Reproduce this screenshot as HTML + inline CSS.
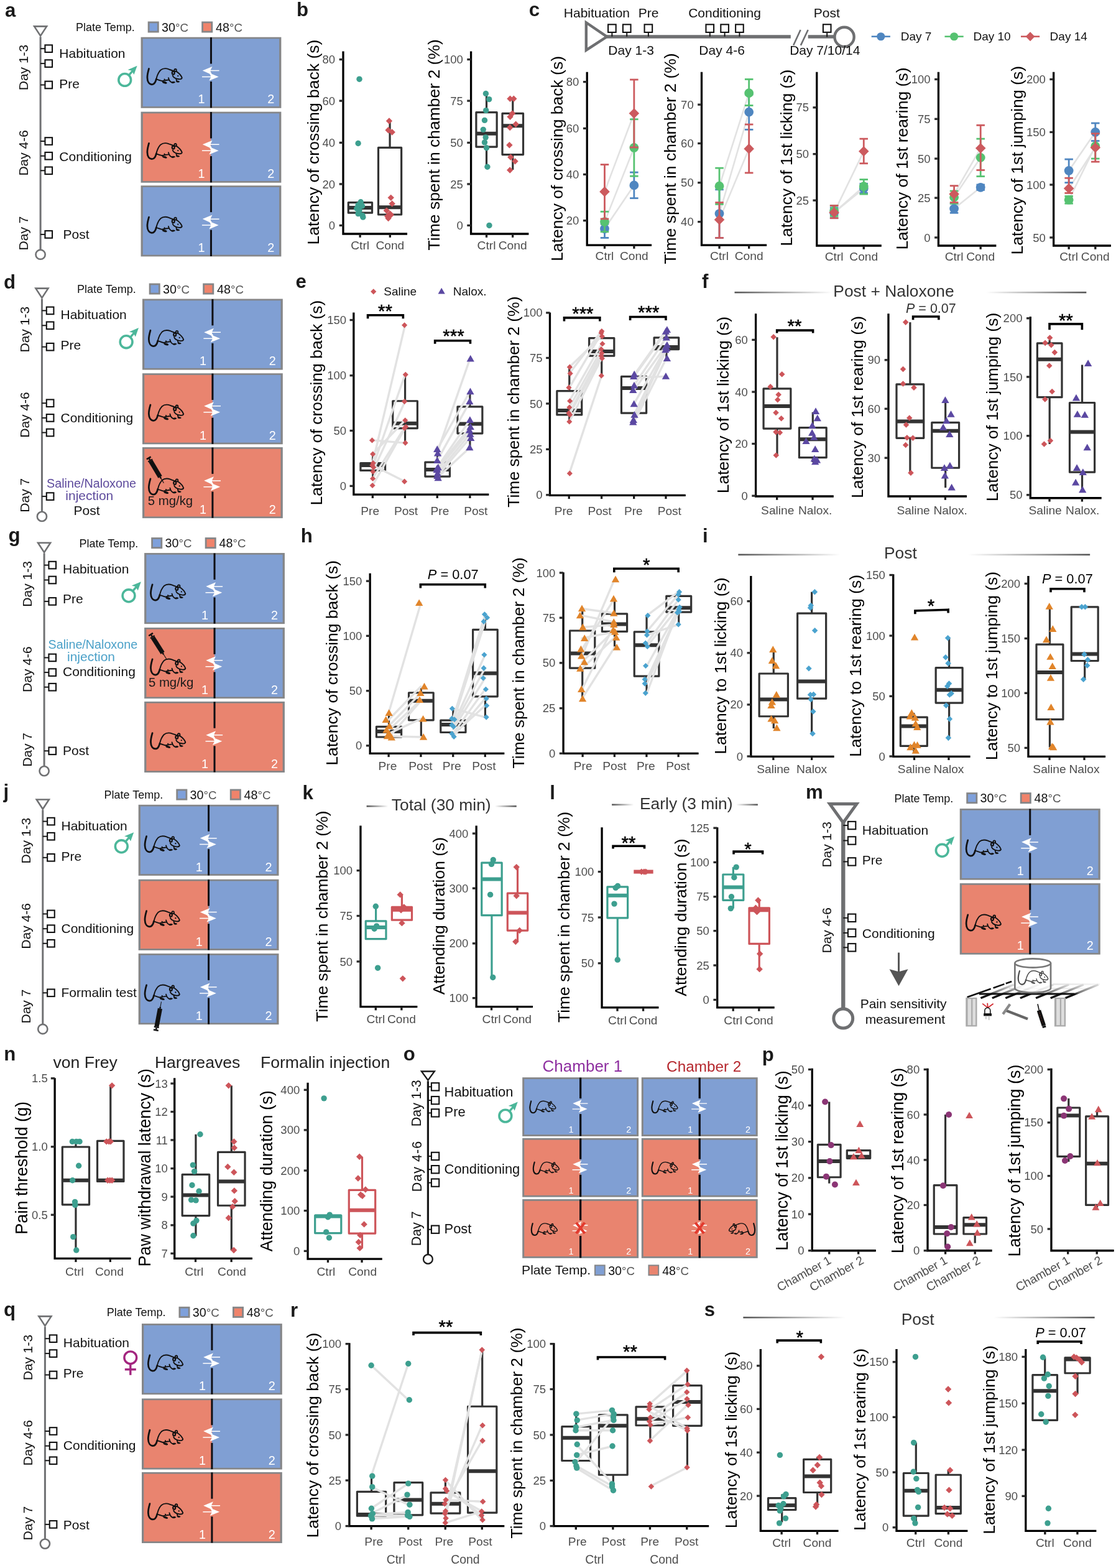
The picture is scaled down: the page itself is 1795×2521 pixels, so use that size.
<!DOCTYPE html>
<html lang="en"><head><meta charset="utf-8"><title>Figure</title>
<style>html,body{margin:0;padding:0;background:#fff}svg{display:block}text{font-family:"Liberation Sans",sans-serif;white-space:pre}</style></head>
<body>
<svg width="1795" height="2521" viewBox="0 0 1795 2521" role="img" aria-label="Figure">
<rect width="1795" height="2521" fill="#fff"/>
<text x="7.9" y="27.2" font-size="31.2" fill="#1a1a1a" font-weight="bold">a</text>
<line x1="65.1" y1="59.2" x2="65.1" y2="401.6" stroke="#707173" stroke-width="3"/>
<polygon points="55.1,42.4 75.1,42.4 65.1,57.7" fill="#fff" stroke="#707173" stroke-width="2.6"/>
<circle cx="65.1" cy="409.2" r="7.6" fill="#fff" stroke="#707173" stroke-width="2.6"/>
<line x1="65.1" y1="78.2" x2="72.45" y2="78.2" stroke="#111" stroke-width="1.9"/>
<rect x="72.45" y="72.4" width="11.6" height="11.6" fill="#fff" stroke="#111" stroke-width="2.1"/>
<line x1="65.1" y1="102.1" x2="72.45" y2="102.1" stroke="#111" stroke-width="1.9"/>
<rect x="72.45" y="96.3" width="11.6" height="11.6" fill="#fff" stroke="#111" stroke-width="2.1"/>
<line x1="65.1" y1="136.5" x2="72.45" y2="136.5" stroke="#111" stroke-width="1.9"/>
<rect x="72.45" y="130.7" width="11.6" height="11.6" fill="#fff" stroke="#111" stroke-width="2.1"/>
<line x1="65.1" y1="227" x2="72.45" y2="227" stroke="#111" stroke-width="1.9"/>
<rect x="72.45" y="221.2" width="11.6" height="11.6" fill="#fff" stroke="#111" stroke-width="2.1"/>
<line x1="65.1" y1="250.7" x2="72.45" y2="250.7" stroke="#111" stroke-width="1.9"/>
<rect x="72.45" y="244.9" width="11.6" height="11.6" fill="#fff" stroke="#111" stroke-width="2.1"/>
<line x1="65.1" y1="274.3" x2="72.45" y2="274.3" stroke="#111" stroke-width="1.9"/>
<rect x="72.45" y="268.5" width="11.6" height="11.6" fill="#fff" stroke="#111" stroke-width="2.1"/>
<line x1="65.1" y1="376.9" x2="72.45" y2="376.9" stroke="#111" stroke-width="1.9"/>
<rect x="72.45" y="371.1" width="11.6" height="11.6" fill="#fff" stroke="#111" stroke-width="2.1"/>
<text x="45" y="108.5" font-size="21" fill="#111" text-anchor="middle" transform="rotate(-90 45 108.5)">Day 1-3</text>
<text x="45" y="245.8" font-size="21" fill="#111" text-anchor="middle" transform="rotate(-90 45 245.8)">Day 4-6</text>
<text x="45" y="375" font-size="21" fill="#111" text-anchor="middle" transform="rotate(-90 45 375)">Day 7</text>
<text x="122" y="50" font-size="18" fill="#111">Plate Temp.</text>
<rect x="237.7" y="34.5" width="18" height="18" fill="#858688"/>
<rect x="240.5" y="37.3" width="12.4" height="12.4" fill="#7ea0db"/>
<text x="260" y="50.8" font-size="19.7" fill="#111">30<tspan fill="#555" font-size="18.71">°C</tspan></text>
<rect x="324.2" y="34.5" width="18" height="18" fill="#858688"/>
<rect x="327" y="37.3" width="12.4" height="12.4" fill="#f0836b"/>
<text x="347" y="50.8" font-size="19.7" fill="#111">48<tspan fill="#555" font-size="18.71">°C</tspan></text>
<rect x="226.55" y="59.7" width="225.8" height="114.1" fill="#858688"/>
<rect x="229.85" y="62.4" width="109.6" height="108.7" fill="#809fd3"/>
<rect x="339.45" y="62.4" width="109.6" height="108.7" fill="#809fd3"/>
<rect x="337.95" y="60.1" width="3" height="42.4" fill="#0f0f14"/>
<rect x="337.95" y="131.1" width="3" height="42.3" fill="#0f0f14"/>
<g transform="translate(339.45 118.4) scale(1.0000)" fill="#fff" stroke="none">
<path d="M-13.7 -4.9 L2 -11.4 L-0.8 -5.6 L13.1 -5.6 L13.1 -4.1 L-0.9 -4.1 L-1 0.9 Z"/>
<path d="M12.2 5.1 L-3.2 11.4 L-0.2 5.85 L-14.5 5.85 L-14.5 4.35 L-0.2 4.35 L-2.9 -1.2 Z"/>
<path d="M-1.6 -4 L-2.9 -1.2 L1.2 3 L0.6 -1 Z"/>
</g>
<g transform="translate(235.85 109.6) scale(0.04310) translate(-130 -225)" fill="none" stroke="#111" stroke-width="44.08" stroke-linecap="round" stroke-linejoin="round">
<path d="M215 245 C190 330 152 470 155 580 C158 720 220 825 320 832 C410 835 465 740 490 630" stroke-width="63.92"/>
<path d="M490 630 C515 520 560 390 650 298 C740 225 870 232 960 265 C1030 292 1090 322 1150 332"/>
<ellipse cx="1203" cy="305" rx="40" ry="46"/>
<ellipse cx="1125" cy="400" rx="46" ry="58" stroke-width="50.69"/>
<path d="M1242 348 C1320 400 1420 500 1450 585 C1440 638 1380 645 1300 630 C1220 615 1130 590 1102 500"/>
<circle cx="1300" cy="515" r="27" fill="#111" stroke="none"/>
<path d="M490 640 C560 655 640 685 700 705 M700 705 C780 680 860 668 945 662 M945 588 C950 620 960 650 985 690 C1010 725 1040 750 1075 760 M1232 622 C1236 660 1245 690 1262 712 M796 640 L800 672"/>
<g fill="#111" stroke-width="22.04">
<ellipse cx="800" cy="758" rx="82" ry="27" transform="rotate(17 800 758)"/>
<ellipse cx="1120" cy="755" rx="62" ry="24" transform="rotate(-6 1120 755)"/>
<ellipse cx="1292" cy="725" rx="58" ry="22" transform="rotate(6 1292 725)"/>
</g>
</g>
<text x="329.55" y="166.4" font-size="19.8" fill="#fff" text-anchor="end">1</text>
<text x="441.35" y="166.4" font-size="19.8" fill="#fff" text-anchor="end">2</text>
<rect x="226.55" y="179.66" width="225.8" height="114.1" fill="#858688"/>
<rect x="229.85" y="182.36" width="109.6" height="108.7" fill="#e9846f"/>
<rect x="339.45" y="182.36" width="109.6" height="108.7" fill="#809fd3"/>
<rect x="337.95" y="180.06" width="3" height="42.4" fill="#0f0f14"/>
<rect x="337.95" y="251.06" width="3" height="42.3" fill="#0f0f14"/>
<g transform="translate(339.45 237.16) scale(1.0000)" fill="#fff" stroke="none">
<path d="M-13.7 -4.9 L2 -11.4 L-0.8 -5.6 L13.1 -5.6 L13.1 -4.1 L-0.9 -4.1 L-1 0.9 Z"/>
<path d="M12.2 5.1 L-3.2 11.4 L-0.2 5.85 L-14.5 5.85 L-14.5 4.35 L-0.2 4.35 L-2.9 -1.2 Z"/>
<path d="M-1.6 -4 L-2.9 -1.2 L1.2 3 L0.6 -1 Z"/>
</g>
<g transform="translate(235.85 229.56) scale(0.04310) translate(-130 -225)" fill="none" stroke="#111" stroke-width="44.08" stroke-linecap="round" stroke-linejoin="round">
<path d="M215 245 C190 330 152 470 155 580 C158 720 220 825 320 832 C410 835 465 740 490 630" stroke-width="63.92"/>
<path d="M490 630 C515 520 560 390 650 298 C740 225 870 232 960 265 C1030 292 1090 322 1150 332"/>
<ellipse cx="1203" cy="305" rx="40" ry="46"/>
<ellipse cx="1125" cy="400" rx="46" ry="58" stroke-width="50.69"/>
<path d="M1242 348 C1320 400 1420 500 1450 585 C1440 638 1380 645 1300 630 C1220 615 1130 590 1102 500"/>
<circle cx="1300" cy="515" r="27" fill="#111" stroke="none"/>
<path d="M490 640 C560 655 640 685 700 705 M700 705 C780 680 860 668 945 662 M945 588 C950 620 960 650 985 690 C1010 725 1040 750 1075 760 M1232 622 C1236 660 1245 690 1262 712 M796 640 L800 672"/>
<g fill="#111" stroke-width="22.04">
<ellipse cx="800" cy="758" rx="82" ry="27" transform="rotate(17 800 758)"/>
<ellipse cx="1120" cy="755" rx="62" ry="24" transform="rotate(-6 1120 755)"/>
<ellipse cx="1292" cy="725" rx="58" ry="22" transform="rotate(6 1292 725)"/>
</g>
</g>
<text x="329.55" y="286.36" font-size="19.8" fill="#fff" text-anchor="end">1</text>
<text x="441.35" y="286.36" font-size="19.8" fill="#fff" text-anchor="end">2</text>
<rect x="226.55" y="298.3" width="225.8" height="114.1" fill="#858688"/>
<rect x="229.85" y="301" width="109.6" height="108.7" fill="#809fd3"/>
<rect x="339.45" y="301" width="109.6" height="108.7" fill="#809fd3"/>
<rect x="337.95" y="298.7" width="3" height="42.4" fill="#0f0f14"/>
<rect x="337.95" y="369.7" width="3" height="42.3" fill="#0f0f14"/>
<g transform="translate(339.45 357) scale(1.0000)" fill="#fff" stroke="none">
<path d="M-13.7 -4.9 L2 -11.4 L-0.8 -5.6 L13.1 -5.6 L13.1 -4.1 L-0.9 -4.1 L-1 0.9 Z"/>
<path d="M12.2 5.1 L-3.2 11.4 L-0.2 5.85 L-14.5 5.85 L-14.5 4.35 L-0.2 4.35 L-2.9 -1.2 Z"/>
<path d="M-1.6 -4 L-2.9 -1.2 L1.2 3 L0.6 -1 Z"/>
</g>
<g transform="translate(235.85 348.2) scale(0.04310) translate(-130 -225)" fill="none" stroke="#111" stroke-width="44.08" stroke-linecap="round" stroke-linejoin="round">
<path d="M215 245 C190 330 152 470 155 580 C158 720 220 825 320 832 C410 835 465 740 490 630" stroke-width="63.92"/>
<path d="M490 630 C515 520 560 390 650 298 C740 225 870 232 960 265 C1030 292 1090 322 1150 332"/>
<ellipse cx="1203" cy="305" rx="40" ry="46"/>
<ellipse cx="1125" cy="400" rx="46" ry="58" stroke-width="50.69"/>
<path d="M1242 348 C1320 400 1420 500 1450 585 C1440 638 1380 645 1300 630 C1220 615 1130 590 1102 500"/>
<circle cx="1300" cy="515" r="27" fill="#111" stroke="none"/>
<path d="M490 640 C560 655 640 685 700 705 M700 705 C780 680 860 668 945 662 M945 588 C950 620 960 650 985 690 C1010 725 1040 750 1075 760 M1232 622 C1236 660 1245 690 1262 712 M796 640 L800 672"/>
<g fill="#111" stroke-width="22.04">
<ellipse cx="800" cy="758" rx="82" ry="27" transform="rotate(17 800 758)"/>
<ellipse cx="1120" cy="755" rx="62" ry="24" transform="rotate(-6 1120 755)"/>
<ellipse cx="1292" cy="725" rx="58" ry="22" transform="rotate(6 1292 725)"/>
</g>
</g>
<text x="329.55" y="405" font-size="19.8" fill="#fff" text-anchor="end">1</text>
<text x="441.35" y="405" font-size="19.8" fill="#fff" text-anchor="end">2</text>
<circle cx="200.7" cy="128.4" r="9.9" fill="none" stroke="#4cb79a" stroke-width="3.6"/>
<line x1="207.3" y1="120.8" x2="215.2" y2="111.8" stroke="#4cb79a" stroke-width="3.4"/>
<polygon points="220.6,105.8 205.5,112.2 211.9,113.8 215.5,120.1" fill="#4cb79a"/>
<text x="95.3" y="92.8" font-size="21" fill="#111">Habituation</text>
<text x="95.3" y="142" font-size="21" fill="#111">Pre</text>
<text x="95.3" y="258.6" font-size="21" fill="#111">Conditioning</text>
<text x="101.6" y="384" font-size="21" fill="#111">Post</text>
<text x="5.9" y="463.9" font-size="31.2" fill="#1a1a1a" font-weight="bold">d</text>
<line x1="67.45" y1="480.4" x2="67.45" y2="822.8" stroke="#707173" stroke-width="3"/>
<polygon points="57.45,463.6 77.45,463.6 67.45,478.9" fill="#fff" stroke="#707173" stroke-width="2.6"/>
<circle cx="67.45" cy="830.4" r="7.6" fill="#fff" stroke="#707173" stroke-width="2.6"/>
<line x1="67.45" y1="499.4" x2="74.8" y2="499.4" stroke="#111" stroke-width="1.9"/>
<rect x="74.8" y="493.6" width="11.6" height="11.6" fill="#fff" stroke="#111" stroke-width="2.1"/>
<line x1="67.45" y1="523.3" x2="74.8" y2="523.3" stroke="#111" stroke-width="1.9"/>
<rect x="74.8" y="517.5" width="11.6" height="11.6" fill="#fff" stroke="#111" stroke-width="2.1"/>
<line x1="67.45" y1="557.7" x2="74.8" y2="557.7" stroke="#111" stroke-width="1.9"/>
<rect x="74.8" y="551.9" width="11.6" height="11.6" fill="#fff" stroke="#111" stroke-width="2.1"/>
<line x1="67.45" y1="648.2" x2="74.8" y2="648.2" stroke="#111" stroke-width="1.9"/>
<rect x="74.8" y="642.4" width="11.6" height="11.6" fill="#fff" stroke="#111" stroke-width="2.1"/>
<line x1="67.45" y1="671.9" x2="74.8" y2="671.9" stroke="#111" stroke-width="1.9"/>
<rect x="74.8" y="666.1" width="11.6" height="11.6" fill="#fff" stroke="#111" stroke-width="2.1"/>
<line x1="67.45" y1="695.5" x2="74.8" y2="695.5" stroke="#111" stroke-width="1.9"/>
<rect x="74.8" y="689.7" width="11.6" height="11.6" fill="#fff" stroke="#111" stroke-width="2.1"/>
<line x1="67.45" y1="798.1" x2="74.8" y2="798.1" stroke="#111" stroke-width="1.9"/>
<rect x="74.8" y="792.3" width="11.6" height="11.6" fill="#fff" stroke="#111" stroke-width="2.1"/>
<text x="47.35" y="529.7" font-size="21" fill="#111" text-anchor="middle" transform="rotate(-90 47.35 529.7)">Day 1-3</text>
<text x="47.35" y="667" font-size="21" fill="#111" text-anchor="middle" transform="rotate(-90 47.35 667)">Day 4-6</text>
<text x="47.35" y="796.2" font-size="21" fill="#111" text-anchor="middle" transform="rotate(-90 47.35 796.2)">Day 7</text>
<text x="124" y="471" font-size="18" fill="#111">Plate Temp.</text>
<rect x="239.7" y="455.5" width="18" height="18" fill="#858688"/>
<rect x="242.5" y="458.3" width="12.4" height="12.4" fill="#7ea0db"/>
<text x="262" y="471.8" font-size="19.7" fill="#111">30<tspan fill="#555" font-size="18.71">°C</tspan></text>
<rect x="326.2" y="455.5" width="18" height="18" fill="#858688"/>
<rect x="329" y="458.3" width="12.4" height="12.4" fill="#f0836b"/>
<text x="349" y="471.8" font-size="19.7" fill="#111">48<tspan fill="#555" font-size="18.71">°C</tspan></text>
<rect x="229" y="480.5" width="225.8" height="114.1" fill="#858688"/>
<rect x="232.3" y="483.2" width="109.6" height="108.7" fill="#809fd3"/>
<rect x="341.9" y="483.2" width="109.6" height="108.7" fill="#809fd3"/>
<rect x="340.4" y="480.9" width="3" height="42.4" fill="#0f0f14"/>
<rect x="340.4" y="551.9" width="3" height="42.3" fill="#0f0f14"/>
<g transform="translate(341.9 539.2) scale(1.0000)" fill="#fff" stroke="none">
<path d="M-13.7 -4.9 L2 -11.4 L-0.8 -5.6 L13.1 -5.6 L13.1 -4.1 L-0.9 -4.1 L-1 0.9 Z"/>
<path d="M12.2 5.1 L-3.2 11.4 L-0.2 5.85 L-14.5 5.85 L-14.5 4.35 L-0.2 4.35 L-2.9 -1.2 Z"/>
<path d="M-1.6 -4 L-2.9 -1.2 L1.2 3 L0.6 -1 Z"/>
</g>
<g transform="translate(238.3 530.4) scale(0.04310) translate(-130 -225)" fill="none" stroke="#111" stroke-width="44.08" stroke-linecap="round" stroke-linejoin="round">
<path d="M215 245 C190 330 152 470 155 580 C158 720 220 825 320 832 C410 835 465 740 490 630" stroke-width="63.92"/>
<path d="M490 630 C515 520 560 390 650 298 C740 225 870 232 960 265 C1030 292 1090 322 1150 332"/>
<ellipse cx="1203" cy="305" rx="40" ry="46"/>
<ellipse cx="1125" cy="400" rx="46" ry="58" stroke-width="50.69"/>
<path d="M1242 348 C1320 400 1420 500 1450 585 C1440 638 1380 645 1300 630 C1220 615 1130 590 1102 500"/>
<circle cx="1300" cy="515" r="27" fill="#111" stroke="none"/>
<path d="M490 640 C560 655 640 685 700 705 M700 705 C780 680 860 668 945 662 M945 588 C950 620 960 650 985 690 C1010 725 1040 750 1075 760 M1232 622 C1236 660 1245 690 1262 712 M796 640 L800 672"/>
<g fill="#111" stroke-width="22.04">
<ellipse cx="800" cy="758" rx="82" ry="27" transform="rotate(17 800 758)"/>
<ellipse cx="1120" cy="755" rx="62" ry="24" transform="rotate(-6 1120 755)"/>
<ellipse cx="1292" cy="725" rx="58" ry="22" transform="rotate(6 1292 725)"/>
</g>
</g>
<text x="332" y="587.2" font-size="19.8" fill="#fff" text-anchor="end">1</text>
<text x="443.8" y="587.2" font-size="19.8" fill="#fff" text-anchor="end">2</text>
<rect x="229" y="600.2" width="225.8" height="114.1" fill="#858688"/>
<rect x="232.3" y="602.9" width="109.6" height="108.7" fill="#e9846f"/>
<rect x="341.9" y="602.9" width="109.6" height="108.7" fill="#809fd3"/>
<rect x="340.4" y="600.6" width="3" height="42.4" fill="#0f0f14"/>
<rect x="340.4" y="671.6" width="3" height="42.3" fill="#0f0f14"/>
<g transform="translate(341.9 657.7) scale(1.0000)" fill="#fff" stroke="none">
<path d="M-13.7 -4.9 L2 -11.4 L-0.8 -5.6 L13.1 -5.6 L13.1 -4.1 L-0.9 -4.1 L-1 0.9 Z"/>
<path d="M12.2 5.1 L-3.2 11.4 L-0.2 5.85 L-14.5 5.85 L-14.5 4.35 L-0.2 4.35 L-2.9 -1.2 Z"/>
<path d="M-1.6 -4 L-2.9 -1.2 L1.2 3 L0.6 -1 Z"/>
</g>
<g transform="translate(238.3 650.1) scale(0.04310) translate(-130 -225)" fill="none" stroke="#111" stroke-width="44.08" stroke-linecap="round" stroke-linejoin="round">
<path d="M215 245 C190 330 152 470 155 580 C158 720 220 825 320 832 C410 835 465 740 490 630" stroke-width="63.92"/>
<path d="M490 630 C515 520 560 390 650 298 C740 225 870 232 960 265 C1030 292 1090 322 1150 332"/>
<ellipse cx="1203" cy="305" rx="40" ry="46"/>
<ellipse cx="1125" cy="400" rx="46" ry="58" stroke-width="50.69"/>
<path d="M1242 348 C1320 400 1420 500 1450 585 C1440 638 1380 645 1300 630 C1220 615 1130 590 1102 500"/>
<circle cx="1300" cy="515" r="27" fill="#111" stroke="none"/>
<path d="M490 640 C560 655 640 685 700 705 M700 705 C780 680 860 668 945 662 M945 588 C950 620 960 650 985 690 C1010 725 1040 750 1075 760 M1232 622 C1236 660 1245 690 1262 712 M796 640 L800 672"/>
<g fill="#111" stroke-width="22.04">
<ellipse cx="800" cy="758" rx="82" ry="27" transform="rotate(17 800 758)"/>
<ellipse cx="1120" cy="755" rx="62" ry="24" transform="rotate(-6 1120 755)"/>
<ellipse cx="1292" cy="725" rx="58" ry="22" transform="rotate(6 1292 725)"/>
</g>
</g>
<text x="332" y="706.9" font-size="19.8" fill="#fff" text-anchor="end">1</text>
<text x="443.8" y="706.9" font-size="19.8" fill="#fff" text-anchor="end">2</text>
<rect x="229" y="719.05" width="225.8" height="114.1" fill="#858688"/>
<rect x="232.3" y="721.75" width="109.6" height="108.7" fill="#e9846f"/>
<rect x="341.9" y="721.75" width="109.6" height="108.7" fill="#e9846f"/>
<rect x="340.4" y="719.45" width="3" height="42.4" fill="#0f0f14"/>
<rect x="340.4" y="790.45" width="3" height="42.3" fill="#0f0f14"/>
<g transform="translate(341.9 777.75) scale(1.0000)" fill="#fff" stroke="none">
<path d="M-13.7 -4.9 L2 -11.4 L-0.8 -5.6 L13.1 -5.6 L13.1 -4.1 L-0.9 -4.1 L-1 0.9 Z"/>
<path d="M12.2 5.1 L-3.2 11.4 L-0.2 5.85 L-14.5 5.85 L-14.5 4.35 L-0.2 4.35 L-2.9 -1.2 Z"/>
<path d="M-1.6 -4 L-2.9 -1.2 L1.2 3 L0.6 -1 Z"/>
</g>
<g transform="translate(238.3 768.95) scale(0.04310) translate(-130 -225)" fill="none" stroke="#111" stroke-width="44.08" stroke-linecap="round" stroke-linejoin="round">
<path d="M215 245 C190 330 152 470 155 580 C158 720 220 825 320 832 C410 835 465 740 490 630" stroke-width="63.92"/>
<path d="M490 630 C515 520 560 390 650 298 C740 225 870 232 960 265 C1030 292 1090 322 1150 332"/>
<ellipse cx="1203" cy="305" rx="40" ry="46"/>
<ellipse cx="1125" cy="400" rx="46" ry="58" stroke-width="50.69"/>
<path d="M1242 348 C1320 400 1420 500 1450 585 C1440 638 1380 645 1300 630 C1220 615 1130 590 1102 500"/>
<circle cx="1300" cy="515" r="27" fill="#111" stroke="none"/>
<path d="M490 640 C560 655 640 685 700 705 M700 705 C780 680 860 668 945 662 M945 588 C950 620 960 650 985 690 C1010 725 1040 750 1075 760 M1232 622 C1236 660 1245 690 1262 712 M796 640 L800 672"/>
<g fill="#111" stroke-width="22.04">
<ellipse cx="800" cy="758" rx="82" ry="27" transform="rotate(17 800 758)"/>
<ellipse cx="1120" cy="755" rx="62" ry="24" transform="rotate(-6 1120 755)"/>
<ellipse cx="1292" cy="725" rx="58" ry="22" transform="rotate(6 1292 725)"/>
</g>
</g>
<text x="332" y="825.75" font-size="19.8" fill="#fff" text-anchor="end">1</text>
<text x="443.8" y="825.75" font-size="19.8" fill="#fff" text-anchor="end">2</text>
<g transform="translate(238.6 735.2) rotate(59.08)">
<rect x="0" y="-3.96" width="2.6" height="7.92" fill="#111"/>
<rect x="2.6" y="-1.3" width="2.6" height="2.6" fill="#111"/>
<rect x="5" y="-4.03" width="2" height="8.06" fill="#111"/>
<rect x="7" y="-3.6" width="29.92" height="7.2" fill="#111"/>
<rect x="36.92" y="-1.3" width="2.5" height="2.6" fill="#111"/>
<line x1="36.92" y1="0" x2="48.26" y2="0" stroke="#111" stroke-width="1.1"/>
</g>
<text x="237.7" y="812.4" font-size="19.5" fill="#1a1a1a" textLength="72.5" lengthAdjust="spacingAndGlyphs">5 mg/kg</text>
<circle cx="203.1" cy="549.7" r="9.9" fill="none" stroke="#4cb79a" stroke-width="3.6"/>
<line x1="209.7" y1="542.1" x2="217.6" y2="533.1" stroke="#4cb79a" stroke-width="3.4"/>
<polygon points="223,527.1 207.9,533.5 214.3,535.1 217.9,541.4" fill="#4cb79a"/>
<text x="97.5" y="513.1" font-size="21" fill="#111">Habituation</text>
<text x="97.5" y="561.6" font-size="21" fill="#111">Pre</text>
<text x="97.5" y="678.5" font-size="21" fill="#111">Conditioning</text>
<text x="75" y="784.3" font-size="20" fill="#5d4a9c" textLength="144" lengthAdjust="spacingAndGlyphs">Saline/Naloxone</text>
<text x="105.3" y="803.7" font-size="20" fill="#5d4a9c" textLength="77" lengthAdjust="spacingAndGlyphs">injection</text>
<text x="118.6" y="827.6" font-size="21" fill="#111">Post</text>
<text x="13.4" y="871.2" font-size="31.2" fill="#1a1a1a" font-weight="bold">g</text>
<line x1="71.1" y1="889.6" x2="71.1" y2="1232" stroke="#707173" stroke-width="3"/>
<polygon points="61.1,872.8 81.1,872.8 71.1,888.1" fill="#fff" stroke="#707173" stroke-width="2.6"/>
<circle cx="71.1" cy="1239.6" r="7.6" fill="#fff" stroke="#707173" stroke-width="2.6"/>
<line x1="71.1" y1="908.6" x2="78.45" y2="908.6" stroke="#111" stroke-width="1.9"/>
<rect x="78.45" y="902.8" width="11.6" height="11.6" fill="#fff" stroke="#111" stroke-width="2.1"/>
<line x1="71.1" y1="932.5" x2="78.45" y2="932.5" stroke="#111" stroke-width="1.9"/>
<rect x="78.45" y="926.7" width="11.6" height="11.6" fill="#fff" stroke="#111" stroke-width="2.1"/>
<line x1="71.1" y1="966.9" x2="78.45" y2="966.9" stroke="#111" stroke-width="1.9"/>
<rect x="78.45" y="961.1" width="11.6" height="11.6" fill="#fff" stroke="#111" stroke-width="2.1"/>
<line x1="71.1" y1="1057.4" x2="78.45" y2="1057.4" stroke="#111" stroke-width="1.9"/>
<rect x="78.45" y="1051.6" width="11.6" height="11.6" fill="#fff" stroke="#111" stroke-width="2.1"/>
<line x1="71.1" y1="1081.1" x2="78.45" y2="1081.1" stroke="#111" stroke-width="1.9"/>
<rect x="78.45" y="1075.3" width="11.6" height="11.6" fill="#fff" stroke="#111" stroke-width="2.1"/>
<line x1="71.1" y1="1104.7" x2="78.45" y2="1104.7" stroke="#111" stroke-width="1.9"/>
<rect x="78.45" y="1098.9" width="11.6" height="11.6" fill="#fff" stroke="#111" stroke-width="2.1"/>
<line x1="71.1" y1="1207.3" x2="78.45" y2="1207.3" stroke="#111" stroke-width="1.9"/>
<rect x="78.45" y="1201.5" width="11.6" height="11.6" fill="#fff" stroke="#111" stroke-width="2.1"/>
<text x="51" y="938.9" font-size="21" fill="#111" text-anchor="middle" transform="rotate(-90 51 938.9)">Day 1-3</text>
<text x="51" y="1076.2" font-size="21" fill="#111" text-anchor="middle" transform="rotate(-90 51 1076.2)">Day 4-6</text>
<text x="51" y="1205.4" font-size="21" fill="#111" text-anchor="middle" transform="rotate(-90 51 1205.4)">Day 7</text>
<text x="127.5" y="879.6" font-size="18" fill="#111">Plate Temp.</text>
<rect x="243.2" y="864.1" width="18" height="18" fill="#858688"/>
<rect x="246" y="866.9" width="12.4" height="12.4" fill="#7ea0db"/>
<text x="265.5" y="880.4" font-size="19.7" fill="#111">30<tspan fill="#555" font-size="18.71">°C</tspan></text>
<rect x="329.7" y="864.1" width="18" height="18" fill="#858688"/>
<rect x="332.5" y="866.9" width="12.4" height="12.4" fill="#f0836b"/>
<text x="352.5" y="880.4" font-size="19.7" fill="#111">48<tspan fill="#555" font-size="18.71">°C</tspan></text>
<rect x="232.12" y="889.05" width="225.8" height="114.1" fill="#858688"/>
<rect x="235.42" y="891.75" width="109.6" height="108.7" fill="#809fd3"/>
<rect x="345.02" y="891.75" width="109.6" height="108.7" fill="#809fd3"/>
<rect x="343.52" y="889.45" width="3" height="42.4" fill="#0f0f14"/>
<rect x="343.52" y="960.45" width="3" height="42.3" fill="#0f0f14"/>
<g transform="translate(345.02 947.75) scale(1.0000)" fill="#fff" stroke="none">
<path d="M-13.7 -4.9 L2 -11.4 L-0.8 -5.6 L13.1 -5.6 L13.1 -4.1 L-0.9 -4.1 L-1 0.9 Z"/>
<path d="M12.2 5.1 L-3.2 11.4 L-0.2 5.85 L-14.5 5.85 L-14.5 4.35 L-0.2 4.35 L-2.9 -1.2 Z"/>
<path d="M-1.6 -4 L-2.9 -1.2 L1.2 3 L0.6 -1 Z"/>
</g>
<g transform="translate(241.42 938.95) scale(0.04310) translate(-130 -225)" fill="none" stroke="#111" stroke-width="44.08" stroke-linecap="round" stroke-linejoin="round">
<path d="M215 245 C190 330 152 470 155 580 C158 720 220 825 320 832 C410 835 465 740 490 630" stroke-width="63.92"/>
<path d="M490 630 C515 520 560 390 650 298 C740 225 870 232 960 265 C1030 292 1090 322 1150 332"/>
<ellipse cx="1203" cy="305" rx="40" ry="46"/>
<ellipse cx="1125" cy="400" rx="46" ry="58" stroke-width="50.69"/>
<path d="M1242 348 C1320 400 1420 500 1450 585 C1440 638 1380 645 1300 630 C1220 615 1130 590 1102 500"/>
<circle cx="1300" cy="515" r="27" fill="#111" stroke="none"/>
<path d="M490 640 C560 655 640 685 700 705 M700 705 C780 680 860 668 945 662 M945 588 C950 620 960 650 985 690 C1010 725 1040 750 1075 760 M1232 622 C1236 660 1245 690 1262 712 M796 640 L800 672"/>
<g fill="#111" stroke-width="22.04">
<ellipse cx="800" cy="758" rx="82" ry="27" transform="rotate(17 800 758)"/>
<ellipse cx="1120" cy="755" rx="62" ry="24" transform="rotate(-6 1120 755)"/>
<ellipse cx="1292" cy="725" rx="58" ry="22" transform="rotate(6 1292 725)"/>
</g>
</g>
<text x="335.12" y="995.75" font-size="19.8" fill="#fff" text-anchor="end">1</text>
<text x="446.92" y="995.75" font-size="19.8" fill="#fff" text-anchor="end">2</text>
<rect x="232.12" y="1009.05" width="225.8" height="114.1" fill="#858688"/>
<rect x="235.42" y="1011.75" width="109.6" height="108.7" fill="#e9846f"/>
<rect x="345.02" y="1011.75" width="109.6" height="108.7" fill="#809fd3"/>
<rect x="343.52" y="1009.45" width="3" height="42.4" fill="#0f0f14"/>
<rect x="343.52" y="1080.45" width="3" height="42.3" fill="#0f0f14"/>
<g transform="translate(345.02 1066.55) scale(1.0000)" fill="#fff" stroke="none">
<path d="M-13.7 -4.9 L2 -11.4 L-0.8 -5.6 L13.1 -5.6 L13.1 -4.1 L-0.9 -4.1 L-1 0.9 Z"/>
<path d="M12.2 5.1 L-3.2 11.4 L-0.2 5.85 L-14.5 5.85 L-14.5 4.35 L-0.2 4.35 L-2.9 -1.2 Z"/>
<path d="M-1.6 -4 L-2.9 -1.2 L1.2 3 L0.6 -1 Z"/>
</g>
<g transform="translate(241.42 1058.95) scale(0.04310) translate(-130 -225)" fill="none" stroke="#111" stroke-width="44.08" stroke-linecap="round" stroke-linejoin="round">
<path d="M215 245 C190 330 152 470 155 580 C158 720 220 825 320 832 C410 835 465 740 490 630" stroke-width="63.92"/>
<path d="M490 630 C515 520 560 390 650 298 C740 225 870 232 960 265 C1030 292 1090 322 1150 332"/>
<ellipse cx="1203" cy="305" rx="40" ry="46"/>
<ellipse cx="1125" cy="400" rx="46" ry="58" stroke-width="50.69"/>
<path d="M1242 348 C1320 400 1420 500 1450 585 C1440 638 1380 645 1300 630 C1220 615 1130 590 1102 500"/>
<circle cx="1300" cy="515" r="27" fill="#111" stroke="none"/>
<path d="M490 640 C560 655 640 685 700 705 M700 705 C780 680 860 668 945 662 M945 588 C950 620 960 650 985 690 C1010 725 1040 750 1075 760 M1232 622 C1236 660 1245 690 1262 712 M796 640 L800 672"/>
<g fill="#111" stroke-width="22.04">
<ellipse cx="800" cy="758" rx="82" ry="27" transform="rotate(17 800 758)"/>
<ellipse cx="1120" cy="755" rx="62" ry="24" transform="rotate(-6 1120 755)"/>
<ellipse cx="1292" cy="725" rx="58" ry="22" transform="rotate(6 1292 725)"/>
</g>
</g>
<text x="335.12" y="1115.75" font-size="19.8" fill="#fff" text-anchor="end">1</text>
<text x="446.92" y="1115.75" font-size="19.8" fill="#fff" text-anchor="end">2</text>
<g transform="translate(241.9 1019) rotate(57.41)">
<rect x="0" y="-3.96" width="2.6" height="7.92" fill="#111"/>
<rect x="2.6" y="-1.3" width="2.6" height="2.6" fill="#111"/>
<rect x="5" y="-4.03" width="2" height="8.06" fill="#111"/>
<rect x="7" y="-3.6" width="29.58" height="7.2" fill="#111"/>
<rect x="36.58" y="-1.3" width="2.5" height="2.6" fill="#111"/>
<line x1="36.58" y1="0" x2="47.71" y2="0" stroke="#111" stroke-width="1.1"/>
</g>
<text x="238.9" y="1104.1" font-size="19.5" fill="#1a1a1a" textLength="72.5" lengthAdjust="spacingAndGlyphs">5 mg/kg</text>
<rect x="232.12" y="1127.93" width="225.8" height="114.1" fill="#858688"/>
<rect x="235.42" y="1130.63" width="109.6" height="108.7" fill="#e9846f"/>
<rect x="345.02" y="1130.63" width="109.6" height="108.7" fill="#e9846f"/>
<rect x="343.52" y="1128.33" width="3" height="42.4" fill="#0f0f14"/>
<rect x="343.52" y="1199.33" width="3" height="42.3" fill="#0f0f14"/>
<g transform="translate(345.02 1186.63) scale(1.0000)" fill="#fff" stroke="none">
<path d="M-13.7 -4.9 L2 -11.4 L-0.8 -5.6 L13.1 -5.6 L13.1 -4.1 L-0.9 -4.1 L-1 0.9 Z"/>
<path d="M12.2 5.1 L-3.2 11.4 L-0.2 5.85 L-14.5 5.85 L-14.5 4.35 L-0.2 4.35 L-2.9 -1.2 Z"/>
<path d="M-1.6 -4 L-2.9 -1.2 L1.2 3 L0.6 -1 Z"/>
</g>
<g transform="translate(241.42 1177.83) scale(0.04310) translate(-130 -225)" fill="none" stroke="#111" stroke-width="44.08" stroke-linecap="round" stroke-linejoin="round">
<path d="M215 245 C190 330 152 470 155 580 C158 720 220 825 320 832 C410 835 465 740 490 630" stroke-width="63.92"/>
<path d="M490 630 C515 520 560 390 650 298 C740 225 870 232 960 265 C1030 292 1090 322 1150 332"/>
<ellipse cx="1203" cy="305" rx="40" ry="46"/>
<ellipse cx="1125" cy="400" rx="46" ry="58" stroke-width="50.69"/>
<path d="M1242 348 C1320 400 1420 500 1450 585 C1440 638 1380 645 1300 630 C1220 615 1130 590 1102 500"/>
<circle cx="1300" cy="515" r="27" fill="#111" stroke="none"/>
<path d="M490 640 C560 655 640 685 700 705 M700 705 C780 680 860 668 945 662 M945 588 C950 620 960 650 985 690 C1010 725 1040 750 1075 760 M1232 622 C1236 660 1245 690 1262 712 M796 640 L800 672"/>
<g fill="#111" stroke-width="22.04">
<ellipse cx="800" cy="758" rx="82" ry="27" transform="rotate(17 800 758)"/>
<ellipse cx="1120" cy="755" rx="62" ry="24" transform="rotate(-6 1120 755)"/>
<ellipse cx="1292" cy="725" rx="58" ry="22" transform="rotate(6 1292 725)"/>
</g>
</g>
<text x="335.12" y="1234.63" font-size="19.8" fill="#fff" text-anchor="end">1</text>
<text x="446.92" y="1234.63" font-size="19.8" fill="#fff" text-anchor="end">2</text>
<circle cx="207" cy="957.8" r="9.9" fill="none" stroke="#4cb79a" stroke-width="3.6"/>
<line x1="213.6" y1="950.2" x2="221.5" y2="941.2" stroke="#4cb79a" stroke-width="3.4"/>
<polygon points="226.9,935.2 211.8,941.6 218.2,943.2 221.8,949.5" fill="#4cb79a"/>
<text x="101.1" y="922.3" font-size="21" fill="#111">Habituation</text>
<text x="101.1" y="970.2" font-size="21" fill="#111">Pre</text>
<text x="77.6" y="1043.2" font-size="20" fill="#4aa0c8" textLength="143.5" lengthAdjust="spacingAndGlyphs">Saline/Naloxone</text>
<text x="108" y="1063.1" font-size="20" fill="#4aa0c8" textLength="77" lengthAdjust="spacingAndGlyphs">injection</text>
<text x="101.1" y="1086.6" font-size="21" fill="#111">Conditioning</text>
<text x="101.1" y="1214.1" font-size="21" fill="#111">Post</text>
<text x="5.4" y="1283.4" font-size="31.2" fill="#1a1a1a" font-weight="bold">j</text>
<line x1="68.8" y1="1302.3" x2="68.8" y2="1646.9" stroke="#707173" stroke-width="3"/>
<polygon points="58.8,1285.5 78.8,1285.5 68.8,1300.8" fill="#fff" stroke="#707173" stroke-width="2.6"/>
<circle cx="68.8" cy="1654.5" r="7.6" fill="#fff" stroke="#707173" stroke-width="2.6"/>
<line x1="68.8" y1="1320.6" x2="76.15" y2="1320.6" stroke="#111" stroke-width="1.9"/>
<rect x="76.15" y="1314.8" width="11.6" height="11.6" fill="#fff" stroke="#111" stroke-width="2.1"/>
<line x1="68.8" y1="1344.7" x2="76.15" y2="1344.7" stroke="#111" stroke-width="1.9"/>
<rect x="76.15" y="1338.9" width="11.6" height="11.6" fill="#fff" stroke="#111" stroke-width="2.1"/>
<line x1="68.8" y1="1378.8" x2="76.15" y2="1378.8" stroke="#111" stroke-width="1.9"/>
<rect x="76.15" y="1373" width="11.6" height="11.6" fill="#fff" stroke="#111" stroke-width="2.1"/>
<line x1="68.8" y1="1469.4" x2="76.15" y2="1469.4" stroke="#111" stroke-width="1.9"/>
<rect x="76.15" y="1463.6" width="11.6" height="11.6" fill="#fff" stroke="#111" stroke-width="2.1"/>
<line x1="68.8" y1="1493.2" x2="76.15" y2="1493.2" stroke="#111" stroke-width="1.9"/>
<rect x="76.15" y="1487.4" width="11.6" height="11.6" fill="#fff" stroke="#111" stroke-width="2.1"/>
<line x1="68.8" y1="1516.8" x2="76.15" y2="1516.8" stroke="#111" stroke-width="1.9"/>
<rect x="76.15" y="1511" width="11.6" height="11.6" fill="#fff" stroke="#111" stroke-width="2.1"/>
<line x1="68.8" y1="1596.3" x2="76.15" y2="1596.3" stroke="#111" stroke-width="1.9"/>
<rect x="76.15" y="1590.5" width="11.6" height="11.6" fill="#fff" stroke="#111" stroke-width="2.1"/>
<text x="48.7" y="1351.6" font-size="21" fill="#111" text-anchor="middle" transform="rotate(-90 48.7 1351.6)">Day 1-3</text>
<text x="48.7" y="1488.9" font-size="21" fill="#111" text-anchor="middle" transform="rotate(-90 48.7 1488.9)">Day 4-6</text>
<text x="48.7" y="1618.1" font-size="21" fill="#111" text-anchor="middle" transform="rotate(-90 48.7 1618.1)">Day 7</text>
<text x="167.6" y="1284.1" font-size="18" fill="#111">Plate Temp.</text>
<rect x="283.3" y="1268.6" width="18" height="18" fill="#858688"/>
<rect x="286.1" y="1271.4" width="12.4" height="12.4" fill="#7ea0db"/>
<text x="305.6" y="1284.9" font-size="19.7" fill="#111">30<tspan fill="#555" font-size="18.71">°C</tspan></text>
<rect x="369.8" y="1268.6" width="18" height="18" fill="#858688"/>
<rect x="372.6" y="1271.4" width="12.4" height="12.4" fill="#f0836b"/>
<text x="392.6" y="1284.9" font-size="19.7" fill="#111">48<tspan fill="#555" font-size="18.71">°C</tspan></text>
<rect x="222.67" y="1293.8" width="225.8" height="114.1" fill="#858688"/>
<rect x="225.97" y="1296.5" width="109.6" height="108.7" fill="#809fd3"/>
<rect x="335.57" y="1296.5" width="109.6" height="108.7" fill="#809fd3"/>
<rect x="334.07" y="1294.2" width="3" height="42.4" fill="#0f0f14"/>
<rect x="334.07" y="1365.2" width="3" height="42.3" fill="#0f0f14"/>
<g transform="translate(335.57 1352.5) scale(1.0000)" fill="#fff" stroke="none">
<path d="M-13.7 -4.9 L2 -11.4 L-0.8 -5.6 L13.1 -5.6 L13.1 -4.1 L-0.9 -4.1 L-1 0.9 Z"/>
<path d="M12.2 5.1 L-3.2 11.4 L-0.2 5.85 L-14.5 5.85 L-14.5 4.35 L-0.2 4.35 L-2.9 -1.2 Z"/>
<path d="M-1.6 -4 L-2.9 -1.2 L1.2 3 L0.6 -1 Z"/>
</g>
<g transform="translate(231.97 1343.7) scale(0.04310) translate(-130 -225)" fill="none" stroke="#111" stroke-width="44.08" stroke-linecap="round" stroke-linejoin="round">
<path d="M215 245 C190 330 152 470 155 580 C158 720 220 825 320 832 C410 835 465 740 490 630" stroke-width="63.92"/>
<path d="M490 630 C515 520 560 390 650 298 C740 225 870 232 960 265 C1030 292 1090 322 1150 332"/>
<ellipse cx="1203" cy="305" rx="40" ry="46"/>
<ellipse cx="1125" cy="400" rx="46" ry="58" stroke-width="50.69"/>
<path d="M1242 348 C1320 400 1420 500 1450 585 C1440 638 1380 645 1300 630 C1220 615 1130 590 1102 500"/>
<circle cx="1300" cy="515" r="27" fill="#111" stroke="none"/>
<path d="M490 640 C560 655 640 685 700 705 M700 705 C780 680 860 668 945 662 M945 588 C950 620 960 650 985 690 C1010 725 1040 750 1075 760 M1232 622 C1236 660 1245 690 1262 712 M796 640 L800 672"/>
<g fill="#111" stroke-width="22.04">
<ellipse cx="800" cy="758" rx="82" ry="27" transform="rotate(17 800 758)"/>
<ellipse cx="1120" cy="755" rx="62" ry="24" transform="rotate(-6 1120 755)"/>
<ellipse cx="1292" cy="725" rx="58" ry="22" transform="rotate(6 1292 725)"/>
</g>
</g>
<text x="325.67" y="1400.5" font-size="19.8" fill="#fff" text-anchor="end">1</text>
<text x="437.47" y="1400.5" font-size="19.8" fill="#fff" text-anchor="end">2</text>
<rect x="222.67" y="1413.8" width="225.8" height="114.1" fill="#858688"/>
<rect x="225.97" y="1416.5" width="109.6" height="108.7" fill="#e9846f"/>
<rect x="335.57" y="1416.5" width="109.6" height="108.7" fill="#809fd3"/>
<rect x="334.07" y="1414.2" width="3" height="42.4" fill="#0f0f14"/>
<rect x="334.07" y="1485.2" width="3" height="42.3" fill="#0f0f14"/>
<g transform="translate(335.57 1471.3) scale(1.0000)" fill="#fff" stroke="none">
<path d="M-13.7 -4.9 L2 -11.4 L-0.8 -5.6 L13.1 -5.6 L13.1 -4.1 L-0.9 -4.1 L-1 0.9 Z"/>
<path d="M12.2 5.1 L-3.2 11.4 L-0.2 5.85 L-14.5 5.85 L-14.5 4.35 L-0.2 4.35 L-2.9 -1.2 Z"/>
<path d="M-1.6 -4 L-2.9 -1.2 L1.2 3 L0.6 -1 Z"/>
</g>
<g transform="translate(231.97 1463.7) scale(0.04310) translate(-130 -225)" fill="none" stroke="#111" stroke-width="44.08" stroke-linecap="round" stroke-linejoin="round">
<path d="M215 245 C190 330 152 470 155 580 C158 720 220 825 320 832 C410 835 465 740 490 630" stroke-width="63.92"/>
<path d="M490 630 C515 520 560 390 650 298 C740 225 870 232 960 265 C1030 292 1090 322 1150 332"/>
<ellipse cx="1203" cy="305" rx="40" ry="46"/>
<ellipse cx="1125" cy="400" rx="46" ry="58" stroke-width="50.69"/>
<path d="M1242 348 C1320 400 1420 500 1450 585 C1440 638 1380 645 1300 630 C1220 615 1130 590 1102 500"/>
<circle cx="1300" cy="515" r="27" fill="#111" stroke="none"/>
<path d="M490 640 C560 655 640 685 700 705 M700 705 C780 680 860 668 945 662 M945 588 C950 620 960 650 985 690 C1010 725 1040 750 1075 760 M1232 622 C1236 660 1245 690 1262 712 M796 640 L800 672"/>
<g fill="#111" stroke-width="22.04">
<ellipse cx="800" cy="758" rx="82" ry="27" transform="rotate(17 800 758)"/>
<ellipse cx="1120" cy="755" rx="62" ry="24" transform="rotate(-6 1120 755)"/>
<ellipse cx="1292" cy="725" rx="58" ry="22" transform="rotate(6 1292 725)"/>
</g>
</g>
<text x="325.67" y="1520.5" font-size="19.8" fill="#fff" text-anchor="end">1</text>
<text x="437.47" y="1520.5" font-size="19.8" fill="#fff" text-anchor="end">2</text>
<rect x="222.67" y="1533.1" width="225.8" height="114.1" fill="#858688"/>
<rect x="225.97" y="1535.8" width="109.6" height="108.7" fill="#809fd3"/>
<rect x="335.57" y="1535.8" width="109.6" height="108.7" fill="#809fd3"/>
<rect x="334.07" y="1533.5" width="3" height="42.4" fill="#0f0f14"/>
<rect x="334.07" y="1604.5" width="3" height="42.3" fill="#0f0f14"/>
<g transform="translate(335.57 1591.8) scale(1.0000)" fill="#fff" stroke="none">
<path d="M-13.7 -4.9 L2 -11.4 L-0.8 -5.6 L13.1 -5.6 L13.1 -4.1 L-0.9 -4.1 L-1 0.9 Z"/>
<path d="M12.2 5.1 L-3.2 11.4 L-0.2 5.85 L-14.5 5.85 L-14.5 4.35 L-0.2 4.35 L-2.9 -1.2 Z"/>
<path d="M-1.6 -4 L-2.9 -1.2 L1.2 3 L0.6 -1 Z"/>
</g>
<g transform="translate(231.97 1583) scale(0.04310) translate(-130 -225)" fill="none" stroke="#111" stroke-width="44.08" stroke-linecap="round" stroke-linejoin="round">
<path d="M215 245 C190 330 152 470 155 580 C158 720 220 825 320 832 C410 835 465 740 490 630" stroke-width="63.92"/>
<path d="M490 630 C515 520 560 390 650 298 C740 225 870 232 960 265 C1030 292 1090 322 1150 332"/>
<ellipse cx="1203" cy="305" rx="40" ry="46"/>
<ellipse cx="1125" cy="400" rx="46" ry="58" stroke-width="50.69"/>
<path d="M1242 348 C1320 400 1420 500 1450 585 C1440 638 1380 645 1300 630 C1220 615 1130 590 1102 500"/>
<circle cx="1300" cy="515" r="27" fill="#111" stroke="none"/>
<path d="M490 640 C560 655 640 685 700 705 M700 705 C780 680 860 668 945 662 M945 588 C950 620 960 650 985 690 C1010 725 1040 750 1075 760 M1232 622 C1236 660 1245 690 1262 712 M796 640 L800 672"/>
<g fill="#111" stroke-width="22.04">
<ellipse cx="800" cy="758" rx="82" ry="27" transform="rotate(17 800 758)"/>
<ellipse cx="1120" cy="755" rx="62" ry="24" transform="rotate(-6 1120 755)"/>
<ellipse cx="1292" cy="725" rx="58" ry="22" transform="rotate(6 1292 725)"/>
</g>
</g>
<text x="325.67" y="1639.8" font-size="19.8" fill="#fff" text-anchor="end">1</text>
<text x="437.47" y="1639.8" font-size="19.8" fill="#fff" text-anchor="end">2</text>
<g transform="translate(250.6 1657.5) rotate(-79.28)">
<rect x="0" y="-3.96" width="2.6" height="7.92" fill="#111"/>
<rect x="2.6" y="-1.3" width="2.6" height="2.6" fill="#111"/>
<rect x="5" y="-4.03" width="2" height="8.06" fill="#111"/>
<rect x="7" y="-3.6" width="29.66" height="7.2" fill="#111"/>
<rect x="36.66" y="-1.3" width="2.5" height="2.6" fill="#111"/>
<line x1="36.66" y1="0" x2="47.84" y2="0" stroke="#111" stroke-width="1.1"/>
</g>
<circle cx="195.3" cy="1360.8" r="9.9" fill="none" stroke="#4cb79a" stroke-width="3.6"/>
<line x1="201.9" y1="1353.2" x2="209.8" y2="1344.2" stroke="#4cb79a" stroke-width="3.4"/>
<polygon points="215.2,1338.2 200.1,1344.6 206.5,1346.2 210.1,1352.5" fill="#4cb79a"/>
<text x="98.5" y="1335.1" font-size="21" fill="#111">Habituation</text>
<text x="98.5" y="1383.6" font-size="21" fill="#111">Pre</text>
<text x="98.5" y="1500.2" font-size="21" fill="#111">Conditioning</text>
<text x="98.5" y="1603.3" font-size="21" fill="#111">Formalin test</text>
<text x="5.9" y="2116.2" font-size="31.2" fill="#1a1a1a" font-weight="bold">q</text>
<line x1="72.4" y1="2133.2" x2="72.4" y2="2474.5" stroke="#707173" stroke-width="3"/>
<polygon points="62.4,2116.4 82.4,2116.4 72.4,2131.7" fill="#fff" stroke="#707173" stroke-width="2.6"/>
<circle cx="72.4" cy="2482.1" r="7.6" fill="#fff" stroke="#707173" stroke-width="2.6"/>
<line x1="72.4" y1="2152.2" x2="79.75" y2="2152.2" stroke="#111" stroke-width="1.9"/>
<rect x="79.75" y="2146.4" width="11.6" height="11.6" fill="#fff" stroke="#111" stroke-width="2.1"/>
<line x1="72.4" y1="2176.1" x2="79.75" y2="2176.1" stroke="#111" stroke-width="1.9"/>
<rect x="79.75" y="2170.3" width="11.6" height="11.6" fill="#fff" stroke="#111" stroke-width="2.1"/>
<line x1="72.4" y1="2210.5" x2="79.75" y2="2210.5" stroke="#111" stroke-width="1.9"/>
<rect x="79.75" y="2204.7" width="11.6" height="11.6" fill="#fff" stroke="#111" stroke-width="2.1"/>
<line x1="72.4" y1="2301" x2="79.75" y2="2301" stroke="#111" stroke-width="1.9"/>
<rect x="79.75" y="2295.2" width="11.6" height="11.6" fill="#fff" stroke="#111" stroke-width="2.1"/>
<line x1="72.4" y1="2324.7" x2="79.75" y2="2324.7" stroke="#111" stroke-width="1.9"/>
<rect x="79.75" y="2318.9" width="11.6" height="11.6" fill="#fff" stroke="#111" stroke-width="2.1"/>
<line x1="72.4" y1="2348.3" x2="79.75" y2="2348.3" stroke="#111" stroke-width="1.9"/>
<rect x="79.75" y="2342.5" width="11.6" height="11.6" fill="#fff" stroke="#111" stroke-width="2.1"/>
<line x1="72.4" y1="2450.9" x2="79.75" y2="2450.9" stroke="#111" stroke-width="1.9"/>
<rect x="79.75" y="2445.1" width="11.6" height="11.6" fill="#fff" stroke="#111" stroke-width="2.1"/>
<text x="52.3" y="2182.5" font-size="21" fill="#111" text-anchor="middle" transform="rotate(-90 52.3 2182.5)">Day 1-3</text>
<text x="52.3" y="2319.8" font-size="21" fill="#111" text-anchor="middle" transform="rotate(-90 52.3 2319.8)">Day 4-6</text>
<text x="52.3" y="2449" font-size="21" fill="#111" text-anchor="middle" transform="rotate(-90 52.3 2449)">Day 7</text>
<text x="171.8" y="2116.3" font-size="18" fill="#111">Plate Temp.</text>
<rect x="287.5" y="2100.8" width="18" height="18" fill="#858688"/>
<rect x="290.3" y="2103.6" width="12.4" height="12.4" fill="#7ea0db"/>
<text x="309.8" y="2117.1" font-size="19.7" fill="#111">30<tspan fill="#555" font-size="18.71">°C</tspan></text>
<rect x="374" y="2100.8" width="18" height="18" fill="#858688"/>
<rect x="376.8" y="2103.6" width="12.4" height="12.4" fill="#f0836b"/>
<text x="396.8" y="2117.1" font-size="19.7" fill="#111">48<tspan fill="#555" font-size="18.71">°C</tspan></text>
<rect x="228" y="2128.1" width="225.8" height="114.1" fill="#858688"/>
<rect x="231.3" y="2130.8" width="109.6" height="108.7" fill="#809fd3"/>
<rect x="340.9" y="2130.8" width="109.6" height="108.7" fill="#809fd3"/>
<rect x="339.4" y="2128.5" width="3" height="42.4" fill="#0f0f14"/>
<rect x="339.4" y="2199.5" width="3" height="42.3" fill="#0f0f14"/>
<g transform="translate(340.9 2186.8) scale(1.0000)" fill="#fff" stroke="none">
<path d="M-13.7 -4.9 L2 -11.4 L-0.8 -5.6 L13.1 -5.6 L13.1 -4.1 L-0.9 -4.1 L-1 0.9 Z"/>
<path d="M12.2 5.1 L-3.2 11.4 L-0.2 5.85 L-14.5 5.85 L-14.5 4.35 L-0.2 4.35 L-2.9 -1.2 Z"/>
<path d="M-1.6 -4 L-2.9 -1.2 L1.2 3 L0.6 -1 Z"/>
</g>
<g transform="translate(237.3 2178) scale(0.04310) translate(-130 -225)" fill="none" stroke="#111" stroke-width="44.08" stroke-linecap="round" stroke-linejoin="round">
<path d="M215 245 C190 330 152 470 155 580 C158 720 220 825 320 832 C410 835 465 740 490 630" stroke-width="63.92"/>
<path d="M490 630 C515 520 560 390 650 298 C740 225 870 232 960 265 C1030 292 1090 322 1150 332"/>
<ellipse cx="1203" cy="305" rx="40" ry="46"/>
<ellipse cx="1125" cy="400" rx="46" ry="58" stroke-width="50.69"/>
<path d="M1242 348 C1320 400 1420 500 1450 585 C1440 638 1380 645 1300 630 C1220 615 1130 590 1102 500"/>
<circle cx="1300" cy="515" r="27" fill="#111" stroke="none"/>
<path d="M490 640 C560 655 640 685 700 705 M700 705 C780 680 860 668 945 662 M945 588 C950 620 960 650 985 690 C1010 725 1040 750 1075 760 M1232 622 C1236 660 1245 690 1262 712 M796 640 L800 672"/>
<g fill="#111" stroke-width="22.04">
<ellipse cx="800" cy="758" rx="82" ry="27" transform="rotate(17 800 758)"/>
<ellipse cx="1120" cy="755" rx="62" ry="24" transform="rotate(-6 1120 755)"/>
<ellipse cx="1292" cy="725" rx="58" ry="22" transform="rotate(6 1292 725)"/>
</g>
</g>
<text x="331" y="2234.8" font-size="19.8" fill="#fff" text-anchor="end">1</text>
<text x="442.8" y="2234.8" font-size="19.8" fill="#fff" text-anchor="end">2</text>
<rect x="228" y="2248.5" width="225.8" height="114.1" fill="#858688"/>
<rect x="231.3" y="2251.2" width="109.6" height="108.7" fill="#e9846f"/>
<rect x="340.9" y="2251.2" width="109.6" height="108.7" fill="#809fd3"/>
<rect x="339.4" y="2248.9" width="3" height="42.4" fill="#0f0f14"/>
<rect x="339.4" y="2319.9" width="3" height="42.3" fill="#0f0f14"/>
<g transform="translate(340.9 2306) scale(1.0000)" fill="#fff" stroke="none">
<path d="M-13.7 -4.9 L2 -11.4 L-0.8 -5.6 L13.1 -5.6 L13.1 -4.1 L-0.9 -4.1 L-1 0.9 Z"/>
<path d="M12.2 5.1 L-3.2 11.4 L-0.2 5.85 L-14.5 5.85 L-14.5 4.35 L-0.2 4.35 L-2.9 -1.2 Z"/>
<path d="M-1.6 -4 L-2.9 -1.2 L1.2 3 L0.6 -1 Z"/>
</g>
<g transform="translate(237.3 2298.4) scale(0.04310) translate(-130 -225)" fill="none" stroke="#111" stroke-width="44.08" stroke-linecap="round" stroke-linejoin="round">
<path d="M215 245 C190 330 152 470 155 580 C158 720 220 825 320 832 C410 835 465 740 490 630" stroke-width="63.92"/>
<path d="M490 630 C515 520 560 390 650 298 C740 225 870 232 960 265 C1030 292 1090 322 1150 332"/>
<ellipse cx="1203" cy="305" rx="40" ry="46"/>
<ellipse cx="1125" cy="400" rx="46" ry="58" stroke-width="50.69"/>
<path d="M1242 348 C1320 400 1420 500 1450 585 C1440 638 1380 645 1300 630 C1220 615 1130 590 1102 500"/>
<circle cx="1300" cy="515" r="27" fill="#111" stroke="none"/>
<path d="M490 640 C560 655 640 685 700 705 M700 705 C780 680 860 668 945 662 M945 588 C950 620 960 650 985 690 C1010 725 1040 750 1075 760 M1232 622 C1236 660 1245 690 1262 712 M796 640 L800 672"/>
<g fill="#111" stroke-width="22.04">
<ellipse cx="800" cy="758" rx="82" ry="27" transform="rotate(17 800 758)"/>
<ellipse cx="1120" cy="755" rx="62" ry="24" transform="rotate(-6 1120 755)"/>
<ellipse cx="1292" cy="725" rx="58" ry="22" transform="rotate(6 1292 725)"/>
</g>
</g>
<text x="331" y="2355.2" font-size="19.8" fill="#fff" text-anchor="end">1</text>
<text x="442.8" y="2355.2" font-size="19.8" fill="#fff" text-anchor="end">2</text>
<rect x="228" y="2366.9" width="225.8" height="114.1" fill="#858688"/>
<rect x="231.3" y="2369.6" width="109.6" height="108.7" fill="#e9846f"/>
<rect x="340.9" y="2369.6" width="109.6" height="108.7" fill="#e9846f"/>
<rect x="339.4" y="2367.3" width="3" height="42.4" fill="#0f0f14"/>
<rect x="339.4" y="2438.3" width="3" height="42.3" fill="#0f0f14"/>
<g transform="translate(340.9 2425.6) scale(1.0000)" fill="#fff" stroke="none">
<path d="M-13.7 -4.9 L2 -11.4 L-0.8 -5.6 L13.1 -5.6 L13.1 -4.1 L-0.9 -4.1 L-1 0.9 Z"/>
<path d="M12.2 5.1 L-3.2 11.4 L-0.2 5.85 L-14.5 5.85 L-14.5 4.35 L-0.2 4.35 L-2.9 -1.2 Z"/>
<path d="M-1.6 -4 L-2.9 -1.2 L1.2 3 L0.6 -1 Z"/>
</g>
<g transform="translate(237.3 2416.8) scale(0.04310) translate(-130 -225)" fill="none" stroke="#111" stroke-width="44.08" stroke-linecap="round" stroke-linejoin="round">
<path d="M215 245 C190 330 152 470 155 580 C158 720 220 825 320 832 C410 835 465 740 490 630" stroke-width="63.92"/>
<path d="M490 630 C515 520 560 390 650 298 C740 225 870 232 960 265 C1030 292 1090 322 1150 332"/>
<ellipse cx="1203" cy="305" rx="40" ry="46"/>
<ellipse cx="1125" cy="400" rx="46" ry="58" stroke-width="50.69"/>
<path d="M1242 348 C1320 400 1420 500 1450 585 C1440 638 1380 645 1300 630 C1220 615 1130 590 1102 500"/>
<circle cx="1300" cy="515" r="27" fill="#111" stroke="none"/>
<path d="M490 640 C560 655 640 685 700 705 M700 705 C780 680 860 668 945 662 M945 588 C950 620 960 650 985 690 C1010 725 1040 750 1075 760 M1232 622 C1236 660 1245 690 1262 712 M796 640 L800 672"/>
<g fill="#111" stroke-width="22.04">
<ellipse cx="800" cy="758" rx="82" ry="27" transform="rotate(17 800 758)"/>
<ellipse cx="1120" cy="755" rx="62" ry="24" transform="rotate(-6 1120 755)"/>
<ellipse cx="1292" cy="725" rx="58" ry="22" transform="rotate(6 1292 725)"/>
</g>
</g>
<text x="331" y="2473.6" font-size="19.8" fill="#fff" text-anchor="end">1</text>
<text x="442.8" y="2473.6" font-size="19.8" fill="#fff" text-anchor="end">2</text>
<circle cx="209.8" cy="2182.8" r="9.9" fill="none" stroke="#a3257f" stroke-width="3.4"/>
<line x1="209.8" y1="2192.7" x2="209.8" y2="2210.8" stroke="#a3257f" stroke-width="3.4"/>
<line x1="200.8" y1="2201.8" x2="218.8" y2="2201.8" stroke="#a3257f" stroke-width="3.4"/>
<text x="101.8" y="2165.6" font-size="21" fill="#111">Habituation</text>
<text x="101.8" y="2214.7" font-size="21" fill="#111">Pre</text>
<text x="101.8" y="2331.1" font-size="21" fill="#111">Conditioning</text>
<text x="101.8" y="2459.1" font-size="21" fill="#111">Post</text>
<text x="1295.89" y="1284" font-size="31.2" fill="#1a1a1a" font-weight="bold">m</text>
<line x1="1356.26" y1="1318.18" x2="1356.26" y2="1621.66" stroke="#6e6f71" stroke-width="6.4"/>
<polygon points="1334.66,1292.6 1377.86,1292.6 1356.26,1322.6" fill="#fff" stroke="#6e6f71" stroke-width="5"/>
<circle cx="1356.26" cy="1637.52" r="15.4" fill="#fff" stroke="#6e6f71" stroke-width="5"/>
<line x1="1356.26" y1="1327.06" x2="1363.4" y2="1327.06" stroke="#111" stroke-width="1.9"/>
<rect x="1363.9" y="1320.86" width="12.4" height="12.4" fill="#fff" stroke="#111" stroke-width="2.1"/>
<line x1="1356.26" y1="1351.48" x2="1363.4" y2="1351.48" stroke="#111" stroke-width="1.9"/>
<rect x="1363.9" y="1345.28" width="12.4" height="12.4" fill="#fff" stroke="#111" stroke-width="2.1"/>
<line x1="1356.26" y1="1385.41" x2="1363.4" y2="1385.41" stroke="#111" stroke-width="1.9"/>
<rect x="1363.9" y="1379.21" width="12.4" height="12.4" fill="#fff" stroke="#111" stroke-width="2.1"/>
<line x1="1356.26" y1="1475.79" x2="1363.4" y2="1475.79" stroke="#111" stroke-width="1.9"/>
<rect x="1363.9" y="1469.59" width="12.4" height="12.4" fill="#fff" stroke="#111" stroke-width="2.1"/>
<line x1="1356.26" y1="1499.89" x2="1363.4" y2="1499.89" stroke="#111" stroke-width="1.9"/>
<rect x="1363.9" y="1493.69" width="12.4" height="12.4" fill="#fff" stroke="#111" stroke-width="2.1"/>
<line x1="1356.26" y1="1523.36" x2="1363.4" y2="1523.36" stroke="#111" stroke-width="1.9"/>
<rect x="1363.9" y="1517.16" width="12.4" height="12.4" fill="#fff" stroke="#111" stroke-width="2.1"/>
<text x="1386.87" y="1341.96" font-size="21" fill="#111">Habituation</text>
<text x="1386.87" y="1390.48" font-size="21" fill="#111">Pre</text>
<text x="1386.87" y="1507.5" font-size="21" fill="#111">Conditioning</text>
<text x="1336.7" y="1357.82" font-size="21" fill="#111" text-anchor="middle" transform="rotate(-90 1336.7 1357.82)">Day 1-3</text>
<text x="1336.7" y="1495.77" font-size="21" fill="#111" text-anchor="middle" transform="rotate(-90 1336.7 1495.77)">Day 4-6</text>
<line x1="1445.54" y1="1531.6" x2="1445.54" y2="1563.95" stroke="#555" stroke-width="3"/>
<polygon points="1430.54,1558.24 1445.54,1562.36 1460.54,1558.24 1445.54,1585.19" fill="#555"/>
<text x="1383.7" y="1621.03" font-size="21" fill="#111">Pain sensitivity</text>
<text x="1391.63" y="1646.4" font-size="21" fill="#111">measurement</text>
<text x="1438.56" y="1289.64" font-size="18" fill="#111">Plate Temp.</text>
<rect x="1554.26" y="1274.14" width="18" height="18" fill="#858688"/>
<rect x="1557.06" y="1276.94" width="12.4" height="12.4" fill="#7ea0db"/>
<text x="1576.56" y="1290.44" font-size="19.7" fill="#111">30<tspan fill="#555" font-size="18.71">°C</tspan></text>
<rect x="1640.76" y="1274.14" width="18" height="18" fill="#858688"/>
<rect x="1643.56" y="1276.94" width="12.4" height="12.4" fill="#f0836b"/>
<text x="1663.56" y="1290.44" font-size="19.7" fill="#111">48<tspan fill="#555" font-size="18.71">°C</tspan></text>
<rect x="1543.75" y="1300.05" width="226" height="114.6" fill="#858688"/>
<rect x="1547.05" y="1302.75" width="109.7" height="109.2" fill="#809fd3"/>
<rect x="1656.75" y="1302.75" width="109.7" height="109.2" fill="#809fd3"/>
<rect x="1655.25" y="1300.45" width="3" height="42.4" fill="#0f0f14"/>
<rect x="1655.25" y="1371.45" width="3" height="42.8" fill="#0f0f14"/>
<g transform="translate(1656.75 1358.75) scale(1.0000)" fill="#fff" stroke="none">
<path d="M-13.7 -4.9 L2 -11.4 L-0.8 -5.6 L13.1 -5.6 L13.1 -4.1 L-0.9 -4.1 L-1 0.9 Z"/>
<path d="M12.2 5.1 L-3.2 11.4 L-0.2 5.85 L-14.5 5.85 L-14.5 4.35 L-0.2 4.35 L-2.9 -1.2 Z"/>
<path d="M-1.6 -4 L-2.9 -1.2 L1.2 3 L0.6 -1 Z"/>
</g>
<g transform="translate(1553.05 1349.95) scale(0.04310) translate(-130 -225)" fill="none" stroke="#111" stroke-width="44.08" stroke-linecap="round" stroke-linejoin="round">
<path d="M215 245 C190 330 152 470 155 580 C158 720 220 825 320 832 C410 835 465 740 490 630" stroke-width="63.92"/>
<path d="M490 630 C515 520 560 390 650 298 C740 225 870 232 960 265 C1030 292 1090 322 1150 332"/>
<ellipse cx="1203" cy="305" rx="40" ry="46"/>
<ellipse cx="1125" cy="400" rx="46" ry="58" stroke-width="50.69"/>
<path d="M1242 348 C1320 400 1420 500 1450 585 C1440 638 1380 645 1300 630 C1220 615 1130 590 1102 500"/>
<circle cx="1300" cy="515" r="27" fill="#111" stroke="none"/>
<path d="M490 640 C560 655 640 685 700 705 M700 705 C780 680 860 668 945 662 M945 588 C950 620 960 650 985 690 C1010 725 1040 750 1075 760 M1232 622 C1236 660 1245 690 1262 712 M796 640 L800 672"/>
<g fill="#111" stroke-width="22.04">
<ellipse cx="800" cy="758" rx="82" ry="27" transform="rotate(17 800 758)"/>
<ellipse cx="1120" cy="755" rx="62" ry="24" transform="rotate(-6 1120 755)"/>
<ellipse cx="1292" cy="725" rx="58" ry="22" transform="rotate(6 1292 725)"/>
</g>
</g>
<text x="1646.75" y="1407.25" font-size="19.8" fill="#fff" text-anchor="end">1</text>
<text x="1758.75" y="1407.25" font-size="19.8" fill="#fff" text-anchor="end">2</text>
<rect x="1543.75" y="1420.1" width="226" height="114.6" fill="#858688"/>
<rect x="1547.05" y="1422.8" width="109.7" height="109.2" fill="#e9846f"/>
<rect x="1656.75" y="1422.8" width="109.7" height="109.2" fill="#809fd3"/>
<rect x="1655.25" y="1420.5" width="3" height="42.4" fill="#0f0f14"/>
<rect x="1655.25" y="1491.5" width="3" height="42.8" fill="#0f0f14"/>
<g transform="translate(1656.75 1478.8) scale(1.0000)" fill="#fff" stroke="none">
<path d="M-13.7 -4.9 L2 -11.4 L-0.8 -5.6 L13.1 -5.6 L13.1 -4.1 L-0.9 -4.1 L-1 0.9 Z"/>
<path d="M12.2 5.1 L-3.2 11.4 L-0.2 5.85 L-14.5 5.85 L-14.5 4.35 L-0.2 4.35 L-2.9 -1.2 Z"/>
<path d="M-1.6 -4 L-2.9 -1.2 L1.2 3 L0.6 -1 Z"/>
</g>
<g transform="translate(1553.05 1470) scale(0.04310) translate(-130 -225)" fill="none" stroke="#111" stroke-width="44.08" stroke-linecap="round" stroke-linejoin="round">
<path d="M215 245 C190 330 152 470 155 580 C158 720 220 825 320 832 C410 835 465 740 490 630" stroke-width="63.92"/>
<path d="M490 630 C515 520 560 390 650 298 C740 225 870 232 960 265 C1030 292 1090 322 1150 332"/>
<ellipse cx="1203" cy="305" rx="40" ry="46"/>
<ellipse cx="1125" cy="400" rx="46" ry="58" stroke-width="50.69"/>
<path d="M1242 348 C1320 400 1420 500 1450 585 C1440 638 1380 645 1300 630 C1220 615 1130 590 1102 500"/>
<circle cx="1300" cy="515" r="27" fill="#111" stroke="none"/>
<path d="M490 640 C560 655 640 685 700 705 M700 705 C780 680 860 668 945 662 M945 588 C950 620 960 650 985 690 C1010 725 1040 750 1075 760 M1232 622 C1236 660 1245 690 1262 712 M796 640 L800 672"/>
<g fill="#111" stroke-width="22.04">
<ellipse cx="800" cy="758" rx="82" ry="27" transform="rotate(17 800 758)"/>
<ellipse cx="1120" cy="755" rx="62" ry="24" transform="rotate(-6 1120 755)"/>
<ellipse cx="1292" cy="725" rx="58" ry="22" transform="rotate(6 1292 725)"/>
</g>
</g>
<text x="1646.75" y="1527.3" font-size="19.8" fill="#fff" text-anchor="end">1</text>
<text x="1758.75" y="1527.3" font-size="19.8" fill="#fff" text-anchor="end">2</text>
<circle cx="1515.3" cy="1367.3" r="9.9" fill="none" stroke="#4cb79a" stroke-width="3.6"/>
<line x1="1521.9" y1="1359.7" x2="1529.8" y2="1350.7" stroke="#4cb79a" stroke-width="3.4"/>
<polygon points="1535.2,1344.7 1520.1,1351.1 1526.5,1352.7 1530.1,1359" fill="#4cb79a"/>
<linearGradient id="mg682" gradientUnits="userSpaceOnUse" x1="1628.67" y1="0" x2="1769.06" y2="0"><stop offset="0" stop-color="#d0d0d0"/><stop offset="1" stop-color="#f4f4f4"/></linearGradient>
<rect x="1693.69" y="1581.28" width="75.37" height="2.36" fill="url(#mg682)"/>
<rect x="1622.76" y="1588.37" width="133" height="1.77" fill="url(#mg682)" opacity="0.8"/>
<linearGradient id="ms685" gradientUnits="objectBoundingBox" x1="0" y1="1" x2="1" y2="0"><stop offset="0" stop-color="#111"/><stop offset="0.3" stop-color="#111"/><stop offset="0.42" stop-color="#777"/><stop offset="1" stop-color="#e4e4e4"/></linearGradient>
<polygon points="1576.65,1603.3 1578.13,1606.26 1631.33,1584.38 1629.85,1581.43" fill="url(#ms685)"/>
<polygon points="1595.12,1603.3 1596.6,1606.26 1649.8,1584.38 1648.33,1581.43" fill="url(#ms685)"/>
<polygon points="1616.55,1603.3 1618.03,1606.26 1671.23,1584.38 1669.75,1581.43" fill="url(#ms685)"/>
<polygon points="1640.2,1603.3 1641.67,1606.26 1694.88,1584.38 1693.4,1581.43" fill="url(#ms685)"/>
<polygon points="1665.32,1603.3 1666.8,1606.26 1720,1584.38 1718.52,1581.43" fill="url(#ms685)"/>
<polygon points="1688.97,1603.3 1690.44,1606.26 1743.65,1584.38 1742.17,1581.43" fill="url(#ms685)"/>
<polygon points="1712.61,1603.3 1714.09,1606.26 1767.29,1584.38 1765.81,1581.43" fill="url(#ms685)"/>
<line x1="1555.52" y1="1603.15" x2="1627.19" y2="1578.03" stroke="#111" stroke-width="2.6" stroke-dasharray="40.5 4 19 2.5 12 200"/>
<line x1="1574.73" y1="1597.98" x2="1728.42" y2="1597.98" stroke="#111" stroke-width="2.8"/>
<rect x="1553.3" y="1603.89" width="18.18" height="46.55" fill="#aaa"/>
<rect x="1556.55" y="1606.11" width="5.62" height="42.12" fill="#ddd"/>
<rect x="1564.38" y="1606.11" width="4.73" height="42.12" fill="#ddd"/>
<rect x="1695.91" y="1603.89" width="18.18" height="46.55" fill="#aaa"/>
<rect x="1699.16" y="1606.11" width="5.62" height="42.12" fill="#ddd"/>
<rect x="1707" y="1606.11" width="4.73" height="42.12" fill="#ddd"/>
<path d="M1632.36 1548.47 L1632.36 1588.82 A28.82 7.09 0 0 0 1690 1588.82 L1690 1548.47" fill="#fff" stroke="#777" stroke-width="2.7" fill-opacity="0.75"/>
<ellipse cx="1661.18" cy="1548.47" rx="28.82" ry="7.09" fill="#fff" stroke="#777" stroke-width="2.7"/>
<g transform="translate(1636.8 1560.3) scale(0.03707) translate(-130 -225)" fill="none" stroke="#4a4a4a" stroke-width="40.47" stroke-linecap="round" stroke-linejoin="round">
<path d="M215 245 C190 330 152 470 155 580 C158 720 220 825 320 832 C410 835 465 740 490 630" stroke-width="58.67"/>
<path d="M490 630 C515 520 560 390 650 298 C740 225 870 232 960 265 C1030 292 1090 322 1150 332"/>
<ellipse cx="1203" cy="305" rx="40" ry="46"/>
<ellipse cx="1125" cy="400" rx="46" ry="58" stroke-width="46.53"/>
<path d="M1242 348 C1320 400 1420 500 1450 585 C1440 638 1380 645 1300 630 C1220 615 1130 590 1102 500"/>
<circle cx="1300" cy="515" r="27" fill="#4a4a4a" stroke="none"/>
<path d="M490 640 C560 655 640 685 700 705 M700 705 C780 680 860 668 945 662 M945 588 C950 620 960 650 985 690 C1010 725 1040 750 1075 760 M1232 622 C1236 660 1245 690 1262 712 M796 640 L800 672"/>
<g fill="#4a4a4a" stroke-width="20.23">
<ellipse cx="800" cy="758" rx="82" ry="27" transform="rotate(17 800 758)"/>
<ellipse cx="1120" cy="755" rx="62" ry="24" transform="rotate(-6 1120 755)"/>
<ellipse cx="1292" cy="725" rx="58" ry="22" transform="rotate(6 1292 725)"/>
</g>
</g>
<line x1="1588.77" y1="1620.15" x2="1580.2" y2="1613.65" stroke="#d22a30" stroke-width="1.8"/>
<line x1="1588.77" y1="1620.15" x2="1588.18" y2="1612.76" stroke="#d22a30" stroke-width="1.8"/>
<line x1="1588.77" y1="1620.15" x2="1597.64" y2="1613.65" stroke="#d22a30" stroke-width="1.8"/>
<path d="M1583.89 1630.49 L1583.89 1624.58 A4.43 4.43 0 0 1 1592.76 1624.58 L1592.76 1630.49 Z" fill="#fff" stroke="#111" stroke-width="1.5"/>
<rect x="1582.12" y="1629.31" width="12.86" height="4.14" fill="#111"/>
<rect x="1585.07" y="1633.45" width="1.48" height="5.17" fill="#bbb"/>
<rect x="1589.95" y="1633.45" width="1.48" height="6.65" fill="#bbb"/>
<line x1="1617.59" y1="1624.58" x2="1653.05" y2="1638.33" stroke="#666" stroke-width="4.2"/>
<line x1="1613.15" y1="1630.49" x2="1624.53" y2="1614.53" stroke="#8a8a8a" stroke-width="4.2"/>
<line x1="1669.01" y1="1614.24" x2="1671.53" y2="1625.32" stroke="#111" stroke-width="1.6"/>
<line x1="1670.94" y1="1624.58" x2="1678.92" y2="1648.97" stroke="#111" stroke-width="6.6"/>
<line x1="1676.7" y1="1651.48" x2="1682.17" y2="1650" stroke="#111" stroke-width="3"/>
<line x1="1671.53" y1="1628.28" x2="1676.7" y2="1644.53" stroke="#7a2a20" stroke-width="0.8" stroke-dasharray="2 2"/>
<text x="648.78" y="1705.34" font-size="31.2" fill="#1a1a1a" font-weight="bold">o</text>
<line x1="688.4" y1="1738.3" x2="688.4" y2="2017" stroke="#1a1a1a" stroke-width="3.2"/>
<polygon points="677.9,1722.5 698.9,1722.5 688.4,1736.8" fill="#fff" stroke="#1a1a1a" stroke-width="2.3"/>
<circle cx="688.4" cy="2024.4" r="7.4" fill="#fff" stroke="#1a1a1a" stroke-width="2.3"/>
<line x1="688.4" y1="1747.3" x2="693.9" y2="1747.3" stroke="#111" stroke-width="1.9"/>
<rect x="693.9" y="1741.15" width="12.3" height="12.3" fill="#fff" stroke="#111" stroke-width="2.1"/>
<line x1="688.4" y1="1769.1" x2="693.9" y2="1769.1" stroke="#111" stroke-width="1.9"/>
<rect x="693.9" y="1762.95" width="12.3" height="12.3" fill="#fff" stroke="#111" stroke-width="2.1"/>
<line x1="688.4" y1="1789.4" x2="693.9" y2="1789.4" stroke="#111" stroke-width="1.9"/>
<rect x="693.9" y="1783.25" width="12.3" height="12.3" fill="#fff" stroke="#111" stroke-width="2.1"/>
<line x1="688.4" y1="1858.9" x2="693.9" y2="1858.9" stroke="#111" stroke-width="1.9"/>
<rect x="693.9" y="1852.75" width="12.3" height="12.3" fill="#fff" stroke="#111" stroke-width="2.1"/>
<line x1="688.4" y1="1880.2" x2="693.9" y2="1880.2" stroke="#111" stroke-width="1.9"/>
<rect x="693.9" y="1874.05" width="12.3" height="12.3" fill="#fff" stroke="#111" stroke-width="2.1"/>
<line x1="688.4" y1="1901.6" x2="693.9" y2="1901.6" stroke="#111" stroke-width="1.9"/>
<rect x="693.9" y="1895.45" width="12.3" height="12.3" fill="#fff" stroke="#111" stroke-width="2.1"/>
<line x1="688.4" y1="1976.7" x2="693.9" y2="1976.7" stroke="#111" stroke-width="1.9"/>
<rect x="693.9" y="1970.55" width="12.3" height="12.3" fill="#fff" stroke="#111" stroke-width="2.1"/>
<text x="714.6" y="1763" font-size="21.9" fill="#111">Habituation</text>
<text x="714.6" y="1795" font-size="21.9" fill="#111">Pre</text>
<text x="714.6" y="1887.16" font-size="21.9" fill="#111">Conditioning</text>
<text x="714.6" y="1982.76" font-size="21.9" fill="#111">Post</text>
<text x="677.3" y="1773.7" font-size="21.4" fill="#111" text-anchor="middle" transform="rotate(-90 677.3 1773.7)">Day 1-3</text>
<text x="678" y="1875.6" font-size="21.4" fill="#111" text-anchor="middle" transform="rotate(-90 678 1875.6)" textLength="81.5" lengthAdjust="spacing">Day 4-6</text>
<text x="677.3" y="1975.36" font-size="21.4" fill="#111" text-anchor="middle" transform="rotate(-90 677.3 1975.36)">Day 7</text>
<circle cx="812.87" cy="1794.14" r="9.9" fill="none" stroke="#4cb79a" stroke-width="3.6"/>
<line x1="819.47" y1="1786.54" x2="827.37" y2="1777.54" stroke="#4cb79a" stroke-width="3.4"/>
<polygon points="832.77,1771.54 817.67,1777.94 824.07,1779.54 827.67,1785.84" fill="#4cb79a"/>
<text x="872.6" y="1723.2" font-size="26" fill="#8e2fa0">Chamber 1</text>
<text x="1072.11" y="1723.2" font-size="24.3" fill="#b5272d">Chamber 2</text>
<rect x="840.2" y="1732.2" width="186.9" height="94.75" fill="#858688"/>
<rect x="843.2" y="1735" width="90.45" height="89.15" fill="#809fd3"/>
<rect x="933.65" y="1735" width="90.45" height="89.15" fill="#809fd3"/>
<rect x="932" y="1732.6" width="3.3" height="33.5" fill="#0f0f14"/>
<rect x="932" y="1791.1" width="3.3" height="35.45" fill="#0f0f14"/>
<g transform="translate(933.65 1778.5) scale(0.9000)" fill="#fff" stroke="none">
<path d="M-13.7 -4.9 L2 -11.4 L-0.8 -5.6 L13.1 -5.6 L13.1 -4.1 L-0.9 -4.1 L-1 0.9 Z"/>
<path d="M12.2 5.1 L-3.2 11.4 L-0.2 5.85 L-14.5 5.85 L-14.5 4.35 L-0.2 4.35 L-2.9 -1.2 Z"/>
<path d="M-1.6 -4 L-2.9 -1.2 L1.2 3 L0.6 -1 Z"/>
</g>
<g transform="translate(851.5 1769.8) scale(0.03211) translate(-130 -225)" fill="none" stroke="#111" stroke-width="45.15" stroke-linecap="round" stroke-linejoin="round">
<path d="M215 245 C190 330 152 470 155 580 C158 720 220 825 320 832 C410 835 465 740 490 630" stroke-width="65.47"/>
<path d="M490 630 C515 520 560 390 650 298 C740 225 870 232 960 265 C1030 292 1090 322 1150 332"/>
<ellipse cx="1203" cy="305" rx="40" ry="46"/>
<ellipse cx="1125" cy="400" rx="46" ry="58" stroke-width="51.93"/>
<path d="M1242 348 C1320 400 1420 500 1450 585 C1440 638 1380 645 1300 630 C1220 615 1130 590 1102 500"/>
<circle cx="1300" cy="515" r="27" fill="#111" stroke="none"/>
<path d="M490 640 C560 655 640 685 700 705 M700 705 C780 680 860 668 945 662 M945 588 C950 620 960 650 985 690 C1010 725 1040 750 1075 760 M1232 622 C1236 660 1245 690 1262 712 M796 640 L800 672"/>
<g fill="#111" stroke-width="22.58">
<ellipse cx="800" cy="758" rx="82" ry="27" transform="rotate(17 800 758)"/>
<ellipse cx="1120" cy="755" rx="62" ry="24" transform="rotate(-6 1120 755)"/>
<ellipse cx="1292" cy="725" rx="58" ry="22" transform="rotate(6 1292 725)"/>
</g>
</g>
<text x="922.6" y="1821.25" font-size="14.4" fill="#fff" text-anchor="end">1</text>
<text x="1015.3" y="1821.25" font-size="14.4" fill="#fff" text-anchor="end">2</text>
<rect x="840.2" y="1829.85" width="186.9" height="94.75" fill="#858688"/>
<rect x="843.2" y="1832.65" width="90.45" height="89.15" fill="#e9846f"/>
<rect x="933.65" y="1832.65" width="90.45" height="89.15" fill="#809fd3"/>
<rect x="932" y="1830.25" width="3.3" height="33.5" fill="#0f0f14"/>
<rect x="932" y="1888.75" width="3.3" height="35.45" fill="#0f0f14"/>
<g transform="translate(933.65 1876.15) scale(0.9000)" fill="#fff" stroke="none">
<path d="M-13.7 -4.9 L2 -11.4 L-0.8 -5.6 L13.1 -5.6 L13.1 -4.1 L-0.9 -4.1 L-1 0.9 Z"/>
<path d="M12.2 5.1 L-3.2 11.4 L-0.2 5.85 L-14.5 5.85 L-14.5 4.35 L-0.2 4.35 L-2.9 -1.2 Z"/>
<path d="M-1.6 -4 L-2.9 -1.2 L1.2 3 L0.6 -1 Z"/>
</g>
<g transform="translate(857 1867.95) scale(0.03211) translate(-130 -225)" fill="none" stroke="#111" stroke-width="45.15" stroke-linecap="round" stroke-linejoin="round">
<path d="M215 245 C190 330 152 470 155 580 C158 720 220 825 320 832 C410 835 465 740 490 630" stroke-width="65.47"/>
<path d="M490 630 C515 520 560 390 650 298 C740 225 870 232 960 265 C1030 292 1090 322 1150 332"/>
<ellipse cx="1203" cy="305" rx="40" ry="46"/>
<ellipse cx="1125" cy="400" rx="46" ry="58" stroke-width="51.93"/>
<path d="M1242 348 C1320 400 1420 500 1450 585 C1440 638 1380 645 1300 630 C1220 615 1130 590 1102 500"/>
<circle cx="1300" cy="515" r="27" fill="#111" stroke="none"/>
<path d="M490 640 C560 655 640 685 700 705 M700 705 C780 680 860 668 945 662 M945 588 C950 620 960 650 985 690 C1010 725 1040 750 1075 760 M1232 622 C1236 660 1245 690 1262 712 M796 640 L800 672"/>
<g fill="#111" stroke-width="22.58">
<ellipse cx="800" cy="758" rx="82" ry="27" transform="rotate(17 800 758)"/>
<ellipse cx="1120" cy="755" rx="62" ry="24" transform="rotate(-6 1120 755)"/>
<ellipse cx="1292" cy="725" rx="58" ry="22" transform="rotate(6 1292 725)"/>
</g>
</g>
<text x="922.6" y="1918.9" font-size="14.4" fill="#fff" text-anchor="end">1</text>
<text x="1015.3" y="1918.9" font-size="14.4" fill="#fff" text-anchor="end">2</text>
<rect x="840.2" y="1928.05" width="186.9" height="94.75" fill="#858688"/>
<rect x="843.2" y="1930.85" width="90.45" height="89.15" fill="#e9846f"/>
<rect x="933.65" y="1930.85" width="90.45" height="89.15" fill="#e9846f"/>
<rect x="932" y="1928.45" width="3.3" height="33.5" fill="#0f0f14"/>
<rect x="932" y="1986.95" width="3.3" height="35.45" fill="#0f0f14"/>
<g transform="translate(933.65 1974.35) scale(0.9000)" fill="#fff" stroke="none">
<path d="M-13.7 -4.9 L2 -11.4 L-0.8 -5.6 L13.1 -5.6 L13.1 -4.1 L-0.9 -4.1 L-1 0.9 Z"/>
<path d="M12.2 5.1 L-3.2 11.4 L-0.2 5.85 L-14.5 5.85 L-14.5 4.35 L-0.2 4.35 L-2.9 -1.2 Z"/>
<path d="M-1.6 -4 L-2.9 -1.2 L1.2 3 L0.6 -1 Z"/>
</g>
<g stroke="#e23a2e" stroke-width="2.6" stroke-linecap="butt">
<line x1="926.77" y1="1965.75" x2="940.53" y2="1982.95" stroke="#e23a2e" stroke-width="4.2"/>
<line x1="940.53" y1="1965.75" x2="926.77" y2="1982.95" stroke="#e23a2e" stroke-width="4.2"/>
</g>
<g transform="translate(854 1966.45) scale(0.03211) translate(-130 -225)" fill="none" stroke="#111" stroke-width="45.15" stroke-linecap="round" stroke-linejoin="round">
<path d="M215 245 C190 330 152 470 155 580 C158 720 220 825 320 832 C410 835 465 740 490 630" stroke-width="65.47"/>
<path d="M490 630 C515 520 560 390 650 298 C740 225 870 232 960 265 C1030 292 1090 322 1150 332"/>
<ellipse cx="1203" cy="305" rx="40" ry="46"/>
<ellipse cx="1125" cy="400" rx="46" ry="58" stroke-width="51.93"/>
<path d="M1242 348 C1320 400 1420 500 1450 585 C1440 638 1380 645 1300 630 C1220 615 1130 590 1102 500"/>
<circle cx="1300" cy="515" r="27" fill="#111" stroke="none"/>
<path d="M490 640 C560 655 640 685 700 705 M700 705 C780 680 860 668 945 662 M945 588 C950 620 960 650 985 690 C1010 725 1040 750 1075 760 M1232 622 C1236 660 1245 690 1262 712 M796 640 L800 672"/>
<g fill="#111" stroke-width="22.58">
<ellipse cx="800" cy="758" rx="82" ry="27" transform="rotate(17 800 758)"/>
<ellipse cx="1120" cy="755" rx="62" ry="24" transform="rotate(-6 1120 755)"/>
<ellipse cx="1292" cy="725" rx="58" ry="22" transform="rotate(6 1292 725)"/>
</g>
</g>
<text x="922.6" y="2017.1" font-size="14.4" fill="#fff" text-anchor="end">1</text>
<text x="1015.3" y="2017.1" font-size="14.4" fill="#fff" text-anchor="end">2</text>
<rect x="1031.8" y="1732.2" width="186.9" height="94.75" fill="#858688"/>
<rect x="1034.8" y="1735" width="90.45" height="89.15" fill="#809fd3"/>
<rect x="1125.25" y="1735" width="90.45" height="89.15" fill="#809fd3"/>
<rect x="1123.6" y="1732.6" width="3.3" height="33.5" fill="#0f0f14"/>
<rect x="1123.6" y="1791.1" width="3.3" height="35.45" fill="#0f0f14"/>
<g transform="translate(1125.25 1778.5) scale(0.9000)" fill="#fff" stroke="none">
<path d="M-13.7 -4.9 L2 -11.4 L-0.8 -5.6 L13.1 -5.6 L13.1 -4.1 L-0.9 -4.1 L-1 0.9 Z"/>
<path d="M12.2 5.1 L-3.2 11.4 L-0.2 5.85 L-14.5 5.85 L-14.5 4.35 L-0.2 4.35 L-2.9 -1.2 Z"/>
<path d="M-1.6 -4 L-2.9 -1.2 L1.2 3 L0.6 -1 Z"/>
</g>
<g transform="translate(1047.6 1769.8) scale(0.03211) translate(-130 -225)" fill="none" stroke="#111" stroke-width="45.15" stroke-linecap="round" stroke-linejoin="round">
<path d="M215 245 C190 330 152 470 155 580 C158 720 220 825 320 832 C410 835 465 740 490 630" stroke-width="65.47"/>
<path d="M490 630 C515 520 560 390 650 298 C740 225 870 232 960 265 C1030 292 1090 322 1150 332"/>
<ellipse cx="1203" cy="305" rx="40" ry="46"/>
<ellipse cx="1125" cy="400" rx="46" ry="58" stroke-width="51.93"/>
<path d="M1242 348 C1320 400 1420 500 1450 585 C1440 638 1380 645 1300 630 C1220 615 1130 590 1102 500"/>
<circle cx="1300" cy="515" r="27" fill="#111" stroke="none"/>
<path d="M490 640 C560 655 640 685 700 705 M700 705 C780 680 860 668 945 662 M945 588 C950 620 960 650 985 690 C1010 725 1040 750 1075 760 M1232 622 C1236 660 1245 690 1262 712 M796 640 L800 672"/>
<g fill="#111" stroke-width="22.58">
<ellipse cx="800" cy="758" rx="82" ry="27" transform="rotate(17 800 758)"/>
<ellipse cx="1120" cy="755" rx="62" ry="24" transform="rotate(-6 1120 755)"/>
<ellipse cx="1292" cy="725" rx="58" ry="22" transform="rotate(6 1292 725)"/>
</g>
</g>
<text x="1114.2" y="1821.25" font-size="14.4" fill="#fff" text-anchor="end">1</text>
<text x="1206.9" y="1821.25" font-size="14.4" fill="#fff" text-anchor="end">2</text>
<rect x="1031.8" y="1829.85" width="186.9" height="94.75" fill="#858688"/>
<rect x="1034.8" y="1832.65" width="90.45" height="89.15" fill="#e9846f"/>
<rect x="1125.25" y="1832.65" width="90.45" height="89.15" fill="#809fd3"/>
<rect x="1123.6" y="1830.25" width="3.3" height="33.5" fill="#0f0f14"/>
<rect x="1123.6" y="1888.75" width="3.3" height="35.45" fill="#0f0f14"/>
<g transform="translate(1125.25 1876.15) scale(0.9000)" fill="#fff" stroke="none">
<path d="M-13.7 -4.9 L2 -11.4 L-0.8 -5.6 L13.1 -5.6 L13.1 -4.1 L-0.9 -4.1 L-1 0.9 Z"/>
<path d="M12.2 5.1 L-3.2 11.4 L-0.2 5.85 L-14.5 5.85 L-14.5 4.35 L-0.2 4.35 L-2.9 -1.2 Z"/>
<path d="M-1.6 -4 L-2.9 -1.2 L1.2 3 L0.6 -1 Z"/>
</g>
<g transform="translate(1047.6 1867.95) scale(0.03211) translate(-130 -225)" fill="none" stroke="#111" stroke-width="45.15" stroke-linecap="round" stroke-linejoin="round">
<path d="M215 245 C190 330 152 470 155 580 C158 720 220 825 320 832 C410 835 465 740 490 630" stroke-width="65.47"/>
<path d="M490 630 C515 520 560 390 650 298 C740 225 870 232 960 265 C1030 292 1090 322 1150 332"/>
<ellipse cx="1203" cy="305" rx="40" ry="46"/>
<ellipse cx="1125" cy="400" rx="46" ry="58" stroke-width="51.93"/>
<path d="M1242 348 C1320 400 1420 500 1450 585 C1440 638 1380 645 1300 630 C1220 615 1130 590 1102 500"/>
<circle cx="1300" cy="515" r="27" fill="#111" stroke="none"/>
<path d="M490 640 C560 655 640 685 700 705 M700 705 C780 680 860 668 945 662 M945 588 C950 620 960 650 985 690 C1010 725 1040 750 1075 760 M1232 622 C1236 660 1245 690 1262 712 M796 640 L800 672"/>
<g fill="#111" stroke-width="22.58">
<ellipse cx="800" cy="758" rx="82" ry="27" transform="rotate(17 800 758)"/>
<ellipse cx="1120" cy="755" rx="62" ry="24" transform="rotate(-6 1120 755)"/>
<ellipse cx="1292" cy="725" rx="58" ry="22" transform="rotate(6 1292 725)"/>
</g>
</g>
<text x="1114.2" y="1918.9" font-size="14.4" fill="#fff" text-anchor="end">1</text>
<text x="1206.9" y="1918.9" font-size="14.4" fill="#fff" text-anchor="end">2</text>
<rect x="1031.8" y="1928.05" width="186.9" height="94.75" fill="#858688"/>
<rect x="1034.8" y="1930.85" width="90.45" height="89.15" fill="#e9846f"/>
<rect x="1125.25" y="1930.85" width="90.45" height="89.15" fill="#e9846f"/>
<rect x="1123.6" y="1928.45" width="3.3" height="33.5" fill="#0f0f14"/>
<rect x="1123.6" y="1986.95" width="3.3" height="35.45" fill="#0f0f14"/>
<g transform="translate(1125.25 1974.35) scale(0.9000)" fill="#fff" stroke="none">
<path d="M-13.7 -4.9 L2 -11.4 L-0.8 -5.6 L13.1 -5.6 L13.1 -4.1 L-0.9 -4.1 L-1 0.9 Z"/>
<path d="M12.2 5.1 L-3.2 11.4 L-0.2 5.85 L-14.5 5.85 L-14.5 4.35 L-0.2 4.35 L-2.9 -1.2 Z"/>
<path d="M-1.6 -4 L-2.9 -1.2 L1.2 3 L0.6 -1 Z"/>
</g>
<g stroke="#e23a2e" stroke-width="2.6" stroke-linecap="butt">
<line x1="1118.37" y1="1965.75" x2="1132.13" y2="1982.95" stroke="#e23a2e" stroke-width="4.2"/>
<line x1="1132.13" y1="1965.75" x2="1118.37" y2="1982.95" stroke="#e23a2e" stroke-width="4.2"/>
</g>
<g transform="translate(1214.9 1966.45) scale(-0.03211 0.03211) translate(-130 -225)" fill="none" stroke="#111" stroke-width="45.15" stroke-linecap="round" stroke-linejoin="round">
<path d="M215 245 C190 330 152 470 155 580 C158 720 220 825 320 832 C410 835 465 740 490 630" stroke-width="65.47"/>
<path d="M490 630 C515 520 560 390 650 298 C740 225 870 232 960 265 C1030 292 1090 322 1150 332"/>
<ellipse cx="1203" cy="305" rx="40" ry="46"/>
<ellipse cx="1125" cy="400" rx="46" ry="58" stroke-width="51.93"/>
<path d="M1242 348 C1320 400 1420 500 1450 585 C1440 638 1380 645 1300 630 C1220 615 1130 590 1102 500"/>
<circle cx="1300" cy="515" r="27" fill="#111" stroke="none"/>
<path d="M490 640 C560 655 640 685 700 705 M700 705 C780 680 860 668 945 662 M945 588 C950 620 960 650 985 690 C1010 725 1040 750 1075 760 M1232 622 C1236 660 1245 690 1262 712 M796 640 L800 672"/>
<g fill="#111" stroke-width="22.58">
<ellipse cx="800" cy="758" rx="82" ry="27" transform="rotate(17 800 758)"/>
<ellipse cx="1120" cy="755" rx="62" ry="24" transform="rotate(-6 1120 755)"/>
<ellipse cx="1292" cy="725" rx="58" ry="22" transform="rotate(6 1292 725)"/>
</g>
</g>
<text x="1114.2" y="2017.1" font-size="14.4" fill="#fff" text-anchor="end">1</text>
<text x="1206.9" y="2017.1" font-size="14.4" fill="#fff" text-anchor="end">2</text>
<text x="839.12" y="2048.8" font-size="21.1" fill="#111">Plate Temp.</text>
<rect x="956" y="2033.4" width="17.7" height="17.7" fill="#858688"/>
<rect x="958" y="2035.4" width="13.7" height="13.7" fill="#809fd3"/>
<text x="978.17" y="2049.9" font-size="19.7" fill="#111">30<tspan fill="#555" font-size="18.71">°C</tspan></text>
<rect x="1042.46" y="2033.4" width="17.7" height="17.7" fill="#858688"/>
<rect x="1044.46" y="2035.4" width="13.7" height="13.7" fill="#e9846f"/>
<text x="1065.18" y="2049.9" font-size="19.7" fill="#111">48<tspan fill="#555" font-size="18.71">°C</tspan></text>
<text x="850.79" y="25.64" font-size="31.2" fill="#1a1a1a" font-weight="bold">c</text>
<line x1="974.69" y1="59.04" x2="1271.8" y2="59.04" stroke="#6e6f71" stroke-width="5.4"/>
<polygon points="942.83,36.3 942.83,80.63 976.08,59.04" fill="#fff" stroke="#6e6f71" stroke-width="4.4"/>
<line x1="984.39" y1="52.65" x2="984.39" y2="58.74" stroke="#111" stroke-width="1.9"/>
<rect x="978.09" y="39.35" width="12.6" height="12.6" fill="#fff" stroke="#111" stroke-width="2.1"/>
<line x1="1008.22" y1="52.65" x2="1008.22" y2="58.74" stroke="#111" stroke-width="1.9"/>
<rect x="1001.92" y="39.35" width="12.6" height="12.6" fill="#fff" stroke="#111" stroke-width="2.1"/>
<line x1="1042.86" y1="52.65" x2="1042.86" y2="58.74" stroke="#111" stroke-width="1.9"/>
<rect x="1036.56" y="39.35" width="12.6" height="12.6" fill="#fff" stroke="#111" stroke-width="2.1"/>
<line x1="1141.78" y1="52.65" x2="1141.78" y2="58.74" stroke="#111" stroke-width="1.9"/>
<rect x="1135.48" y="39.35" width="12.6" height="12.6" fill="#fff" stroke="#111" stroke-width="2.1"/>
<line x1="1165.61" y1="52.65" x2="1165.61" y2="58.74" stroke="#111" stroke-width="1.9"/>
<rect x="1159.31" y="39.35" width="12.6" height="12.6" fill="#fff" stroke="#111" stroke-width="2.1"/>
<line x1="1189.44" y1="52.65" x2="1189.44" y2="58.74" stroke="#111" stroke-width="1.9"/>
<rect x="1183.14" y="39.35" width="12.6" height="12.6" fill="#fff" stroke="#111" stroke-width="2.1"/>
<text x="906.8" y="27.71" font-size="21" fill="#111">Habituation</text>
<text x="1026.79" y="27.71" font-size="21" fill="#111">Pre</text>
<text x="1107.14" y="27.71" font-size="21" fill="#111">Conditioning</text>
<text x="978.29" y="88.12" font-size="21" fill="#111">Day 1-3</text>
<text x="1124.32" y="88.12" font-size="21" fill="#111">Day 4-6</text>
<line x1="1276.18" y1="72.82" x2="1287.59" y2="47.99" stroke="#6e6f71" stroke-width="2.6"/>
<line x1="1287.92" y1="72.82" x2="1299.67" y2="47.99" stroke="#6e6f71" stroke-width="2.6"/>
<line x1="1299.67" y1="59" x2="1343.97" y2="59" stroke="#6e6f71" stroke-width="5.4"/>
<line x1="1330.21" y1="52.69" x2="1330.21" y2="59.4" stroke="#111" stroke-width="1.9"/>
<rect x="1323.91" y="39.26" width="12.6" height="12.6" fill="#fff" stroke="#111" stroke-width="2.1"/>
<circle cx="1358.06" cy="59.4" r="15.6" fill="#fff" stroke="#6e6f71" stroke-width="4.4"/>
<text x="1308.73" y="27.52" font-size="21" fill="#111">Post</text>
<text x="1270.14" y="87.92" font-size="21" fill="#111">Day 7/10/14</text>
<line x1="1401.69" y1="58.73" x2="1431.89" y2="58.73" stroke="#4f86c0" stroke-width="2.6"/>
<circle cx="1416.79" cy="58.73" r="6.6" fill="#4f86c0"/>
<text x="1448.67" y="65.44" font-size="19" fill="#111">Day 7</text>
<line x1="1519.48" y1="58.73" x2="1549.68" y2="58.73" stroke="#56c271" stroke-width="2.6"/>
<circle cx="1534.58" cy="58.73" r="6.6" fill="#56c271"/>
<text x="1565.46" y="65.44" font-size="19" fill="#111">Day 10</text>
<line x1="1641.97" y1="58.73" x2="1672.17" y2="58.73" stroke="#cc5a5e" stroke-width="2.6"/>
<polygon points="1657.07,51.33 1664.47,58.73 1657.07,66.13 1649.67,58.73" fill="#cc5a5e"/>
<text x="1688.62" y="65.44" font-size="19" fill="#111">Day 14</text>
<text x="477.11" y="25.64" font-size="31.2" fill="#1a1a1a" font-weight="bold">b</text>
<path d="M551.97 82.57 L551.97 376.02 L655.05 376.02" fill="none" stroke="#000" stroke-width="3.3" stroke-linejoin="miter"/>
<line x1="545.67" y1="95.6" x2="551.97" y2="95.6" stroke="#2a2a2a" stroke-width="3.3"/>
<text x="539.17" y="102.2" font-size="18.5" fill="#4d4d4d" text-anchor="end">80</text>
<line x1="545.67" y1="162.1" x2="551.97" y2="162.1" stroke="#2a2a2a" stroke-width="3.3"/>
<text x="539.17" y="168.7" font-size="18.5" fill="#4d4d4d" text-anchor="end">60</text>
<line x1="545.67" y1="229.43" x2="551.97" y2="229.43" stroke="#2a2a2a" stroke-width="3.3"/>
<text x="539.17" y="236.03" font-size="18.5" fill="#4d4d4d" text-anchor="end">40</text>
<line x1="545.67" y1="295.94" x2="551.97" y2="295.94" stroke="#2a2a2a" stroke-width="3.3"/>
<text x="539.17" y="302.54" font-size="18.5" fill="#4d4d4d" text-anchor="end">20</text>
<line x1="545.67" y1="362.44" x2="551.97" y2="362.44" stroke="#2a2a2a" stroke-width="3.3"/>
<text x="539.17" y="369.04" font-size="18.5" fill="#4d4d4d" text-anchor="end">0</text>
<line x1="579.13" y1="376.02" x2="579.13" y2="381.82" stroke="#1a1a1a" stroke-width="3.3"/>
<text x="579.13" y="400.95" font-size="19.2" fill="#4d4d4d" text-anchor="middle">Ctrl</text>
<line x1="627.34" y1="376.02" x2="627.34" y2="381.82" stroke="#1a1a1a" stroke-width="3.3"/>
<text x="627.34" y="400.95" font-size="19.2" fill="#4d4d4d" text-anchor="middle">Cond</text>
<text x="513.18" y="228.6" font-size="26.5" fill="#000" text-anchor="middle" transform="rotate(-90 513.18 228.6)">Latency of crossing back (s)</text>
<rect x="560.28" y="325.58" width="38.24" height="16.63" fill="#fff" stroke="#333" stroke-width="3.2" stroke-linejoin="round"/>
<line x1="560.28" y1="333.9" x2="598.52" y2="333.9" stroke="#333" stroke-width="6"/>
<line x1="627.06" y1="195.35" x2="627.06" y2="237.47" stroke="#333" stroke-width="3.2"/>
<rect x="608.5" y="237.47" width="37.13" height="107.51" fill="#fff" stroke="#333" stroke-width="3.2" stroke-linejoin="round"/>
<line x1="608.5" y1="333.34" x2="645.63" y2="333.34" stroke="#333" stroke-width="6"/>
<circle cx="578.02" cy="127.19" r="4.7" fill="#3d9f8f"/>
<circle cx="576.08" cy="230.54" r="4.7" fill="#3d9f8f"/>
<circle cx="580.23" cy="324.75" r="4.7" fill="#3d9f8f"/>
<circle cx="576.08" cy="329.74" r="4.7" fill="#3d9f8f"/>
<circle cx="582.45" cy="331.13" r="4.7" fill="#3d9f8f"/>
<circle cx="573.86" cy="335.28" r="4.7" fill="#3d9f8f"/>
<circle cx="578.02" cy="338.61" r="4.7" fill="#3d9f8f"/>
<circle cx="576.08" cy="343.6" r="4.7" fill="#3d9f8f"/>
<circle cx="583" cy="346.37" r="4.7" fill="#3d9f8f"/>
<circle cx="583.84" cy="349.14" r="4.7" fill="#3d9f8f"/>
<polygon points="625.95,189.33 631.15,194.52 625.95,199.71 620.76,194.52" fill="#cd555a"/>
<polygon points="624.57,204.01 629.76,209.21 624.57,214.4 619.37,209.21" fill="#cd555a"/>
<polygon points="630.67,207.34 635.86,212.53 630.67,217.72 625.47,212.53" fill="#cd555a"/>
<polygon points="628.73,312.63 633.92,317.83 628.73,323.02 623.53,317.83" fill="#cd555a"/>
<polygon points="630.67,322.33 635.86,327.52 630.67,332.72 625.47,327.52" fill="#cd555a"/>
<polygon points="621.8,333.41 626.99,338.61 621.8,343.8 616.6,338.61" fill="#cd555a"/>
<polygon points="627.34,338.4 632.53,343.6 627.34,348.79 622.15,343.6" fill="#cd555a"/>
<polygon points="623.18,342.56 628.38,347.75 623.18,352.95 617.99,347.75" fill="#cd555a"/>
<polygon points="624.57,345.88 629.76,351.08 624.57,356.27 619.37,351.08" fill="#cd555a"/>
<polygon points="628.73,340.34 633.92,345.54 628.73,350.73 623.53,345.54" fill="#cd555a"/>
<path d="M757.57 82.57 L757.57 376.02 L850.4 376.02" fill="none" stroke="#000" stroke-width="3.3" stroke-linejoin="miter"/>
<line x1="751.27" y1="95.6" x2="757.57" y2="95.6" stroke="#2a2a2a" stroke-width="3.3"/>
<text x="744.77" y="102.2" font-size="18.5" fill="#4d4d4d" text-anchor="end">100</text>
<line x1="751.27" y1="162.1" x2="757.57" y2="162.1" stroke="#2a2a2a" stroke-width="3.3"/>
<text x="744.77" y="168.7" font-size="18.5" fill="#4d4d4d" text-anchor="end">75</text>
<line x1="751.27" y1="229.43" x2="757.57" y2="229.43" stroke="#2a2a2a" stroke-width="3.3"/>
<text x="744.77" y="236.03" font-size="18.5" fill="#4d4d4d" text-anchor="end">50</text>
<line x1="751.27" y1="295.94" x2="757.57" y2="295.94" stroke="#2a2a2a" stroke-width="3.3"/>
<text x="744.77" y="302.54" font-size="18.5" fill="#4d4d4d" text-anchor="end">25</text>
<line x1="751.27" y1="362.44" x2="757.57" y2="362.44" stroke="#2a2a2a" stroke-width="3.3"/>
<text x="744.77" y="369.04" font-size="18.5" fill="#4d4d4d" text-anchor="end">0</text>
<line x1="782.51" y1="376.02" x2="782.51" y2="381.82" stroke="#1a1a1a" stroke-width="3.3"/>
<text x="782.51" y="400.95" font-size="19.2" fill="#4d4d4d" text-anchor="middle">Ctrl</text>
<line x1="824.63" y1="376.02" x2="824.63" y2="381.82" stroke="#1a1a1a" stroke-width="3.3"/>
<text x="824.63" y="400.95" font-size="19.2" fill="#4d4d4d" text-anchor="middle">Cond</text>
<text x="707.14" y="232.76" font-size="26.5" fill="#000" text-anchor="middle" transform="rotate(-90 707.14 232.76)">Time spent in chamber 2 (%)</text>
<line x1="782.51" y1="151.02" x2="782.51" y2="180.67" stroke="#333" stroke-width="3.2"/>
<line x1="782.51" y1="236.08" x2="782.51" y2="268.23" stroke="#333" stroke-width="3.2"/>
<rect x="765.89" y="180.67" width="33.25" height="55.42" fill="#fff" stroke="#333" stroke-width="3.2" stroke-linejoin="round"/>
<line x1="765.89" y1="214.75" x2="799.14" y2="214.75" stroke="#333" stroke-width="6"/>
<line x1="824.77" y1="158.5" x2="824.77" y2="182.33" stroke="#333" stroke-width="3.2"/>
<line x1="824.77" y1="248.55" x2="824.77" y2="272.94" stroke="#333" stroke-width="3.2"/>
<rect x="808" y="182.33" width="33.53" height="66.23" fill="#fff" stroke="#333" stroke-width="3.2" stroke-linejoin="round"/>
<line x1="808" y1="202.28" x2="841.53" y2="202.28" stroke="#333" stroke-width="6"/>
<circle cx="781.4" cy="150.46" r="4.7" fill="#3d9f8f"/>
<circle cx="786.67" cy="159.61" r="4.7" fill="#3d9f8f"/>
<circle cx="781.68" cy="177.62" r="4.7" fill="#3d9f8f"/>
<circle cx="779.46" cy="193.41" r="4.7" fill="#3d9f8f"/>
<circle cx="777.25" cy="208.37" r="4.7" fill="#3d9f8f"/>
<circle cx="781.13" cy="220.84" r="4.7" fill="#3d9f8f"/>
<circle cx="779.46" cy="228.88" r="4.7" fill="#3d9f8f"/>
<circle cx="782.51" cy="237.75" r="4.7" fill="#3d9f8f"/>
<circle cx="783.9" cy="268.23" r="4.7" fill="#3d9f8f"/>
<circle cx="786.95" cy="362.44" r="4.7" fill="#3d9f8f"/>
<polygon points="820.47,153.58 825.67,158.77 820.47,163.97 815.28,158.77" fill="#cd555a"/>
<polygon points="826.29,153.58 831.49,158.77 826.29,163.97 821.1,158.77" fill="#cd555a"/>
<polygon points="824.08,177.13 829.27,182.33 824.08,187.52 818.88,182.33" fill="#cd555a"/>
<polygon points="820.47,182.68 825.67,187.87 820.47,193.06 815.28,187.87" fill="#cd555a"/>
<polygon points="829.62,194.59 834.81,199.78 829.62,204.98 824.42,199.78" fill="#cd555a"/>
<polygon points="820.2,199.86 825.39,205.05 820.2,210.24 815,205.05" fill="#cd555a"/>
<polygon points="819.37,228.12 824.56,233.31 819.37,238.51 814.17,233.31" fill="#cd555a"/>
<polygon points="821.31,247.52 826.5,252.71 821.31,257.9 816.11,252.71" fill="#cd555a"/>
<polygon points="828.51,254.17 833.7,259.36 828.51,264.55 823.32,259.36" fill="#cd555a"/>
<polygon points="820.2,268.3 825.39,273.49 820.2,278.69 815,273.49" fill="#cd555a"/>
<path d="M944.21 115.83 L944.21 394.03 L1048.12 394.03" fill="none" stroke="#000" stroke-width="3.3" stroke-linejoin="miter"/>
<line x1="937.91" y1="131.62" x2="944.21" y2="131.62" stroke="#2a2a2a" stroke-width="3.3"/>
<text x="931.41" y="138.22" font-size="18.5" fill="#4d4d4d" text-anchor="end">80</text>
<line x1="937.91" y1="206.43" x2="944.21" y2="206.43" stroke="#2a2a2a" stroke-width="3.3"/>
<text x="931.41" y="213.03" font-size="18.5" fill="#4d4d4d" text-anchor="end">60</text>
<line x1="937.91" y1="280.42" x2="944.21" y2="280.42" stroke="#2a2a2a" stroke-width="3.3"/>
<text x="931.41" y="287.02" font-size="18.5" fill="#4d4d4d" text-anchor="end">40</text>
<line x1="937.91" y1="354.68" x2="944.21" y2="354.68" stroke="#2a2a2a" stroke-width="3.3"/>
<text x="931.41" y="361.28" font-size="18.5" fill="#4d4d4d" text-anchor="end">20</text>
<line x1="972.48" y1="394.03" x2="972.48" y2="399.83" stroke="#1a1a1a" stroke-width="3.3"/>
<text x="972.48" y="418.41" font-size="19.2" fill="#4d4d4d" text-anchor="middle">Ctrl</text>
<line x1="1019.86" y1="394.03" x2="1019.86" y2="399.83" stroke="#1a1a1a" stroke-width="3.3"/>
<text x="1019.86" y="418.41" font-size="19.2" fill="#4d4d4d" text-anchor="middle">Cond</text>
<text x="905.42" y="254.93" font-size="26.5" fill="#000" text-anchor="middle" transform="rotate(-90 905.42 254.93)">Latency of crossing back (s)</text>
<g stroke="#e2e2e2" stroke-width="2.6" stroke-linecap="round">
<line x1="972.48" y1="367.7" x2="1019.86" y2="297.88"/>
<line x1="972.48" y1="356.62" x2="1019.86" y2="237.47"/>
<line x1="972.48" y1="308.13" x2="1019.86" y2="182.33"/>
</g>
<line x1="972.48" y1="360.22" x2="972.48" y2="382.39" stroke="#4f86c0" stroke-width="2.8"/>
<line x1="965.73" y1="360.22" x2="979.23" y2="360.22" stroke="#4f86c0" stroke-width="2.8"/>
<line x1="965.73" y1="382.39" x2="979.23" y2="382.39" stroke="#4f86c0" stroke-width="2.8"/>
<circle cx="972.48" cy="367.7" r="7.4" fill="#4f86c0"/>
<line x1="1019.86" y1="277.09" x2="1019.86" y2="318.66" stroke="#4f86c0" stroke-width="2.8"/>
<line x1="1013.11" y1="277.09" x2="1026.61" y2="277.09" stroke="#4f86c0" stroke-width="2.8"/>
<line x1="1013.11" y1="318.66" x2="1026.61" y2="318.66" stroke="#4f86c0" stroke-width="2.8"/>
<circle cx="1019.86" cy="297.88" r="7.4" fill="#4f86c0"/>
<line x1="972.48" y1="340.27" x2="972.48" y2="372.69" stroke="#56c271" stroke-width="2.8"/>
<line x1="965.73" y1="340.27" x2="979.23" y2="340.27" stroke="#56c271" stroke-width="2.8"/>
<line x1="965.73" y1="372.69" x2="979.23" y2="372.69" stroke="#56c271" stroke-width="2.8"/>
<circle cx="972.48" cy="356.62" r="7.4" fill="#56c271"/>
<line x1="1019.86" y1="191.75" x2="1019.86" y2="283.19" stroke="#56c271" stroke-width="2.8"/>
<line x1="1013.11" y1="191.75" x2="1026.61" y2="191.75" stroke="#56c271" stroke-width="2.8"/>
<line x1="1013.11" y1="283.19" x2="1026.61" y2="283.19" stroke="#56c271" stroke-width="2.8"/>
<circle cx="1019.86" cy="237.47" r="7.4" fill="#56c271"/>
<line x1="972.48" y1="264.62" x2="972.48" y2="351.91" stroke="#cc5a5e" stroke-width="2.8"/>
<line x1="965.73" y1="264.62" x2="979.23" y2="264.62" stroke="#cc5a5e" stroke-width="2.8"/>
<line x1="965.73" y1="351.91" x2="979.23" y2="351.91" stroke="#cc5a5e" stroke-width="2.8"/>
<polygon points="972.48,299.84 980.76,308.13 972.48,316.42 964.19,308.13" fill="#cc5a5e"/>
<line x1="1019.86" y1="128.02" x2="1019.86" y2="236.92" stroke="#cc5a5e" stroke-width="2.8"/>
<line x1="1013.11" y1="128.02" x2="1026.61" y2="128.02" stroke="#cc5a5e" stroke-width="2.8"/>
<line x1="1013.11" y1="236.92" x2="1026.61" y2="236.92" stroke="#cc5a5e" stroke-width="2.8"/>
<polygon points="1019.86,174.04 1028.15,182.33 1019.86,190.62 1011.57,182.33" fill="#cc5a5e"/>
<path d="M1128.48 115.83 L1128.48 394.03 L1233.22 394.03" fill="none" stroke="#000" stroke-width="3.3" stroke-linejoin="miter"/>
<line x1="1122.18" y1="168.2" x2="1128.48" y2="168.2" stroke="#2a2a2a" stroke-width="3.3"/>
<text x="1115.68" y="174.8" font-size="18.5" fill="#4d4d4d" text-anchor="end">70</text>
<line x1="1122.18" y1="230.54" x2="1128.48" y2="230.54" stroke="#2a2a2a" stroke-width="3.3"/>
<text x="1115.68" y="237.14" font-size="18.5" fill="#4d4d4d" text-anchor="end">60</text>
<line x1="1122.18" y1="293.72" x2="1128.48" y2="293.72" stroke="#2a2a2a" stroke-width="3.3"/>
<text x="1115.68" y="300.32" font-size="18.5" fill="#4d4d4d" text-anchor="end">50</text>
<line x1="1122.18" y1="356.62" x2="1128.48" y2="356.62" stroke="#2a2a2a" stroke-width="3.3"/>
<text x="1115.68" y="363.22" font-size="18.5" fill="#4d4d4d" text-anchor="end">40</text>
<line x1="1157.02" y1="394.03" x2="1157.02" y2="399.83" stroke="#1a1a1a" stroke-width="3.3"/>
<text x="1157.02" y="418.41" font-size="19.2" fill="#4d4d4d" text-anchor="middle">Ctrl</text>
<line x1="1204.68" y1="394.03" x2="1204.68" y2="399.83" stroke="#1a1a1a" stroke-width="3.3"/>
<text x="1204.68" y="418.41" font-size="19.2" fill="#4d4d4d" text-anchor="middle">Cond</text>
<text x="1086.92" y="254.93" font-size="26.5" fill="#000" text-anchor="middle" transform="rotate(-90 1086.92 254.93)">Time spent in chamber 2 (%)</text>
<g stroke="#e2e2e2" stroke-width="2.6" stroke-linecap="round">
<line x1="1157.02" y1="343.6" x2="1204.68" y2="180.11"/>
<line x1="1157.02" y1="299.26" x2="1204.68" y2="149.63"/>
<line x1="1157.02" y1="353.29" x2="1204.68" y2="239.13"/>
</g>
<line x1="1157.02" y1="304.8" x2="1157.02" y2="382.39" stroke="#4f86c0" stroke-width="2.8"/>
<line x1="1150.27" y1="304.8" x2="1163.77" y2="304.8" stroke="#4f86c0" stroke-width="2.8"/>
<line x1="1150.27" y1="382.39" x2="1163.77" y2="382.39" stroke="#4f86c0" stroke-width="2.8"/>
<circle cx="1157.02" cy="343.6" r="7.4" fill="#4f86c0"/>
<line x1="1204.68" y1="151.85" x2="1204.68" y2="208.37" stroke="#4f86c0" stroke-width="2.8"/>
<line x1="1197.93" y1="151.85" x2="1211.43" y2="151.85" stroke="#4f86c0" stroke-width="2.8"/>
<line x1="1197.93" y1="208.37" x2="1211.43" y2="208.37" stroke="#4f86c0" stroke-width="2.8"/>
<circle cx="1204.68" cy="180.11" r="7.4" fill="#4f86c0"/>
<line x1="1157.02" y1="270.17" x2="1157.02" y2="328.36" stroke="#56c271" stroke-width="2.8"/>
<line x1="1150.27" y1="270.17" x2="1163.77" y2="270.17" stroke="#56c271" stroke-width="2.8"/>
<line x1="1150.27" y1="328.36" x2="1163.77" y2="328.36" stroke="#56c271" stroke-width="2.8"/>
<circle cx="1157.02" cy="299.26" r="7.4" fill="#56c271"/>
<line x1="1204.68" y1="127.46" x2="1204.68" y2="169.58" stroke="#56c271" stroke-width="2.8"/>
<line x1="1197.93" y1="127.46" x2="1211.43" y2="127.46" stroke="#56c271" stroke-width="2.8"/>
<line x1="1197.93" y1="169.58" x2="1211.43" y2="169.58" stroke="#56c271" stroke-width="2.8"/>
<circle cx="1204.68" cy="149.63" r="7.4" fill="#56c271"/>
<line x1="1157.02" y1="325.58" x2="1157.02" y2="382.39" stroke="#cc5a5e" stroke-width="2.8"/>
<line x1="1150.27" y1="325.58" x2="1163.77" y2="325.58" stroke="#cc5a5e" stroke-width="2.8"/>
<line x1="1150.27" y1="382.39" x2="1163.77" y2="382.39" stroke="#cc5a5e" stroke-width="2.8"/>
<polygon points="1157.02,345.01 1165.31,353.29 1157.02,361.58 1148.73,353.29" fill="#cc5a5e"/>
<line x1="1204.68" y1="200.06" x2="1204.68" y2="277.92" stroke="#cc5a5e" stroke-width="2.8"/>
<line x1="1197.93" y1="200.06" x2="1211.43" y2="200.06" stroke="#cc5a5e" stroke-width="2.8"/>
<line x1="1197.93" y1="277.92" x2="1211.43" y2="277.92" stroke="#cc5a5e" stroke-width="2.8"/>
<polygon points="1204.68,230.84 1212.97,239.13 1204.68,247.42 1196.39,239.13" fill="#cc5a5e"/>
<path d="M1313.76 115.78 L1313.76 394.99 L1417.8 394.99" fill="none" stroke="#000" stroke-width="3.3" stroke-linejoin="miter"/>
<line x1="1307.46" y1="172.83" x2="1313.76" y2="172.83" stroke="#2a2a2a" stroke-width="3.3"/>
<text x="1300.96" y="179.43" font-size="18.5" fill="#4d4d4d" text-anchor="end">75</text>
<line x1="1307.46" y1="247.67" x2="1313.76" y2="247.67" stroke="#2a2a2a" stroke-width="3.3"/>
<text x="1300.96" y="254.27" font-size="18.5" fill="#4d4d4d" text-anchor="end">50</text>
<line x1="1307.46" y1="322.17" x2="1313.76" y2="322.17" stroke="#2a2a2a" stroke-width="3.3"/>
<text x="1300.96" y="328.77" font-size="18.5" fill="#4d4d4d" text-anchor="end">25</text>
<line x1="1341.62" y1="394.99" x2="1341.62" y2="400.79" stroke="#1a1a1a" stroke-width="3.3"/>
<text x="1341.62" y="418.82" font-size="19.2" fill="#4d4d4d" text-anchor="middle">Ctrl</text>
<line x1="1389.27" y1="394.99" x2="1389.27" y2="400.79" stroke="#1a1a1a" stroke-width="3.3"/>
<text x="1389.27" y="418.82" font-size="19.2" fill="#4d4d4d" text-anchor="middle">Cond</text>
<text x="1274.5" y="253.71" font-size="26.5" fill="#000" text-anchor="middle" transform="rotate(-90 1274.5 253.71)">Latency of 1st licking (s)</text>
<g stroke="#e2e2e2" stroke-width="2.6" stroke-linecap="round">
<line x1="1341.62" y1="341.63" x2="1389.27" y2="303.04"/>
<line x1="1341.62" y1="341.63" x2="1389.27" y2="299.68"/>
<line x1="1341.62" y1="341.63" x2="1389.27" y2="243.3"/>
</g>
<line x1="1341.62" y1="333.91" x2="1341.62" y2="350.69" stroke="#4f86c0" stroke-width="2.8"/>
<line x1="1334.87" y1="333.91" x2="1348.37" y2="333.91" stroke="#4f86c0" stroke-width="2.8"/>
<line x1="1334.87" y1="350.69" x2="1348.37" y2="350.69" stroke="#4f86c0" stroke-width="2.8"/>
<circle cx="1341.62" cy="342.3" r="7.4" fill="#4f86c0"/>
<line x1="1389.27" y1="295.32" x2="1389.27" y2="310.42" stroke="#4f86c0" stroke-width="2.8"/>
<line x1="1382.52" y1="295.32" x2="1396.02" y2="295.32" stroke="#4f86c0" stroke-width="2.8"/>
<line x1="1382.52" y1="310.42" x2="1396.02" y2="310.42" stroke="#4f86c0" stroke-width="2.8"/>
<circle cx="1389.27" cy="303.04" r="7.4" fill="#4f86c0"/>
<line x1="1341.62" y1="330.56" x2="1341.62" y2="347.34" stroke="#56c271" stroke-width="2.8"/>
<line x1="1334.87" y1="330.56" x2="1348.37" y2="330.56" stroke="#56c271" stroke-width="2.8"/>
<line x1="1334.87" y1="347.34" x2="1348.37" y2="347.34" stroke="#56c271" stroke-width="2.8"/>
<circle cx="1341.62" cy="338.95" r="7.4" fill="#56c271"/>
<line x1="1389.27" y1="288.61" x2="1389.27" y2="312.1" stroke="#56c271" stroke-width="2.8"/>
<line x1="1382.52" y1="288.61" x2="1396.02" y2="288.61" stroke="#56c271" stroke-width="2.8"/>
<line x1="1382.52" y1="312.1" x2="1396.02" y2="312.1" stroke="#56c271" stroke-width="2.8"/>
<circle cx="1389.27" cy="299.68" r="7.4" fill="#56c271"/>
<line x1="1341.62" y1="330.56" x2="1341.62" y2="350.69" stroke="#cc5a5e" stroke-width="2.8"/>
<line x1="1334.87" y1="330.56" x2="1348.37" y2="330.56" stroke="#cc5a5e" stroke-width="2.8"/>
<line x1="1334.87" y1="350.69" x2="1348.37" y2="350.69" stroke="#cc5a5e" stroke-width="2.8"/>
<polygon points="1341.62,333.34 1349.9,341.63 1341.62,349.92 1333.33,341.63" fill="#cc5a5e"/>
<line x1="1389.27" y1="223.17" x2="1389.27" y2="262.77" stroke="#cc5a5e" stroke-width="2.8"/>
<line x1="1382.52" y1="223.17" x2="1396.02" y2="223.17" stroke="#cc5a5e" stroke-width="2.8"/>
<line x1="1382.52" y1="262.77" x2="1396.02" y2="262.77" stroke="#cc5a5e" stroke-width="2.8"/>
<polygon points="1389.27,235.02 1397.56,243.3 1389.27,251.59 1380.98,243.3" fill="#cc5a5e"/>
<path d="M1509.41 115.78 L1509.41 394.99 L1602.37 394.99" fill="none" stroke="#000" stroke-width="3.3" stroke-linejoin="miter"/>
<line x1="1503.11" y1="127.52" x2="1509.41" y2="127.52" stroke="#2a2a2a" stroke-width="3.3"/>
<text x="1496.61" y="134.12" font-size="18.5" fill="#4d4d4d" text-anchor="end">100</text>
<line x1="1503.11" y1="191.29" x2="1509.41" y2="191.29" stroke="#2a2a2a" stroke-width="3.3"/>
<text x="1496.61" y="197.89" font-size="18.5" fill="#4d4d4d" text-anchor="end">75</text>
<line x1="1503.11" y1="255.05" x2="1509.41" y2="255.05" stroke="#2a2a2a" stroke-width="3.3"/>
<text x="1496.61" y="261.65" font-size="18.5" fill="#4d4d4d" text-anchor="end">50</text>
<line x1="1503.11" y1="318.14" x2="1509.41" y2="318.14" stroke="#2a2a2a" stroke-width="3.3"/>
<text x="1496.61" y="324.74" font-size="18.5" fill="#4d4d4d" text-anchor="end">25</text>
<line x1="1503.11" y1="381.9" x2="1509.41" y2="381.9" stroke="#2a2a2a" stroke-width="3.3"/>
<text x="1496.61" y="388.5" font-size="18.5" fill="#4d4d4d" text-anchor="end">0</text>
<line x1="1534.58" y1="394.99" x2="1534.58" y2="400.79" stroke="#1a1a1a" stroke-width="3.3"/>
<text x="1534.58" y="418.82" font-size="19.2" fill="#4d4d4d" text-anchor="middle">Ctrl</text>
<line x1="1577.2" y1="394.99" x2="1577.2" y2="400.79" stroke="#1a1a1a" stroke-width="3.3"/>
<text x="1577.2" y="418.82" font-size="19.2" fill="#4d4d4d" text-anchor="middle">Cond</text>
<text x="1459.74" y="255.05" font-size="26.5" fill="#000" text-anchor="middle" transform="rotate(-90 1459.74 255.05)">Latency of 1st rearing (s)</text>
<g stroke="#e2e2e2" stroke-width="2.6" stroke-linecap="round">
<line x1="1534.58" y1="335.59" x2="1577.2" y2="301.36"/>
<line x1="1534.58" y1="317.13" x2="1577.2" y2="253.37"/>
<line x1="1534.58" y1="312.1" x2="1577.2" y2="238.27"/>
</g>
<line x1="1534.58" y1="327.2" x2="1534.58" y2="342.3" stroke="#4f86c0" stroke-width="2.8"/>
<line x1="1527.83" y1="327.2" x2="1541.33" y2="327.2" stroke="#4f86c0" stroke-width="2.8"/>
<line x1="1527.83" y1="342.3" x2="1541.33" y2="342.3" stroke="#4f86c0" stroke-width="2.8"/>
<circle cx="1534.58" cy="335.59" r="7.4" fill="#4f86c0"/>
<line x1="1577.2" y1="297" x2="1577.2" y2="305.39" stroke="#4f86c0" stroke-width="2.8"/>
<line x1="1570.45" y1="297" x2="1583.95" y2="297" stroke="#4f86c0" stroke-width="2.8"/>
<line x1="1570.45" y1="305.39" x2="1583.95" y2="305.39" stroke="#4f86c0" stroke-width="2.8"/>
<circle cx="1577.2" cy="301.36" r="7.4" fill="#4f86c0"/>
<line x1="1534.58" y1="307.07" x2="1534.58" y2="327.2" stroke="#56c271" stroke-width="2.8"/>
<line x1="1527.83" y1="307.07" x2="1541.33" y2="307.07" stroke="#56c271" stroke-width="2.8"/>
<line x1="1527.83" y1="327.2" x2="1541.33" y2="327.2" stroke="#56c271" stroke-width="2.8"/>
<circle cx="1534.58" cy="317.13" r="7.4" fill="#56c271"/>
<line x1="1577.2" y1="223.17" x2="1577.2" y2="283.57" stroke="#56c271" stroke-width="2.8"/>
<line x1="1570.45" y1="223.17" x2="1583.95" y2="223.17" stroke="#56c271" stroke-width="2.8"/>
<line x1="1570.45" y1="283.57" x2="1583.95" y2="283.57" stroke="#56c271" stroke-width="2.8"/>
<circle cx="1577.2" cy="253.37" r="7.4" fill="#56c271"/>
<line x1="1534.58" y1="298.68" x2="1534.58" y2="325.52" stroke="#cc5a5e" stroke-width="2.8"/>
<line x1="1527.83" y1="298.68" x2="1541.33" y2="298.68" stroke="#cc5a5e" stroke-width="2.8"/>
<line x1="1527.83" y1="325.52" x2="1541.33" y2="325.52" stroke="#cc5a5e" stroke-width="2.8"/>
<polygon points="1534.58,303.81 1542.87,312.1 1534.58,320.39 1526.29,312.1" fill="#cc5a5e"/>
<line x1="1577.2" y1="201.35" x2="1577.2" y2="273.51" stroke="#cc5a5e" stroke-width="2.8"/>
<line x1="1570.45" y1="201.35" x2="1583.95" y2="201.35" stroke="#cc5a5e" stroke-width="2.8"/>
<line x1="1570.45" y1="273.51" x2="1583.95" y2="273.51" stroke="#cc5a5e" stroke-width="2.8"/>
<polygon points="1577.2,229.98 1585.49,238.27 1577.2,246.56 1568.91,238.27" fill="#cc5a5e"/>
<path d="M1694.66 115.78 L1694.66 394.99 L1786.95 394.99" fill="none" stroke="#000" stroke-width="3.3" stroke-linejoin="miter"/>
<line x1="1688.36" y1="127.52" x2="1694.66" y2="127.52" stroke="#2a2a2a" stroke-width="3.3"/>
<text x="1681.86" y="134.12" font-size="18.5" fill="#4d4d4d" text-anchor="end">200</text>
<line x1="1688.36" y1="212.43" x2="1694.66" y2="212.43" stroke="#2a2a2a" stroke-width="3.3"/>
<text x="1681.86" y="219.03" font-size="18.5" fill="#4d4d4d" text-anchor="end">150</text>
<line x1="1688.36" y1="297" x2="1694.66" y2="297" stroke="#2a2a2a" stroke-width="3.3"/>
<text x="1681.86" y="303.6" font-size="18.5" fill="#4d4d4d" text-anchor="end">100</text>
<line x1="1688.36" y1="381.9" x2="1694.66" y2="381.9" stroke="#2a2a2a" stroke-width="3.3"/>
<text x="1681.86" y="388.5" font-size="18.5" fill="#4d4d4d" text-anchor="end">50</text>
<line x1="1719.16" y1="394.99" x2="1719.16" y2="400.79" stroke="#1a1a1a" stroke-width="3.3"/>
<text x="1719.16" y="418.82" font-size="19.2" fill="#4d4d4d" text-anchor="middle">Ctrl</text>
<line x1="1761.78" y1="394.99" x2="1761.78" y2="400.79" stroke="#1a1a1a" stroke-width="3.3"/>
<text x="1761.78" y="418.82" font-size="19.2" fill="#4d4d4d" text-anchor="middle">Cond</text>
<text x="1645.33" y="257.73" font-size="26.5" fill="#000" text-anchor="middle" transform="rotate(-90 1645.33 257.73)">Latency of 1st jumping (s)</text>
<g stroke="#e2e2e2" stroke-width="2.6" stroke-linecap="round">
<line x1="1719.16" y1="274.51" x2="1761.78" y2="212.43"/>
<line x1="1719.16" y1="321.16" x2="1761.78" y2="234.91"/>
<line x1="1719.16" y1="303.04" x2="1761.78" y2="237.26"/>
</g>
<line x1="1719.16" y1="256.06" x2="1719.16" y2="293.64" stroke="#4f86c0" stroke-width="2.8"/>
<line x1="1712.41" y1="256.06" x2="1725.91" y2="256.06" stroke="#4f86c0" stroke-width="2.8"/>
<line x1="1712.41" y1="293.64" x2="1725.91" y2="293.64" stroke="#4f86c0" stroke-width="2.8"/>
<circle cx="1719.16" cy="274.51" r="7.4" fill="#4f86c0"/>
<line x1="1719.16" y1="315.46" x2="1719.16" y2="327.2" stroke="#56c271" stroke-width="2.8"/>
<line x1="1712.41" y1="315.46" x2="1725.91" y2="315.46" stroke="#56c271" stroke-width="2.8"/>
<line x1="1712.41" y1="327.2" x2="1725.91" y2="327.2" stroke="#56c271" stroke-width="2.8"/>
<circle cx="1719.16" cy="321.16" r="7.4" fill="#56c271"/>
<line x1="1761.78" y1="214.78" x2="1761.78" y2="255.05" stroke="#56c271" stroke-width="2.8"/>
<line x1="1755.03" y1="214.78" x2="1768.53" y2="214.78" stroke="#56c271" stroke-width="2.8"/>
<line x1="1755.03" y1="255.05" x2="1768.53" y2="255.05" stroke="#56c271" stroke-width="2.8"/>
<circle cx="1761.78" cy="234.91" r="7.4" fill="#56c271"/>
<line x1="1761.78" y1="198" x2="1761.78" y2="226.52" stroke="#4f86c0" stroke-width="2.8"/>
<line x1="1755.03" y1="198" x2="1768.53" y2="198" stroke="#4f86c0" stroke-width="2.8"/>
<line x1="1755.03" y1="226.52" x2="1768.53" y2="226.52" stroke="#4f86c0" stroke-width="2.8"/>
<circle cx="1761.78" cy="212.43" r="7.4" fill="#4f86c0"/>
<line x1="1719.16" y1="286.26" x2="1719.16" y2="310.42" stroke="#cc5a5e" stroke-width="2.8"/>
<line x1="1712.41" y1="286.26" x2="1725.91" y2="286.26" stroke="#cc5a5e" stroke-width="2.8"/>
<line x1="1712.41" y1="310.42" x2="1725.91" y2="310.42" stroke="#cc5a5e" stroke-width="2.8"/>
<polygon points="1719.16,294.75 1727.44,303.04 1719.16,311.33 1710.87,303.04" fill="#cc5a5e"/>
<line x1="1761.78" y1="214.78" x2="1761.78" y2="260.08" stroke="#cc5a5e" stroke-width="2.8"/>
<line x1="1755.03" y1="214.78" x2="1768.53" y2="214.78" stroke="#cc5a5e" stroke-width="2.8"/>
<line x1="1755.03" y1="260.08" x2="1768.53" y2="260.08" stroke="#cc5a5e" stroke-width="2.8"/>
<polygon points="1761.78,228.97 1770.06,237.26 1761.78,245.55 1753.49,237.26" fill="#cc5a5e"/>
<text x="475.42" y="462.57" font-size="31.2" fill="#1a1a1a" font-weight="bold">e</text>
<polygon points="600.71,464.19 605.31,468.79 600.71,473.39 596.11,468.79" fill="#cd555a"/>
<text x="617.34" y="474.89" font-size="19" fill="#111">Saline</text>
<polygon points="710.17,462.78 715.77,472.53 704.57,472.53" fill="#5b48a2"/>
<text x="728.73" y="474.89" font-size="19" fill="#111">Nalox.</text>
<path d="M568.85 502.6 L568.85 795.21 L786.37 795.21" fill="none" stroke="#000" stroke-width="3.3" stroke-linejoin="miter"/>
<line x1="562.55" y1="514.51" x2="568.85" y2="514.51" stroke="#2a2a2a" stroke-width="3.3"/>
<text x="557.05" y="521.11" font-size="18.5" fill="#4d4d4d" text-anchor="end">150</text>
<line x1="562.55" y1="603.74" x2="568.85" y2="603.74" stroke="#2a2a2a" stroke-width="3.3"/>
<text x="557.05" y="610.34" font-size="18.5" fill="#4d4d4d" text-anchor="end">100</text>
<line x1="562.55" y1="692.41" x2="568.85" y2="692.41" stroke="#2a2a2a" stroke-width="3.3"/>
<text x="557.05" y="699.01" font-size="18.5" fill="#4d4d4d" text-anchor="end">50</text>
<line x1="562.55" y1="781.35" x2="568.85" y2="781.35" stroke="#2a2a2a" stroke-width="3.3"/>
<text x="557.05" y="787.95" font-size="18.5" fill="#4d4d4d" text-anchor="end">0</text>
<line x1="599.33" y1="795.21" x2="599.33" y2="801.01" stroke="#1a1a1a" stroke-width="3.3"/>
<text x="595.17" y="827.63" font-size="19.1" fill="#4d4d4d" text-anchor="middle">Pre</text>
<line x1="651.42" y1="795.21" x2="651.42" y2="801.01" stroke="#1a1a1a" stroke-width="3.3"/>
<text x="653.08" y="827.63" font-size="19.1" fill="#4d4d4d" text-anchor="middle">Post</text>
<line x1="703.24" y1="795.21" x2="703.24" y2="801.01" stroke="#1a1a1a" stroke-width="3.3"/>
<text x="707.4" y="827.63" font-size="19.1" fill="#4d4d4d" text-anchor="middle">Pre</text>
<line x1="755.89" y1="795.21" x2="755.89" y2="801.01" stroke="#1a1a1a" stroke-width="3.3"/>
<text x="765.31" y="827.63" font-size="19.1" fill="#4d4d4d" text-anchor="middle">Post</text>
<text x="518.42" y="647.52" font-size="26.5" fill="#000" text-anchor="middle" transform="rotate(-90 518.42 647.52)">Latency of crossing back (s)</text>
<line x1="599.74" y1="730.65" x2="599.74" y2="744.5" stroke="#333" stroke-width="3.2"/>
<line x1="599.74" y1="756.42" x2="599.74" y2="769.44" stroke="#333" stroke-width="3.2"/>
<rect x="579.93" y="744.5" width="39.62" height="11.92" fill="#fff" stroke="#333" stroke-width="3.2" stroke-linejoin="round"/>
<line x1="579.93" y1="748.1" x2="619.56" y2="748.1" stroke="#333" stroke-width="6"/>
<line x1="651.56" y1="603.18" x2="651.56" y2="644.75" stroke="#333" stroke-width="3.2"/>
<line x1="651.56" y1="688.53" x2="651.56" y2="712.08" stroke="#333" stroke-width="3.2"/>
<rect x="631.75" y="644.75" width="39.62" height="43.78" fill="#fff" stroke="#333" stroke-width="3.2" stroke-linejoin="round"/>
<line x1="631.75" y1="680.77" x2="671.37" y2="680.77" stroke="#333" stroke-width="6"/>
<line x1="703.65" y1="725.1" x2="703.65" y2="743.12" stroke="#333" stroke-width="3.2"/>
<line x1="703.65" y1="766.11" x2="703.65" y2="766.67" stroke="#333" stroke-width="3.2"/>
<rect x="683.84" y="743.12" width="39.62" height="23" fill="#fff" stroke="#333" stroke-width="3.2" stroke-linejoin="round"/>
<line x1="683.84" y1="755.03" x2="723.47" y2="755.03" stroke="#333" stroke-width="6"/>
<line x1="755.89" y1="630.89" x2="755.89" y2="653.89" stroke="#333" stroke-width="3.2"/>
<line x1="755.89" y1="696.84" x2="755.89" y2="719.56" stroke="#333" stroke-width="3.2"/>
<rect x="735.94" y="653.89" width="39.9" height="42.95" fill="#fff" stroke="#333" stroke-width="3.2" stroke-linejoin="round"/>
<line x1="735.94" y1="681.6" x2="775.84" y2="681.6" stroke="#333" stroke-width="6"/>
<g stroke="#e2e2e2" stroke-width="3.4" stroke-linecap="round">
<line x1="599.33" y1="707.92" x2="651.42" y2="712.08"/>
<line x1="599.33" y1="730.09" x2="651.42" y2="675.78"/>
<line x1="599.33" y1="744.5" x2="651.42" y2="522.83"/>
<line x1="599.33" y1="748.1" x2="651.42" y2="774.15"/>
<line x1="599.33" y1="751.43" x2="651.42" y2="602.35"/>
<line x1="599.33" y1="758.36" x2="651.42" y2="645.58"/>
<line x1="599.33" y1="769.44" x2="651.42" y2="686.31"/>
<line x1="599.33" y1="780.52" x2="651.42" y2="688.53"/>
</g>
<g stroke="#e2e2e2" stroke-width="3.4" stroke-linecap="round">
<line x1="703.24" y1="722.33" x2="755.89" y2="629.51"/>
<line x1="703.24" y1="727.88" x2="755.89" y2="576.86"/>
<line x1="703.24" y1="740.34" x2="755.89" y2="645.58"/>
<line x1="703.24" y1="751.43" x2="755.89" y2="675.23"/>
<line x1="703.24" y1="753.65" x2="755.89" y2="686.31"/>
<line x1="703.24" y1="755.58" x2="755.89" y2="691.85"/>
<line x1="703.24" y1="761.13" x2="755.89" y2="697.95"/>
<line x1="703.24" y1="765.28" x2="755.89" y2="704.32"/>
<line x1="703.24" y1="768.05" x2="755.89" y2="719.56"/>
</g>
<polygon points="598.5,703.37 603.06,707.92 598.5,712.48 593.94,707.92" fill="#cd555a"/>
<polygon points="599.61,725.53 604.16,730.09 599.61,734.65 595.05,730.09" fill="#cd555a"/>
<polygon points="600.16,739.94 604.72,744.5 600.16,749.06 595.6,744.5" fill="#cd555a"/>
<polygon points="598.77,743.55 603.33,748.1 598.77,752.66 594.22,748.1" fill="#cd555a"/>
<polygon points="600.71,746.87 605.27,751.43 600.71,755.99 596.16,751.43" fill="#cd555a"/>
<polygon points="599.88,753.8 604.44,758.36 599.88,762.91 595.33,758.36" fill="#cd555a"/>
<polygon points="599.61,764.88 604.16,769.44 599.61,774 595.05,769.44" fill="#cd555a"/>
<polygon points="599.05,775.97 603.61,780.52 599.05,785.08 594.49,780.52" fill="#cd555a"/>
<polygon points="650.59,518.27 655.15,522.83 650.59,527.38 646.03,522.83" fill="#cd555a"/>
<polygon points="652.25,597.79 656.81,602.35 652.25,606.91 647.7,602.35" fill="#cd555a"/>
<polygon points="650.59,641.02 655.15,645.58 650.59,650.14 646.03,645.58" fill="#cd555a"/>
<polygon points="651.7,671.22 656.26,675.78 651.7,680.34 647.14,675.78" fill="#cd555a"/>
<polygon points="652.81,681.75 657.37,686.31 652.81,690.87 648.25,686.31" fill="#cd555a"/>
<polygon points="650.59,683.97 655.15,688.53 650.59,693.09 646.03,688.53" fill="#cd555a"/>
<polygon points="651.98,707.52 656.53,712.08 651.98,716.64 647.42,712.08" fill="#cd555a"/>
<polygon points="650.59,769.59 655.15,774.15 650.59,778.71 646.03,774.15" fill="#cd555a"/>
<polygon points="703.24,716.33 709.4,727.05 697.08,727.05" fill="#5b48a2"/>
<polygon points="704.07,722.7 710.23,733.42 697.91,733.42" fill="#5b48a2"/>
<polygon points="703.24,734.34 709.4,745.06 697.08,745.06" fill="#5b48a2"/>
<polygon points="704.62,745.43 710.78,756.14 698.46,756.14" fill="#5b48a2"/>
<polygon points="702.68,749.58 708.84,760.3 696.52,760.3" fill="#5b48a2"/>
<polygon points="703.79,755.12 709.95,765.84 697.63,765.84" fill="#5b48a2"/>
<polygon points="703.24,759.28 709.4,770 697.08,770" fill="#5b48a2"/>
<polygon points="704.62,762.61 710.78,773.32 698.46,773.32" fill="#5b48a2"/>
<polygon points="702.68,747.64 708.84,758.36 696.52,758.36" fill="#5b48a2"/>
<polygon points="756.72,570.86 762.88,581.58 750.56,581.58" fill="#5b48a2"/>
<polygon points="756.44,623.51 762.6,634.22 750.28,634.22" fill="#5b48a2"/>
<polygon points="755.33,639.58 761.49,650.29 749.17,650.29" fill="#5b48a2"/>
<polygon points="755.89,669.23 762.05,679.94 749.73,679.94" fill="#5b48a2"/>
<polygon points="756.72,680.31 762.88,691.03 750.56,691.03" fill="#5b48a2"/>
<polygon points="755.06,685.85 761.22,696.57 748.9,696.57" fill="#5b48a2"/>
<polygon points="756.44,691.95 762.6,702.67 750.28,702.67" fill="#5b48a2"/>
<polygon points="757.27,698.32 763.43,709.04 751.11,709.04" fill="#5b48a2"/>
<polygon points="755.33,713.56 761.49,724.28 749.17,724.28" fill="#5b48a2"/>
<path d="M591.57 512.3 L591.57 506.75 L648.37 506.75 L648.37 512.3" fill="none" stroke="#000" stroke-width="3.6" stroke-linejoin="miter"/>
<text x="619.56" y="510.16" font-size="29.5" fill="#000" text-anchor="middle" stroke="#000" stroke-width="0.5">**</text>
<path d="M699.64 552.75 L699.64 547.76 L756.44 547.76 L756.44 552.75" fill="none" stroke="#000" stroke-width="3.6" stroke-linejoin="miter"/>
<text x="729.56" y="550.34" font-size="29.5" fill="#000" text-anchor="middle" stroke="#000" stroke-width="0.5">***</text>
<path d="M884.46 502.6 L884.46 796.32 L1102.81 796.32" fill="none" stroke="#000" stroke-width="3.3" stroke-linejoin="miter"/>
<line x1="878.16" y1="502.88" x2="884.46" y2="502.88" stroke="#2a2a2a" stroke-width="3.3"/>
<text x="872.66" y="509.48" font-size="18.5" fill="#4d4d4d" text-anchor="end">100</text>
<line x1="878.16" y1="575.47" x2="884.46" y2="575.47" stroke="#2a2a2a" stroke-width="3.3"/>
<text x="872.66" y="582.07" font-size="18.5" fill="#4d4d4d" text-anchor="end">75</text>
<line x1="878.16" y1="648.9" x2="884.46" y2="648.9" stroke="#2a2a2a" stroke-width="3.3"/>
<text x="872.66" y="655.5" font-size="18.5" fill="#4d4d4d" text-anchor="end">50</text>
<line x1="878.16" y1="722.33" x2="884.46" y2="722.33" stroke="#2a2a2a" stroke-width="3.3"/>
<text x="872.66" y="728.93" font-size="18.5" fill="#4d4d4d" text-anchor="end">25</text>
<line x1="878.16" y1="795.76" x2="884.46" y2="795.76" stroke="#2a2a2a" stroke-width="3.3"/>
<text x="872.66" y="802.36" font-size="18.5" fill="#4d4d4d" text-anchor="end">0</text>
<line x1="915.22" y1="796.32" x2="915.22" y2="802.12" stroke="#1a1a1a" stroke-width="3.3"/>
<text x="906.63" y="827.63" font-size="19.1" fill="#4d4d4d" text-anchor="middle">Pre</text>
<line x1="967.59" y1="796.32" x2="967.59" y2="802.12" stroke="#1a1a1a" stroke-width="3.3"/>
<text x="964.54" y="827.63" font-size="19.1" fill="#4d4d4d" text-anchor="middle">Post</text>
<line x1="1019.69" y1="796.32" x2="1019.69" y2="802.12" stroke="#1a1a1a" stroke-width="3.3"/>
<text x="1018.85" y="827.63" font-size="19.1" fill="#4d4d4d" text-anchor="middle">Pre</text>
<line x1="1070.95" y1="796.32" x2="1070.95" y2="802.12" stroke="#1a1a1a" stroke-width="3.3"/>
<text x="1076.77" y="827.63" font-size="19.1" fill="#4d4d4d" text-anchor="middle">Post</text>
<text x="834.86" y="646.13" font-size="26.5" fill="#000" text-anchor="middle" transform="rotate(-90 834.86 646.13)">Time spent in chamber 2 (%)</text>
<line x1="915.78" y1="590.71" x2="915.78" y2="628.68" stroke="#333" stroke-width="3.2"/>
<line x1="915.78" y1="666.92" x2="915.78" y2="678" stroke="#333" stroke-width="3.2"/>
<rect x="895.83" y="628.68" width="39.9" height="38.24" fill="#fff" stroke="#333" stroke-width="3.2" stroke-linejoin="round"/>
<line x1="895.83" y1="659.99" x2="935.73" y2="659.99" stroke="#333" stroke-width="6"/>
<line x1="967.73" y1="532.52" x2="967.73" y2="543.61" stroke="#333" stroke-width="3.2"/>
<line x1="967.73" y1="572.15" x2="967.73" y2="604.01" stroke="#333" stroke-width="3.2"/>
<rect x="947.64" y="543.61" width="40.18" height="28.54" fill="#fff" stroke="#333" stroke-width="3.2" stroke-linejoin="round"/>
<line x1="947.64" y1="564.94" x2="987.82" y2="564.94" stroke="#333" stroke-width="6"/>
<line x1="1019.55" y1="601.8" x2="1019.55" y2="605.4" stroke="#333" stroke-width="3.2"/>
<line x1="1019.55" y1="664.14" x2="1019.55" y2="678" stroke="#333" stroke-width="3.2"/>
<rect x="999.46" y="605.4" width="40.18" height="58.74" fill="#fff" stroke="#333" stroke-width="3.2" stroke-linejoin="round"/>
<line x1="999.46" y1="623.97" x2="1039.64" y2="623.97" stroke="#333" stroke-width="6"/>
<line x1="1071.92" y1="531.14" x2="1071.92" y2="542.78" stroke="#333" stroke-width="3.2"/>
<line x1="1071.92" y1="561.62" x2="1071.92" y2="576.86" stroke="#333" stroke-width="3.2"/>
<rect x="1052.11" y="542.78" width="39.62" height="18.84" fill="#fff" stroke="#333" stroke-width="3.2" stroke-linejoin="round"/>
<line x1="1052.11" y1="558.02" x2="1091.73" y2="558.02" stroke="#333" stroke-width="6"/>
<g stroke="#e2e2e2" stroke-width="3.4" stroke-linecap="round">
<line x1="915.78" y1="590.16" x2="967.59" y2="540.84"/>
<line x1="915.78" y1="600.41" x2="967.59" y2="532.52"/>
<line x1="915.78" y1="623.13" x2="967.59" y2="535.3"/>
<line x1="915.78" y1="644.75" x2="967.59" y2="552.75"/>
<line x1="915.78" y1="655" x2="967.59" y2="561.62"/>
<line x1="915.78" y1="664.14" x2="967.59" y2="567.72"/>
<line x1="915.78" y1="666.92" x2="967.59" y2="572.15"/>
<line x1="915.78" y1="678" x2="967.59" y2="576.31"/>
<line x1="915.78" y1="761.13" x2="967.59" y2="604.01"/>
</g>
<g stroke="#e2e2e2" stroke-width="3.4" stroke-linecap="round">
<line x1="1019.69" y1="603.18" x2="1071.78" y2="530.31"/>
<line x1="1019.69" y1="605.4" x2="1071.78" y2="533.08"/>
<line x1="1019.69" y1="619.81" x2="1071.78" y2="542.78"/>
<line x1="1019.69" y1="627.29" x2="1071.78" y2="554.69"/>
<line x1="1019.69" y1="649.46" x2="1071.78" y2="558.02"/>
<line x1="1019.69" y1="666.92" x2="1071.78" y2="560.23"/>
<line x1="1019.69" y1="675.23" x2="1071.78" y2="562.45"/>
<line x1="1019.69" y1="678.83" x2="1071.78" y2="576.31"/>
<line x1="1019.69" y1="607.34" x2="1071.78" y2="605.12"/>
</g>
<polygon points="916.33,585.6 920.89,590.16 916.33,594.72 911.77,590.16" fill="#cd555a"/>
<polygon points="917.16,595.85 921.72,600.41 917.16,604.97 912.6,600.41" fill="#cd555a"/>
<polygon points="914.94,618.58 919.5,623.13 914.94,627.69 910.39,623.13" fill="#cd555a"/>
<polygon points="916.61,640.19 921.17,644.75 916.61,649.31 912.05,644.75" fill="#cd555a"/>
<polygon points="915.78,650.44 920.33,655 915.78,659.56 911.22,655" fill="#cd555a"/>
<polygon points="914.94,659.59 919.5,664.14 914.94,668.7 910.39,664.14" fill="#cd555a"/>
<polygon points="916.61,662.36 921.17,666.92 916.61,671.47 912.05,666.92" fill="#cd555a"/>
<polygon points="915.78,673.44 920.33,678 915.78,682.56 911.22,678" fill="#cd555a"/>
<polygon points="916.33,756.57 920.89,761.13 916.33,765.68 911.77,761.13" fill="#cd555a"/>
<polygon points="967.87,527.97 972.43,532.52 967.87,537.08 963.31,532.52" fill="#cd555a"/>
<polygon points="967.04,530.74 971.6,535.3 967.04,539.85 962.48,535.3" fill="#cd555a"/>
<polygon points="968.42,536.28 972.98,540.84 968.42,545.4 963.87,540.84" fill="#cd555a"/>
<polygon points="968.98,548.19 973.54,552.75 968.98,557.31 964.42,552.75" fill="#cd555a"/>
<polygon points="967.04,557.06 971.6,561.62 967.04,566.18 962.48,561.62" fill="#cd555a"/>
<polygon points="967.87,563.16 972.43,567.72 967.87,572.27 963.31,567.72" fill="#cd555a"/>
<polygon points="967.04,567.59 971.6,572.15 967.04,576.71 962.48,572.15" fill="#cd555a"/>
<polygon points="968.42,571.75 972.98,576.31 968.42,580.86 963.87,576.31" fill="#cd555a"/>
<polygon points="967.32,599.46 971.87,604.01 967.32,608.57 962.76,604.01" fill="#cd555a"/>
<polygon points="1020.24,595.8 1026.4,606.51 1014.08,606.51" fill="#5b48a2"/>
<polygon points="1019.13,599.4 1025.29,610.12 1012.97,610.12" fill="#5b48a2"/>
<polygon points="1019.96,613.81 1026.12,624.53 1013.8,624.53" fill="#5b48a2"/>
<polygon points="1018.3,621.29 1024.46,632.01 1012.14,632.01" fill="#5b48a2"/>
<polygon points="1019.69,643.46 1025.85,654.17 1013.53,654.17" fill="#5b48a2"/>
<polygon points="1020.52,660.91 1026.68,671.63 1014.36,671.63" fill="#5b48a2"/>
<polygon points="1018.85,669.23 1025.01,679.94 1012.69,679.94" fill="#5b48a2"/>
<polygon points="1018.3,672.83 1024.46,683.55 1012.14,683.55" fill="#5b48a2"/>
<polygon points="1072.89,524.31 1079.05,535.02 1066.73,535.02" fill="#5b48a2"/>
<polygon points="1070.95,527.08 1077.11,537.79 1064.79,537.79" fill="#5b48a2"/>
<polygon points="1071.78,536.77 1077.94,547.49 1065.62,547.49" fill="#5b48a2"/>
<polygon points="1072.89,548.69 1079.05,559.41 1066.73,559.41" fill="#5b48a2"/>
<polygon points="1070.95,552.01 1077.11,562.73 1064.79,562.73" fill="#5b48a2"/>
<polygon points="1072.33,554.23 1078.49,564.95 1066.17,564.95" fill="#5b48a2"/>
<polygon points="1070.39,556.45 1076.55,567.17 1064.23,567.17" fill="#5b48a2"/>
<polygon points="1072.89,570.3 1079.05,581.02 1066.73,581.02" fill="#5b48a2"/>
<polygon points="1070.95,599.12 1077.11,609.84 1064.79,609.84" fill="#5b48a2"/>
<path d="M907.46 516.45 L907.46 510.91 L964.82 510.91 L964.82 516.45" fill="none" stroke="#000" stroke-width="3.6" stroke-linejoin="miter"/>
<text x="937.39" y="514.32" font-size="29.5" fill="#000" text-anchor="middle" stroke="#000" stroke-width="0.5">***</text>
<path d="M1013.59 515.07 L1013.59 509.53 L1070.95 509.53 L1070.95 515.07" fill="none" stroke="#000" stroke-width="3.6" stroke-linejoin="miter"/>
<text x="1043.24" y="512.38" font-size="29.5" fill="#000" text-anchor="middle" stroke="#000" stroke-width="0.5">***</text>
<text x="1129.1" y="463.4" font-size="31.2" fill="#1a1a1a" font-weight="bold">f</text>
<linearGradient id="g1465" gradientUnits="userSpaceOnUse" x1="1181.51" y1="0" x2="1338.9" y2="0"><stop offset="0" stop-color="#555"/><stop offset="1" stop-color="#fff"/></linearGradient>
<rect x="1181.51" y="468.88" width="157.39" height="2.6" fill="url(#g1465)"/>
<text x="1340.29" y="476.55" font-size="26.4" fill="#333">Post + Naloxone</text>
<path d="M1215.6 504.26 L1215.6 797.98 L1340.84 797.98" fill="none" stroke="#000" stroke-width="3.3" stroke-linejoin="miter"/>
<line x1="1209.3" y1="546.38" x2="1215.6" y2="546.38" stroke="#2a2a2a" stroke-width="3.3"/>
<text x="1202.8" y="552.98" font-size="18.5" fill="#4d4d4d" text-anchor="end">60</text>
<line x1="1209.3" y1="630.06" x2="1215.6" y2="630.06" stroke="#2a2a2a" stroke-width="3.3"/>
<text x="1202.8" y="636.66" font-size="18.5" fill="#4d4d4d" text-anchor="end">40</text>
<line x1="1209.3" y1="713.47" x2="1215.6" y2="713.47" stroke="#2a2a2a" stroke-width="3.3"/>
<text x="1202.8" y="720.07" font-size="18.5" fill="#4d4d4d" text-anchor="end">20</text>
<line x1="1209.3" y1="797.15" x2="1215.6" y2="797.15" stroke="#2a2a2a" stroke-width="3.3"/>
<text x="1202.8" y="803.75" font-size="18.5" fill="#4d4d4d" text-anchor="end">0</text>
<line x1="1249.68" y1="797.98" x2="1249.68" y2="803.78" stroke="#1a1a1a" stroke-width="3.3"/>
<text x="1250.79" y="826.8" font-size="19.2" fill="#4d4d4d" text-anchor="middle">Saline</text>
<line x1="1307.04" y1="797.98" x2="1307.04" y2="803.78" stroke="#1a1a1a" stroke-width="3.3"/>
<text x="1311.19" y="826.8" font-size="19.2" fill="#4d4d4d" text-anchor="middle">Nalox.</text>
<text x="1172.09" y="651.12" font-size="26.5" fill="#000" text-anchor="middle" transform="rotate(-90 1172.09 651.12)">Latency of 1st licking (s)</text>
<line x1="1249.96" y1="542.22" x2="1249.96" y2="624.8" stroke="#333" stroke-width="3.2"/>
<line x1="1249.96" y1="689.08" x2="1249.96" y2="732.03" stroke="#333" stroke-width="3.2"/>
<rect x="1228.07" y="624.8" width="43.78" height="64.29" fill="#fff" stroke="#333" stroke-width="3.2" stroke-linejoin="round"/>
<line x1="1228.07" y1="653.06" x2="1271.85" y2="653.06" stroke="#333" stroke-width="6"/>
<line x1="1307.32" y1="662.76" x2="1307.32" y2="687.7" stroke="#333" stroke-width="3.2"/>
<line x1="1307.32" y1="735.63" x2="1307.32" y2="743.12" stroke="#333" stroke-width="3.2"/>
<rect x="1285.42" y="687.7" width="43.78" height="47.94" fill="#fff" stroke="#333" stroke-width="3.2" stroke-linejoin="round"/>
<line x1="1285.42" y1="706.26" x2="1329.21" y2="706.26" stroke="#333" stroke-width="6"/>
<polygon points="1244.14,536.9 1248.91,541.67 1244.14,546.44 1239.37,541.67" fill="#cd555a"/>
<polygon points="1257.72,597.03 1262.49,601.8 1257.72,606.57 1252.95,601.8" fill="#cd555a"/>
<polygon points="1239.15,616.98 1243.92,621.75 1239.15,626.52 1234.38,621.75" fill="#cd555a"/>
<polygon points="1252.17,629.73 1256.94,634.5 1252.17,639.27 1247.4,634.5" fill="#cd555a"/>
<polygon points="1250.79,638.04 1255.56,642.81 1250.79,647.58 1246.02,642.81" fill="#cd555a"/>
<polygon points="1248.02,658.82 1252.79,663.59 1248.02,668.36 1243.25,663.59" fill="#cd555a"/>
<polygon points="1256.61,667.96 1261.38,672.73 1256.61,677.5 1251.84,672.73" fill="#cd555a"/>
<polygon points="1248.02,689.85 1252.79,694.62 1248.02,699.39 1243.25,694.62" fill="#cd555a"/>
<polygon points="1254.39,690.69 1259.16,695.46 1254.39,700.23 1249.62,695.46" fill="#cd555a"/>
<polygon points="1248.29,727.26 1253.06,732.03 1248.29,736.8 1243.52,732.03" fill="#cd555a"/>
<polygon points="1312.03,655.37 1318.19,666.09 1305.87,666.09" fill="#5b48a2"/>
<polygon points="1314.8,666.45 1320.96,677.17 1308.64,677.17" fill="#5b48a2"/>
<polygon points="1306.48,678.37 1312.64,689.09 1300.32,689.09" fill="#5b48a2"/>
<polygon points="1306.21,690.01 1312.37,700.73 1300.05,700.73" fill="#5b48a2"/>
<polygon points="1309.25,696.93 1315.41,707.65 1303.09,707.65" fill="#5b48a2"/>
<polygon points="1296.51,703.31 1302.67,714.03 1290.35,714.03" fill="#5b48a2"/>
<polygon points="1311.19,716.33 1317.35,727.05 1305.03,727.05" fill="#5b48a2"/>
<polygon points="1309.81,731.57 1315.97,742.29 1303.65,742.29" fill="#5b48a2"/>
<polygon points="1313.97,733.79 1320.13,744.51 1307.81,744.51" fill="#5b48a2"/>
<polygon points="1311.19,736.56 1317.35,747.28 1305.03,747.28" fill="#5b48a2"/>
<path d="M1249.68 535.57 L1249.68 531.14 L1307.59 531.14 L1307.59 535.57" fill="none" stroke="#000" stroke-width="3.6" stroke-linejoin="miter"/>
<text x="1277.94" y="534.27" font-size="29.5" fill="#000" text-anchor="middle" stroke="#000" stroke-width="0.5">**</text>
<path d="M1428.96 504.26 L1428.96 797.98 L1555.04 797.98" fill="none" stroke="#000" stroke-width="3.3" stroke-linejoin="miter"/>
<line x1="1422.66" y1="578.8" x2="1428.96" y2="578.8" stroke="#2a2a2a" stroke-width="3.3"/>
<text x="1416.16" y="585.4" font-size="18.5" fill="#4d4d4d" text-anchor="end">90</text>
<line x1="1422.66" y1="657.22" x2="1428.96" y2="657.22" stroke="#2a2a2a" stroke-width="3.3"/>
<text x="1416.16" y="663.82" font-size="18.5" fill="#4d4d4d" text-anchor="end">60</text>
<line x1="1422.66" y1="736.19" x2="1428.96" y2="736.19" stroke="#2a2a2a" stroke-width="3.3"/>
<text x="1416.16" y="742.79" font-size="18.5" fill="#4d4d4d" text-anchor="end">30</text>
<line x1="1463.6" y1="797.98" x2="1463.6" y2="803.78" stroke="#1a1a1a" stroke-width="3.3"/>
<text x="1469.14" y="826.8" font-size="19.2" fill="#4d4d4d" text-anchor="middle">Saline</text>
<line x1="1520.4" y1="797.98" x2="1520.4" y2="803.78" stroke="#1a1a1a" stroke-width="3.3"/>
<text x="1528.71" y="826.8" font-size="19.2" fill="#4d4d4d" text-anchor="middle">Nalox.</text>
<text x="1388.23" y="654.45" font-size="26.5" fill="#000" text-anchor="middle" transform="rotate(-90 1388.23 654.45)">Latency of 1st rearing (s)</text>
<line x1="1463.87" y1="518.12" x2="1463.87" y2="617.87" stroke="#333" stroke-width="3.2"/>
<line x1="1463.87" y1="704.32" x2="1463.87" y2="760.3" stroke="#333" stroke-width="3.2"/>
<rect x="1441.98" y="617.87" width="43.78" height="86.45" fill="#fff" stroke="#333" stroke-width="3.2" stroke-linejoin="round"/>
<line x1="1441.98" y1="677.44" x2="1485.76" y2="677.44" stroke="#333" stroke-width="6"/>
<line x1="1520.68" y1="643.36" x2="1520.68" y2="679.38" stroke="#333" stroke-width="3.2"/>
<line x1="1520.68" y1="752.26" x2="1520.68" y2="784.13" stroke="#333" stroke-width="3.2"/>
<rect x="1498.79" y="679.38" width="43.78" height="72.88" fill="#fff" stroke="#333" stroke-width="3.2" stroke-linejoin="round"/>
<line x1="1498.79" y1="692.68" x2="1542.57" y2="692.68" stroke="#333" stroke-width="6"/>
<polygon points="1456.67,513.35 1461.44,518.12 1456.67,522.89 1451.9,518.12" fill="#cd555a"/>
<polygon points="1452.51,588.72 1457.28,593.49 1452.51,598.26 1447.74,593.49" fill="#cd555a"/>
<polygon points="1452.51,612.27 1457.28,617.04 1452.51,621.81 1447.74,617.04" fill="#cd555a"/>
<polygon points="1469.97,618.36 1474.74,623.13 1469.97,627.9 1465.2,623.13" fill="#cd555a"/>
<polygon points="1462.76,667.13 1467.53,671.9 1462.76,676.67 1457.99,671.9" fill="#cd555a"/>
<polygon points="1457.5,678.22 1462.27,682.99 1457.5,687.76 1452.73,682.99" fill="#cd555a"/>
<polygon points="1458.89,699 1463.66,703.77 1458.89,708.54 1454.12,703.77" fill="#cd555a"/>
<polygon points="1468.31,699.55 1473.08,704.32 1468.31,709.09 1463.54,704.32" fill="#cd555a"/>
<polygon points="1456.67,710.64 1461.44,715.41 1456.67,720.18 1451.9,715.41" fill="#cd555a"/>
<polygon points="1464.98,755.53 1469.75,760.3 1464.98,765.07 1460.21,760.3" fill="#cd555a"/>
<polygon points="1520.4,637.36 1526.56,648.08 1514.24,648.08" fill="#5b48a2"/>
<polygon points="1529.54,660.08 1535.7,670.8 1523.38,670.8" fill="#5b48a2"/>
<polygon points="1522.34,670.61 1528.5,681.33 1516.18,681.33" fill="#5b48a2"/>
<polygon points="1517.08,681.14 1523.24,691.86 1510.92,691.86" fill="#5b48a2"/>
<polygon points="1527.33,692.22 1533.49,702.94 1521.17,702.94" fill="#5b48a2"/>
<polygon points="1527.88,742.66 1534.04,753.37 1521.72,753.37" fill="#5b48a2"/>
<polygon points="1519.01,746.26 1525.17,756.98 1512.85,756.98" fill="#5b48a2"/>
<polygon points="1519.85,758.73 1526.01,769.45 1513.69,769.45" fill="#5b48a2"/>
<polygon points="1530.65,777.85 1536.81,788.56 1524.49,788.56" fill="#5b48a2"/>
<path d="M1468.58 514.24 L1468.58 508.97 L1509.87 508.97 L1509.87 514.24" fill="none" stroke="#000" stroke-width="3.6" stroke-linejoin="miter"/>
<text x="1497.4" y="502.6" font-size="21.5" fill="#333" text-anchor="middle"><tspan font-style="italic">P</tspan> = 0.07</text>
<linearGradient id="g1553" gradientUnits="userSpaceOnUse" x1="1586.07" y1="0" x2="1747.34" y2="0"><stop offset="0" stop-color="#fff"/><stop offset="1" stop-color="#555"/></linearGradient>
<rect x="1586.07" y="468.88" width="161.27" height="2.6" fill="url(#g1553)"/>
<path d="M1657.28 508.97 L1657.28 800.75 L1771.72 800.75" fill="none" stroke="#000" stroke-width="3.3" stroke-linejoin="miter"/>
<line x1="1650.98" y1="511.74" x2="1657.28" y2="511.74" stroke="#2a2a2a" stroke-width="3.3"/>
<text x="1644.48" y="518.34" font-size="18.5" fill="#4d4d4d" text-anchor="end">200</text>
<line x1="1650.98" y1="605.95" x2="1657.28" y2="605.95" stroke="#2a2a2a" stroke-width="3.3"/>
<text x="1644.48" y="612.55" font-size="18.5" fill="#4d4d4d" text-anchor="end">150</text>
<line x1="1650.98" y1="700.72" x2="1657.28" y2="700.72" stroke="#2a2a2a" stroke-width="3.3"/>
<text x="1644.48" y="707.32" font-size="18.5" fill="#4d4d4d" text-anchor="end">100</text>
<line x1="1650.98" y1="795.76" x2="1657.28" y2="795.76" stroke="#2a2a2a" stroke-width="3.3"/>
<text x="1644.48" y="802.36" font-size="18.5" fill="#4d4d4d" text-anchor="end">50</text>
<line x1="1688.04" y1="800.75" x2="1688.04" y2="806.55" stroke="#1a1a1a" stroke-width="3.3"/>
<text x="1681.11" y="826.8" font-size="19.2" fill="#4d4d4d" text-anchor="middle">Saline</text>
<line x1="1740.41" y1="800.75" x2="1740.41" y2="806.55" stroke="#1a1a1a" stroke-width="3.3"/>
<text x="1741.24" y="826.8" font-size="19.2" fill="#4d4d4d" text-anchor="middle">Nalox.</text>
<text x="1604.91" y="654.45" font-size="26.5" fill="#000" text-anchor="middle" transform="rotate(-90 1604.91 654.45)">Latency of 1st jumping (s)</text>
<line x1="1688.18" y1="546.38" x2="1688.18" y2="551.92" stroke="#333" stroke-width="3.2"/>
<line x1="1688.18" y1="638.65" x2="1688.18" y2="714.02" stroke="#333" stroke-width="3.2"/>
<rect x="1668.37" y="551.92" width="39.62" height="86.73" fill="#fff" stroke="#333" stroke-width="3.2" stroke-linejoin="round"/>
<line x1="1668.37" y1="577.69" x2="1707.99" y2="577.69" stroke="#333" stroke-width="6"/>
<line x1="1740.55" y1="586.56" x2="1740.55" y2="647.52" stroke="#333" stroke-width="3.2"/>
<line x1="1740.55" y1="759.19" x2="1740.55" y2="790.22" stroke="#333" stroke-width="3.2"/>
<rect x="1720.46" y="647.52" width="40.18" height="111.67" fill="#fff" stroke="#333" stroke-width="3.2" stroke-linejoin="round"/>
<line x1="1720.46" y1="694.62" x2="1760.64" y2="694.62" stroke="#333" stroke-width="6"/>
<polygon points="1688.6,538.28 1693.37,543.05 1688.6,547.82 1683.83,543.05" fill="#cd555a"/>
<polygon points="1681.11,546.6 1685.88,551.37 1681.11,556.14 1676.34,551.37" fill="#cd555a"/>
<polygon points="1690.81,549.92 1695.58,554.69 1690.81,559.46 1686.04,554.69" fill="#cd555a"/>
<polygon points="1696.35,561.84 1701.12,566.61 1696.35,571.38 1691.58,566.61" fill="#cd555a"/>
<polygon points="1687.76,583.17 1692.53,587.94 1687.76,592.71 1682.99,587.94" fill="#cd555a"/>
<polygon points="1692.2,624.74 1696.97,629.51 1692.2,634.28 1687.43,629.51" fill="#cd555a"/>
<polygon points="1680.84,637.21 1685.61,641.98 1680.84,646.75 1676.07,641.98" fill="#cd555a"/>
<polygon points="1689.43,703.71 1694.2,708.48 1689.43,713.25 1684.66,708.48" fill="#cd555a"/>
<polygon points="1679.45,709.25 1684.22,714.02 1679.45,718.79 1674.68,714.02" fill="#cd555a"/>
<polygon points="1750.11,578.34 1756.27,589.06 1743.95,589.06" fill="#5b48a2"/>
<polygon points="1730.99,633.76 1737.15,644.48 1724.83,644.48" fill="#5b48a2"/>
<polygon points="1732.93,660.08 1739.09,670.8 1726.77,670.8" fill="#5b48a2"/>
<polygon points="1744.85,660.91 1751.01,671.63 1738.69,671.63" fill="#5b48a2"/>
<polygon points="1748.73,713.56 1754.89,724.28 1742.57,724.28" fill="#5b48a2"/>
<polygon points="1732.1,746.26 1738.26,756.98 1725.94,756.98" fill="#5b48a2"/>
<polygon points="1741.8,753.18 1747.96,763.9 1735.64,763.9" fill="#5b48a2"/>
<polygon points="1730.16,769.81 1736.32,780.53 1724,780.53" fill="#5b48a2"/>
<polygon points="1741.24,781.45 1747.4,792.17 1735.08,792.17" fill="#5b48a2"/>
<path d="M1688.04 530.31 L1688.04 520.89 L1740.41 520.89 L1740.41 530.31" fill="none" stroke="#000" stroke-width="3.6" stroke-linejoin="miter"/>
<text x="1714.37" y="524.57" font-size="29.5" fill="#000" text-anchor="middle" stroke="#000" stroke-width="0.5">**</text>
<text x="483.73" y="871.73" font-size="31.2" fill="#1a1a1a" font-weight="bold">h</text>
<path d="M595.17 921.74 L595.17 1211.31 L811.31 1211.31" fill="none" stroke="#000" stroke-width="3.3" stroke-linejoin="miter"/>
<line x1="588.87" y1="934.21" x2="595.17" y2="934.21" stroke="#2a2a2a" stroke-width="3.3"/>
<text x="582.37" y="940.81" font-size="18.5" fill="#4d4d4d" text-anchor="end">150</text>
<line x1="588.87" y1="1022.33" x2="595.17" y2="1022.33" stroke="#2a2a2a" stroke-width="3.3"/>
<text x="582.37" y="1028.93" font-size="18.5" fill="#4d4d4d" text-anchor="end">100</text>
<line x1="588.87" y1="1110.72" x2="595.17" y2="1110.72" stroke="#2a2a2a" stroke-width="3.3"/>
<text x="582.37" y="1117.32" font-size="18.5" fill="#4d4d4d" text-anchor="end">50</text>
<line x1="588.87" y1="1198.84" x2="595.17" y2="1198.84" stroke="#2a2a2a" stroke-width="3.3"/>
<text x="582.37" y="1205.44" font-size="18.5" fill="#4d4d4d" text-anchor="end">0</text>
<line x1="625.1" y1="1211.31" x2="625.1" y2="1217.11" stroke="#1a1a1a" stroke-width="3.3"/>
<text x="623.44" y="1238.18" font-size="19.2" fill="#4d4d4d" text-anchor="middle">Pre</text>
<line x1="676.92" y1="1211.31" x2="676.92" y2="1217.11" stroke="#1a1a1a" stroke-width="3.3"/>
<text x="676.36" y="1238.18" font-size="19.2" fill="#4d4d4d" text-anchor="middle">Post</text>
<line x1="728.73" y1="1211.31" x2="728.73" y2="1217.11" stroke="#1a1a1a" stroke-width="3.3"/>
<text x="726.79" y="1238.18" font-size="19.2" fill="#4d4d4d" text-anchor="middle">Pre</text>
<line x1="780.27" y1="1211.31" x2="780.27" y2="1217.11" stroke="#1a1a1a" stroke-width="3.3"/>
<text x="778.33" y="1238.18" font-size="19.2" fill="#4d4d4d" text-anchor="middle">Post</text>
<text x="543.36" y="1065.83" font-size="26.5" fill="#000" text-anchor="middle" transform="rotate(-90 543.36 1065.83)">Latency of crossing back (s)</text>
<line x1="625.51" y1="1146.19" x2="625.51" y2="1168.36" stroke="#333" stroke-width="3.2"/>
<line x1="625.51" y1="1184.98" x2="625.51" y2="1186.37" stroke="#333" stroke-width="3.2"/>
<rect x="605.42" y="1168.36" width="40.18" height="16.63" fill="#fff" stroke="#333" stroke-width="3.2" stroke-linejoin="round"/>
<line x1="605.42" y1="1176.11" x2="645.6" y2="1176.11" stroke="#333" stroke-width="6"/>
<line x1="677.33" y1="1106.01" x2="677.33" y2="1113.77" stroke="#333" stroke-width="3.2"/>
<line x1="677.33" y1="1157.83" x2="677.33" y2="1184.98" stroke="#333" stroke-width="3.2"/>
<rect x="657.52" y="1113.77" width="39.62" height="44.06" fill="#fff" stroke="#333" stroke-width="3.2" stroke-linejoin="round"/>
<line x1="657.52" y1="1126.79" x2="697.14" y2="1126.79" stroke="#333" stroke-width="6"/>
<line x1="728.87" y1="1139.26" x2="728.87" y2="1158.1" stroke="#333" stroke-width="3.2"/>
<line x1="728.87" y1="1177.5" x2="728.87" y2="1184.98" stroke="#333" stroke-width="3.2"/>
<rect x="708.78" y="1158.1" width="40.18" height="19.4" fill="#fff" stroke="#333" stroke-width="3.2" stroke-linejoin="round"/>
<line x1="708.78" y1="1165.03" x2="748.96" y2="1165.03" stroke="#333" stroke-width="6"/>
<line x1="780.41" y1="988.25" x2="780.41" y2="1012.35" stroke="#333" stroke-width="3.2"/>
<line x1="780.41" y1="1119.86" x2="780.41" y2="1153.12" stroke="#333" stroke-width="3.2"/>
<rect x="760.6" y="1012.35" width="39.62" height="107.51" fill="#fff" stroke="#333" stroke-width="3.2" stroke-linejoin="round"/>
<line x1="760.6" y1="1082.46" x2="800.22" y2="1082.46" stroke="#333" stroke-width="6"/>
<g stroke="#e2e2e2" stroke-width="3.4" stroke-linecap="round">
<line x1="625.1" y1="1146.19" x2="676.92" y2="969.4"/>
<line x1="625.1" y1="1157.27" x2="676.92" y2="1103.79"/>
<line x1="625.1" y1="1167.52" x2="676.92" y2="1114.32"/>
<line x1="625.1" y1="1173.9" x2="676.92" y2="1125.41"/>
<line x1="625.1" y1="1179.44" x2="676.92" y2="1155.89"/>
<line x1="625.1" y1="1183.6" x2="676.92" y2="1184.98"/>
<line x1="625.1" y1="1185.81" x2="676.92" y2="1126.79"/>
</g>
<g stroke="#e2e2e2" stroke-width="3.4" stroke-linecap="round">
<line x1="728.73" y1="1139.26" x2="780.27" y2="1153.12"/>
<line x1="728.73" y1="1155.33" x2="780.27" y2="987.69"/>
<line x1="728.73" y1="1156.72" x2="780.27" y2="992.96"/>
<line x1="728.73" y1="1161.43" x2="780.27" y2="999.33"/>
<line x1="728.73" y1="1165.58" x2="780.27" y2="1052.81"/>
<line x1="728.73" y1="1168.36" x2="780.27" y2="1074.14"/>
<line x1="728.73" y1="1172.51" x2="780.27" y2="1090.22"/>
<line x1="728.73" y1="1179.44" x2="780.27" y2="1108.23"/>
<line x1="728.73" y1="1184.43" x2="780.27" y2="1123.19"/>
<line x1="728.73" y1="1180.83" x2="780.27" y2="1134.55"/>
</g>
<polygon points="625.65,1140.19 631.81,1150.9 619.49,1150.9" fill="#e1852b"/>
<polygon points="620.67,1151.27 626.83,1161.99 614.51,1161.99" fill="#e1852b"/>
<polygon points="626.21,1161.52 632.37,1172.24 620.05,1172.24" fill="#e1852b"/>
<polygon points="621.5,1167.9 627.66,1178.61 615.34,1178.61" fill="#e1852b"/>
<polygon points="625.65,1173.44 631.81,1184.16 619.49,1184.16" fill="#e1852b"/>
<polygon points="622.88,1177.59 629.04,1188.31 616.72,1188.31" fill="#e1852b"/>
<polygon points="629.81,1179.81 635.97,1190.53 623.65,1190.53" fill="#e1852b"/>
<polygon points="674.14,963.4 680.3,974.12 667.98,974.12" fill="#e1852b"/>
<polygon points="682.46,1097.79 688.62,1108.51 676.3,1108.51" fill="#e1852b"/>
<polygon points="676.36,1108.32 682.52,1119.04 670.2,1119.04" fill="#e1852b"/>
<polygon points="674.98,1119.4 681.14,1130.12 668.82,1130.12" fill="#e1852b"/>
<polygon points="680.52,1149.88 686.68,1160.6 674.36,1160.6" fill="#e1852b"/>
<polygon points="681.07,1178.98 687.23,1189.7 674.91,1189.7" fill="#e1852b"/>
<polygon points="727.35,1134.7 731.9,1139.26 727.35,1143.82 722.79,1139.26" fill="#4ba3cf"/>
<polygon points="726.79,1150.77 731.35,1155.33 726.79,1159.89 722.23,1155.33" fill="#4ba3cf"/>
<polygon points="730.95,1152.16 735.51,1156.72 730.95,1161.28 726.39,1156.72" fill="#4ba3cf"/>
<polygon points="726.79,1161.03 731.35,1165.58 726.79,1170.14 722.23,1165.58" fill="#4ba3cf"/>
<polygon points="729.56,1163.8 734.12,1168.36 729.56,1172.91 725,1168.36" fill="#4ba3cf"/>
<polygon points="726.79,1174.88 731.35,1179.44 726.79,1184 722.23,1179.44" fill="#4ba3cf"/>
<polygon points="730.12,1179.87 734.67,1184.43 730.12,1188.99 725.56,1184.43" fill="#4ba3cf"/>
<polygon points="779.44,983.13 784,987.69 779.44,992.25 774.88,987.69" fill="#4ba3cf"/>
<polygon points="783.6,988.4 788.15,992.96 783.6,997.51 779.04,992.96" fill="#4ba3cf"/>
<polygon points="778.05,994.77 782.61,999.33 778.05,1003.89 773.5,999.33" fill="#4ba3cf"/>
<polygon points="778.89,1048.25 783.44,1052.81 778.89,1057.37 774.33,1052.81" fill="#4ba3cf"/>
<polygon points="778.05,1069.59 782.61,1074.14 778.05,1078.7 773.5,1074.14" fill="#4ba3cf"/>
<polygon points="777.22,1085.66 781.78,1090.22 777.22,1094.77 772.66,1090.22" fill="#4ba3cf"/>
<polygon points="781.38,1103.67 785.94,1108.23 781.38,1112.78 776.82,1108.23" fill="#4ba3cf"/>
<polygon points="782.21,1118.63 786.77,1123.19 782.21,1127.75 777.65,1123.19" fill="#4ba3cf"/>
<polygon points="782.76,1129.99 787.32,1134.55 782.76,1139.11 778.21,1134.55" fill="#4ba3cf"/>
<polygon points="782.21,1148.56 786.77,1153.12 782.21,1157.67 777.65,1153.12" fill="#4ba3cf"/>
<path d="M676.36 945.57 L676.36 939.75 L780.27 939.75 L780.27 945.57" fill="none" stroke="#000" stroke-width="3.6" stroke-linejoin="miter"/>
<text x="728.73" y="931.44" font-size="21.8" fill="#000" text-anchor="middle"><tspan font-style="italic">P</tspan> = 0.07</text>
<path d="M906.08 920.36 L906.08 1211.31 L1123.6 1211.31" fill="none" stroke="#000" stroke-width="3.3" stroke-linejoin="miter"/>
<line x1="899.78" y1="920.91" x2="906.08" y2="920.91" stroke="#2a2a2a" stroke-width="3.3"/>
<text x="893.28" y="927.51" font-size="18.5" fill="#4d4d4d" text-anchor="end">100</text>
<line x1="899.78" y1="993.23" x2="906.08" y2="993.23" stroke="#2a2a2a" stroke-width="3.3"/>
<text x="893.28" y="999.83" font-size="18.5" fill="#4d4d4d" text-anchor="end">75</text>
<line x1="899.78" y1="1065.83" x2="906.08" y2="1065.83" stroke="#2a2a2a" stroke-width="3.3"/>
<text x="893.28" y="1072.43" font-size="18.5" fill="#4d4d4d" text-anchor="end">50</text>
<line x1="899.78" y1="1138.71" x2="906.08" y2="1138.71" stroke="#2a2a2a" stroke-width="3.3"/>
<text x="893.28" y="1145.31" font-size="18.5" fill="#4d4d4d" text-anchor="end">25</text>
<line x1="899.78" y1="1211.31" x2="906.08" y2="1211.31" stroke="#2a2a2a" stroke-width="3.3"/>
<text x="893.28" y="1217.91" font-size="18.5" fill="#4d4d4d" text-anchor="end">0</text>
<line x1="937.11" y1="1211.31" x2="937.11" y2="1217.11" stroke="#1a1a1a" stroke-width="3.3"/>
<text x="937.67" y="1238.18" font-size="19.2" fill="#4d4d4d" text-anchor="middle">Pre</text>
<line x1="988.37" y1="1211.31" x2="988.37" y2="1217.11" stroke="#1a1a1a" stroke-width="3.3"/>
<text x="988.37" y="1238.18" font-size="19.2" fill="#4d4d4d" text-anchor="middle">Post</text>
<line x1="1039.91" y1="1211.31" x2="1039.91" y2="1217.11" stroke="#1a1a1a" stroke-width="3.3"/>
<text x="1038.81" y="1238.18" font-size="19.2" fill="#4d4d4d" text-anchor="middle">Pre</text>
<line x1="1091.18" y1="1211.31" x2="1091.18" y2="1217.11" stroke="#1a1a1a" stroke-width="3.3"/>
<text x="1090.34" y="1238.18" font-size="19.2" fill="#4d4d4d" text-anchor="middle">Post</text>
<text x="843.18" y="1065.83" font-size="26.5" fill="#000" text-anchor="middle" transform="rotate(-90 843.18 1065.83)">Time spent in chamber 2 (%)</text>
<line x1="936.7" y1="978.55" x2="936.7" y2="1014.01" stroke="#333" stroke-width="3.2"/>
<line x1="936.7" y1="1074.14" x2="936.7" y2="1125.41" stroke="#333" stroke-width="3.2"/>
<rect x="916.61" y="1014.01" width="40.18" height="60.13" fill="#fff" stroke="#333" stroke-width="3.2" stroke-linejoin="round"/>
<line x1="916.61" y1="1050.59" x2="956.79" y2="1050.59" stroke="#333" stroke-width="6"/>
<line x1="988.51" y1="961.92" x2="988.51" y2="986.86" stroke="#333" stroke-width="3.2"/>
<line x1="988.51" y1="1015.4" x2="988.51" y2="1040.89" stroke="#333" stroke-width="3.2"/>
<rect x="968.42" y="986.86" width="40.18" height="28.54" fill="#fff" stroke="#333" stroke-width="3.2" stroke-linejoin="round"/>
<line x1="968.42" y1="1003.49" x2="1008.6" y2="1003.49" stroke="#333" stroke-width="6"/>
<line x1="1040.05" y1="989.63" x2="1040.05" y2="1015.95" stroke="#333" stroke-width="3.2"/>
<line x1="1040.05" y1="1087.17" x2="1040.05" y2="1114.32" stroke="#333" stroke-width="3.2"/>
<rect x="1020.24" y="1015.95" width="39.62" height="71.21" fill="#fff" stroke="#333" stroke-width="3.2" stroke-linejoin="round"/>
<line x1="1020.24" y1="1037.29" x2="1059.86" y2="1037.29" stroke="#333" stroke-width="6"/>
<line x1="1091.73" y1="950.84" x2="1091.73" y2="958.32" stroke="#333" stroke-width="3.2"/>
<line x1="1091.73" y1="984.09" x2="1091.73" y2="1004.04" stroke="#333" stroke-width="3.2"/>
<rect x="1071.78" y="958.32" width="39.9" height="25.77" fill="#fff" stroke="#333" stroke-width="3.2" stroke-linejoin="round"/>
<line x1="1071.78" y1="977.16" x2="1111.68" y2="977.16" stroke="#333" stroke-width="6"/>
<g stroke="#e2e2e2" stroke-width="3.4" stroke-linecap="round">
<line x1="936" y1="978.55" x2="988.37" y2="986.03"/>
<line x1="936" y1="989.63" x2="988.37" y2="1000.16"/>
<line x1="936" y1="1008.47" x2="988.37" y2="1004.32"/>
<line x1="936" y1="1026.21" x2="988.37" y2="1015.95"/>
<line x1="936" y1="1043.66" x2="988.37" y2="962.75"/>
<line x1="936" y1="1054.75" x2="988.37" y2="931.44"/>
<line x1="936" y1="1064.45" x2="988.37" y2="1013.18"/>
<line x1="936" y1="1074.98" x2="988.37" y2="1025.1"/>
<line x1="936" y1="1108.23" x2="988.37" y2="1004.32"/>
<line x1="936" y1="1123.47" x2="988.37" y2="1040.89"/>
</g>
<g stroke="#e2e2e2" stroke-width="3.4" stroke-linecap="round">
<line x1="1040.47" y1="989.63" x2="1091.18" y2="951.67"/>
<line x1="1040.47" y1="1015.12" x2="1091.18" y2="955.83"/>
<line x1="1040.47" y1="1020.94" x2="1091.18" y2="1004.04"/>
<line x1="1040.47" y1="1033.97" x2="1091.18" y2="964.14"/>
<line x1="1040.47" y1="1039.51" x2="1091.18" y2="976.33"/>
<line x1="1040.47" y1="1070.54" x2="1091.18" y2="979.93"/>
<line x1="1040.47" y1="1092.16" x2="1091.18" y2="983.26"/>
<line x1="1040.47" y1="1099.08" x2="1091.18" y2="984.92"/>
<line x1="1040.47" y1="1114.32" x2="1091.18" y2="978.55"/>
</g>
<polygon points="936,972.54 942.16,983.26 929.84,983.26" fill="#e1852b"/>
<polygon points="932.96,983.63 939.12,994.35 926.8,994.35" fill="#e1852b"/>
<polygon points="937.39,1002.47 943.55,1013.19 931.23,1013.19" fill="#e1852b"/>
<polygon points="940.16,1020.2 946.32,1030.92 934,1030.92" fill="#e1852b"/>
<polygon points="934.34,1037.66 940.5,1048.38 928.18,1048.38" fill="#e1852b"/>
<polygon points="935.17,1048.75 941.33,1059.46 929.01,1059.46" fill="#e1852b"/>
<polygon points="939.88,1058.44 946.04,1069.16 933.72,1069.16" fill="#e1852b"/>
<polygon points="933.23,1068.97 939.39,1079.69 927.07,1079.69" fill="#e1852b"/>
<polygon points="935.17,1102.22 941.33,1112.94 929.01,1112.94" fill="#e1852b"/>
<polygon points="937.11,1117.46 943.27,1128.18 930.95,1128.18" fill="#e1852b"/>
<polygon points="990.04,925.44 996.2,936.16 983.88,936.16" fill="#e1852b"/>
<polygon points="986.99,956.75 993.15,967.47 980.83,967.47" fill="#e1852b"/>
<polygon points="987.27,980.03 993.43,990.74 981.11,990.74" fill="#e1852b"/>
<polygon points="987.27,994.16 993.43,1004.88 981.11,1004.88" fill="#e1852b"/>
<polygon points="987.27,998.31 993.43,1009.03 981.11,1009.03" fill="#e1852b"/>
<polygon points="986.43,1007.18 992.59,1017.9 980.27,1017.9" fill="#e1852b"/>
<polygon points="989.21,1009.95 995.37,1020.67 983.05,1020.67" fill="#e1852b"/>
<polygon points="991.15,1019.1 997.31,1029.81 984.99,1029.81" fill="#e1852b"/>
<polygon points="991.98,1034.89 998.14,1045.61 985.82,1045.61" fill="#e1852b"/>
<polygon points="1041.85,985.07 1046.41,989.63 1041.85,994.19 1037.3,989.63" fill="#4ba3cf"/>
<polygon points="1041.02,1010.57 1045.58,1015.12 1041.02,1019.68 1036.46,1015.12" fill="#4ba3cf"/>
<polygon points="1040.47,1016.38 1045.03,1020.94 1040.47,1025.5 1035.91,1020.94" fill="#4ba3cf"/>
<polygon points="1038.25,1029.41 1042.81,1033.97 1038.25,1038.52 1033.69,1033.97" fill="#4ba3cf"/>
<polygon points="1041.3,1034.95 1045.86,1039.51 1041.3,1044.07 1036.74,1039.51" fill="#4ba3cf"/>
<polygon points="1038.53,1065.98 1043.09,1070.54 1038.53,1075.1 1033.97,1070.54" fill="#4ba3cf"/>
<polygon points="1037.14,1087.6 1041.7,1092.16 1037.14,1096.71 1032.58,1092.16" fill="#4ba3cf"/>
<polygon points="1037.14,1094.52 1041.7,1099.08 1037.14,1103.64 1032.58,1099.08" fill="#4ba3cf"/>
<polygon points="1038.25,1109.76 1042.81,1114.32 1038.25,1118.88 1033.69,1114.32" fill="#4ba3cf"/>
<polygon points="1092.56,947.11 1097.12,951.67 1092.56,956.23 1088,951.67" fill="#4ba3cf"/>
<polygon points="1091.18,951.27 1095.73,955.83 1091.18,960.38 1086.62,955.83" fill="#4ba3cf"/>
<polygon points="1091.18,959.58 1095.73,964.14 1091.18,968.7 1086.62,964.14" fill="#4ba3cf"/>
<polygon points="1093.12,971.77 1097.67,976.33 1093.12,980.89 1088.56,976.33" fill="#4ba3cf"/>
<polygon points="1091.73,975.37 1096.29,979.93 1091.73,984.49 1087.17,979.93" fill="#4ba3cf"/>
<polygon points="1092.56,978.7 1097.12,983.26 1092.56,987.82 1088,983.26" fill="#4ba3cf"/>
<polygon points="1089.51,980.36 1094.07,984.92 1089.51,989.48 1084.96,984.92" fill="#4ba3cf"/>
<polygon points="1091.18,999.48 1095.73,1004.04 1091.18,1008.6 1086.62,1004.04" fill="#4ba3cf"/>
<path d="M987.82 920.36 L987.82 914.26 L1091.18 914.26 L1091.18 920.36" fill="none" stroke="#000" stroke-width="3.6" stroke-linejoin="miter"/>
<text x="1039.64" y="918.22" font-size="29.5" fill="#000" text-anchor="middle" stroke="#000" stroke-width="0.5">*</text>
<text x="1129.93" y="871.73" font-size="31.2" fill="#1a1a1a" font-weight="bold">i</text>
<linearGradient id="g1783" gradientUnits="userSpaceOnUse" x1="1187.33" y1="0" x2="1351.37" y2="0"><stop offset="0" stop-color="#555"/><stop offset="1" stop-color="#fff"/></linearGradient>
<rect x="1187.33" y="890.52" width="164.04" height="2.6" fill="url(#g1783)"/>
<text x="1422.03" y="898.19" font-size="26.4" fill="#333">Post</text>
<path d="M1207.84 925.9 L1207.84 1216.29 L1341.67 1216.29" fill="none" stroke="#000" stroke-width="3.3" stroke-linejoin="miter"/>
<line x1="1201.54" y1="966.63" x2="1207.84" y2="966.63" stroke="#2a2a2a" stroke-width="3.3"/>
<text x="1195.04" y="973.23" font-size="18.5" fill="#4d4d4d" text-anchor="end">60</text>
<line x1="1201.54" y1="1049.76" x2="1207.84" y2="1049.76" stroke="#2a2a2a" stroke-width="3.3"/>
<text x="1195.04" y="1056.36" font-size="18.5" fill="#4d4d4d" text-anchor="end">40</text>
<line x1="1201.54" y1="1132.89" x2="1207.84" y2="1132.89" stroke="#2a2a2a" stroke-width="3.3"/>
<text x="1195.04" y="1139.49" font-size="18.5" fill="#4d4d4d" text-anchor="end">20</text>
<line x1="1201.54" y1="1216.02" x2="1207.84" y2="1216.02" stroke="#2a2a2a" stroke-width="3.3"/>
<text x="1195.04" y="1222.62" font-size="18.5" fill="#4d4d4d" text-anchor="end">0</text>
<line x1="1243.86" y1="1216.29" x2="1243.86" y2="1222.09" stroke="#1a1a1a" stroke-width="3.3"/>
<text x="1243.86" y="1243.17" font-size="19.2" fill="#4d4d4d" text-anchor="middle">Saline</text>
<line x1="1305.65" y1="1216.29" x2="1305.65" y2="1222.09" stroke="#1a1a1a" stroke-width="3.3"/>
<text x="1305.65" y="1243.17" font-size="19.2" fill="#4d4d4d" text-anchor="middle">Nalox</text>
<text x="1167.94" y="1070.54" font-size="26.5" fill="#000" text-anchor="middle" transform="rotate(-90 1167.94 1070.54)">Latency to 1st licking (s)</text>
<line x1="1244.28" y1="1046.43" x2="1244.28" y2="1083.01" stroke="#333" stroke-width="3.2"/>
<line x1="1244.28" y1="1151.73" x2="1244.28" y2="1171.13" stroke="#333" stroke-width="3.2"/>
<rect x="1221.14" y="1083.01" width="46.27" height="68.72" fill="#fff" stroke="#333" stroke-width="3.2" stroke-linejoin="round"/>
<line x1="1221.14" y1="1124.58" x2="1267.41" y2="1124.58" stroke="#333" stroke-width="6"/>
<line x1="1305.65" y1="951.67" x2="1305.65" y2="986.03" stroke="#333" stroke-width="3.2"/>
<line x1="1305.65" y1="1123.19" x2="1305.65" y2="1179.44" stroke="#333" stroke-width="3.2"/>
<rect x="1282.65" y="986.03" width="46" height="137.16" fill="#fff" stroke="#333" stroke-width="3.2" stroke-linejoin="round"/>
<line x1="1282.65" y1="1095.48" x2="1328.65" y2="1095.48" stroke="#333" stroke-width="6"/>
<polygon points="1243.31,1038.22 1249.47,1048.93 1237.15,1048.93" fill="#e1852b"/>
<polygon points="1241.92,1056.23 1248.08,1066.95 1235.76,1066.95" fill="#e1852b"/>
<polygon points="1248.02,1064.54 1254.18,1075.26 1241.86,1075.26" fill="#e1852b"/>
<polygon points="1248.85,1111.09 1255.01,1121.81 1242.69,1121.81" fill="#e1852b"/>
<polygon points="1241.92,1122.73 1248.08,1133.45 1235.76,1133.45" fill="#e1852b"/>
<polygon points="1240.54,1128.27 1246.7,1138.99 1234.38,1138.99" fill="#e1852b"/>
<polygon points="1240.54,1149.88 1246.7,1160.6 1234.38,1160.6" fill="#e1852b"/>
<polygon points="1246.08,1152.66 1252.24,1163.37 1239.92,1163.37" fill="#e1852b"/>
<polygon points="1249.4,1164.57 1255.56,1175.29 1243.24,1175.29" fill="#e1852b"/>
<polygon points="1310.36,946.9 1315.13,951.67 1310.36,956.44 1305.59,951.67" fill="#4ba3cf"/>
<polygon points="1304.27,968.79 1309.04,973.56 1304.27,978.33 1299.5,973.56" fill="#4ba3cf"/>
<polygon points="1303.44,972.39 1308.21,977.16 1303.44,981.93 1298.67,977.16" fill="#4ba3cf"/>
<polygon points="1310.64,1008.97 1315.41,1013.74 1310.64,1018.51 1305.87,1013.74" fill="#4ba3cf"/>
<polygon points="1300.94,1069.93 1305.71,1074.7 1300.94,1079.47 1296.17,1074.7" fill="#4ba3cf"/>
<polygon points="1308.42,1111.77 1313.19,1116.54 1308.42,1121.31 1303.65,1116.54" fill="#4ba3cf"/>
<polygon points="1303.44,1112.32 1308.21,1117.09 1303.44,1121.86 1298.67,1117.09" fill="#4ba3cf"/>
<polygon points="1304.27,1119.81 1309.04,1124.58 1304.27,1129.35 1299.5,1124.58" fill="#4ba3cf"/>
<polygon points="1307.87,1139.2 1312.64,1143.97 1307.87,1148.74 1303.1,1143.97" fill="#4ba3cf"/>
<polygon points="1307.04,1174.67 1311.81,1179.44 1307.04,1184.21 1302.27,1179.44" fill="#4ba3cf"/>
<path d="M1436.72 923.13 L1436.72 1216.29 L1560.58 1216.29" fill="none" stroke="#000" stroke-width="3.3" stroke-linejoin="miter"/>
<line x1="1430.42" y1="924.51" x2="1436.72" y2="924.51" stroke="#2a2a2a" stroke-width="3.3"/>
<text x="1423.92" y="931.11" font-size="18.5" fill="#4d4d4d" text-anchor="end">150</text>
<line x1="1430.42" y1="1022.05" x2="1436.72" y2="1022.05" stroke="#2a2a2a" stroke-width="3.3"/>
<text x="1423.92" y="1028.65" font-size="18.5" fill="#4d4d4d" text-anchor="end">100</text>
<line x1="1430.42" y1="1119.31" x2="1436.72" y2="1119.31" stroke="#2a2a2a" stroke-width="3.3"/>
<text x="1423.92" y="1125.91" font-size="18.5" fill="#4d4d4d" text-anchor="end">50</text>
<line x1="1430.42" y1="1216.02" x2="1436.72" y2="1216.02" stroke="#2a2a2a" stroke-width="3.3"/>
<text x="1423.92" y="1222.62" font-size="18.5" fill="#4d4d4d" text-anchor="end">0</text>
<line x1="1470.52" y1="1216.29" x2="1470.52" y2="1222.09" stroke="#1a1a1a" stroke-width="3.3"/>
<text x="1470.52" y="1243.17" font-size="19.2" fill="#4d4d4d" text-anchor="middle">Saline</text>
<line x1="1525.94" y1="1216.29" x2="1525.94" y2="1222.09" stroke="#1a1a1a" stroke-width="3.3"/>
<text x="1525.94" y="1243.17" font-size="19.2" fill="#4d4d4d" text-anchor="middle">Nalox</text>
<text x="1385.46" y="1070.54" font-size="26.5" fill="#000" text-anchor="middle" transform="rotate(-90 1385.46 1070.54)">Latency to 1st rearing (s)</text>
<line x1="1469.83" y1="1146.19" x2="1469.83" y2="1153.12" stroke="#333" stroke-width="3.2"/>
<line x1="1469.83" y1="1199.39" x2="1469.83" y2="1208.53" stroke="#333" stroke-width="3.2"/>
<rect x="1448.36" y="1153.12" width="42.95" height="46.27" fill="#fff" stroke="#333" stroke-width="3.2" stroke-linejoin="round"/>
<line x1="1448.36" y1="1167.52" x2="1491.31" y2="1167.52" stroke="#333" stroke-width="6"/>
<line x1="1526.63" y1="1025.1" x2="1526.63" y2="1073.59" stroke="#333" stroke-width="3.2"/>
<line x1="1526.63" y1="1130.12" x2="1526.63" y2="1186.37" stroke="#333" stroke-width="3.2"/>
<rect x="1505.16" y="1073.59" width="42.95" height="56.53" fill="#fff" stroke="#333" stroke-width="3.2" stroke-linejoin="round"/>
<line x1="1505.16" y1="1109.33" x2="1548.11" y2="1109.33" stroke="#333" stroke-width="6"/>
<polygon points="1471.08,1018.82 1477.24,1029.54 1464.92,1029.54" fill="#e1852b"/>
<polygon points="1466.37,1140.19 1472.53,1150.9 1460.21,1150.9" fill="#e1852b"/>
<polygon points="1463.6,1145.73 1469.76,1156.45 1457.44,1156.45" fill="#e1852b"/>
<polygon points="1471.91,1147.94 1478.07,1158.66 1465.75,1158.66" fill="#e1852b"/>
<polygon points="1472.74,1157.64 1478.9,1168.36 1466.58,1168.36" fill="#e1852b"/>
<polygon points="1475.23,1163.18 1481.39,1173.9 1469.07,1173.9" fill="#e1852b"/>
<polygon points="1470.52,1191.45 1476.68,1202.17 1464.36,1202.17" fill="#e1852b"/>
<polygon points="1475.51,1192 1481.67,1202.72 1469.35,1202.72" fill="#e1852b"/>
<polygon points="1464.43,1195.6 1470.59,1206.32 1458.27,1206.32" fill="#e1852b"/>
<polygon points="1472.74,1201.15 1478.9,1211.87 1466.58,1211.87" fill="#e1852b"/>
<polygon points="1524.56,1020.88 1529.33,1025.65 1524.56,1030.42 1519.79,1025.65" fill="#4ba3cf"/>
<polygon points="1520.95,1051.92 1525.72,1056.69 1520.95,1061.46 1516.18,1056.69" fill="#4ba3cf"/>
<polygon points="1525.11,1061.62 1529.88,1066.39 1525.11,1071.16 1520.34,1066.39" fill="#4ba3cf"/>
<polygon points="1526.5,1094.31 1531.27,1099.08 1526.5,1103.85 1521.73,1099.08" fill="#4ba3cf"/>
<polygon points="1523.73,1098.47 1528.5,1103.24 1523.73,1108.01 1518.96,1103.24" fill="#4ba3cf"/>
<polygon points="1530.1,1110.11 1534.87,1114.88 1530.1,1119.65 1525.33,1114.88" fill="#4ba3cf"/>
<polygon points="1527.33,1112.32 1532.1,1117.09 1527.33,1121.86 1522.56,1117.09" fill="#4ba3cf"/>
<polygon points="1521.79,1129.5 1526.56,1134.27 1521.79,1139.04 1517.02,1134.27" fill="#4ba3cf"/>
<polygon points="1527.33,1151.12 1532.1,1155.89 1527.33,1160.66 1522.56,1155.89" fill="#4ba3cf"/>
<polygon points="1525.39,1181.6 1530.16,1186.37 1525.39,1191.14 1520.62,1186.37" fill="#4ba3cf"/>
<path d="M1471.91 987.14 L1471.91 981.87 L1525.11 980.21 L1525.11 985.47" fill="none" stroke="#000" stroke-width="3.6" stroke-linejoin="miter"/>
<text x="1497.4" y="983.89" font-size="29.5" fill="#000" text-anchor="middle" stroke="#000" stroke-width="0.5">*</text>
<linearGradient id="g1871" gradientUnits="userSpaceOnUse" x1="1556.98" y1="0" x2="1753.16" y2="0"><stop offset="0" stop-color="#fff"/><stop offset="1" stop-color="#555"/></linearGradient>
<rect x="1556.98" y="890.52" width="196.18" height="2.6" fill="url(#g1871)"/>
<path d="M1653.96 925.9 L1653.96 1216.29 L1778.1 1216.29" fill="none" stroke="#000" stroke-width="3.3" stroke-linejoin="miter"/>
<line x1="1647.66" y1="938.37" x2="1653.96" y2="938.37" stroke="#2a2a2a" stroke-width="3.3"/>
<text x="1641.16" y="944.97" font-size="18.5" fill="#4d4d4d" text-anchor="end">200</text>
<line x1="1647.66" y1="1026.48" x2="1653.96" y2="1026.48" stroke="#2a2a2a" stroke-width="3.3"/>
<text x="1641.16" y="1033.08" font-size="18.5" fill="#4d4d4d" text-anchor="end">150</text>
<line x1="1647.66" y1="1114.32" x2="1653.96" y2="1114.32" stroke="#2a2a2a" stroke-width="3.3"/>
<text x="1641.16" y="1120.92" font-size="18.5" fill="#4d4d4d" text-anchor="end">100</text>
<line x1="1647.66" y1="1202.44" x2="1653.96" y2="1202.44" stroke="#2a2a2a" stroke-width="3.3"/>
<text x="1641.16" y="1209.04" font-size="18.5" fill="#4d4d4d" text-anchor="end">50</text>
<line x1="1688.04" y1="1216.29" x2="1688.04" y2="1222.09" stroke="#1a1a1a" stroke-width="3.3"/>
<text x="1688.04" y="1243.17" font-size="19.2" fill="#4d4d4d" text-anchor="middle">Saline</text>
<line x1="1744.01" y1="1216.29" x2="1744.01" y2="1222.09" stroke="#1a1a1a" stroke-width="3.3"/>
<text x="1744.01" y="1243.17" font-size="19.2" fill="#4d4d4d" text-anchor="middle">Nalox</text>
<text x="1603.53" y="1070.54" font-size="26.5" fill="#000" text-anchor="middle" transform="rotate(-90 1603.53 1070.54)">Latency to 1st jumping (s)</text>
<line x1="1688.46" y1="975.78" x2="1688.46" y2="1036.18" stroke="#333" stroke-width="3.2"/>
<line x1="1688.46" y1="1156.72" x2="1688.46" y2="1201.61" stroke="#333" stroke-width="3.2"/>
<rect x="1666.98" y="1036.18" width="42.95" height="120.54" fill="#fff" stroke="#333" stroke-width="3.2" stroke-linejoin="round"/>
<line x1="1666.98" y1="1081.07" x2="1709.93" y2="1081.07" stroke="#333" stroke-width="6"/>
<line x1="1744.71" y1="1062.51" x2="1744.71" y2="1092.16" stroke="#333" stroke-width="3.2"/>
<rect x="1723.23" y="975.78" width="42.95" height="86.73" fill="#fff" stroke="#333" stroke-width="3.2" stroke-linejoin="round"/>
<line x1="1723.23" y1="1051.42" x2="1766.18" y2="1051.42" stroke="#333" stroke-width="6"/>
<polygon points="1687.76,968.94 1693.92,979.66 1681.6,979.66" fill="#e1852b"/>
<polygon points="1693.31,1005.24 1699.47,1015.96 1687.15,1015.96" fill="#e1852b"/>
<polygon points="1683.05,1022.42 1689.21,1033.14 1676.89,1033.14" fill="#e1852b"/>
<polygon points="1689.43,1050.13 1695.59,1060.85 1683.27,1060.85" fill="#e1852b"/>
<polygon points="1692.75,1065.37 1698.91,1076.09 1686.59,1076.09" fill="#e1852b"/>
<polygon points="1689.98,1083.94 1696.14,1094.65 1683.82,1094.65" fill="#e1852b"/>
<polygon points="1690.54,1131.32 1696.7,1142.04 1684.38,1142.04" fill="#e1852b"/>
<polygon points="1689.43,1154.87 1695.59,1165.59 1683.27,1165.59" fill="#e1852b"/>
<polygon points="1692.2,1194.22 1698.36,1204.94 1686.04,1204.94" fill="#e1852b"/>
<polygon points="1694.14,1195.6 1700.3,1206.32 1687.98,1206.32" fill="#e1852b"/>
<polygon points="1739.86,971.01 1744.63,975.78 1739.86,980.55 1735.09,975.78" fill="#4ba3cf"/>
<polygon points="1745.4,971.01 1750.17,975.78 1745.4,980.55 1740.63,975.78" fill="#4ba3cf"/>
<polygon points="1744.01,1047.21 1748.78,1051.98 1744.01,1056.75 1739.24,1051.98" fill="#4ba3cf"/>
<polygon points="1749.56,1056.07 1754.33,1060.84 1749.56,1065.61 1744.79,1060.84" fill="#4ba3cf"/>
<polygon points="1748.73,1065.22 1753.5,1069.99 1748.73,1074.76 1743.96,1069.99" fill="#4ba3cf"/>
<polygon points="1742.63,1087.39 1747.4,1092.16 1742.63,1096.93 1737.86,1092.16" fill="#4ba3cf"/>
<path d="M1689.98 952.22 L1689.98 946.68 L1744.01 946.68 L1744.01 952.22" fill="none" stroke="#000" stroke-width="3.6" stroke-linejoin="miter"/>
<text x="1716.86" y="938.37" font-size="21.8" fill="#000" text-anchor="middle"><tspan font-style="italic">P</tspan> = 0.07</text>
<text x="486.51" y="1284.51" font-size="31.2" fill="#1a1a1a" font-weight="bold">k</text>
<linearGradient id="g1913" gradientUnits="userSpaceOnUse" x1="589.63" y1="0" x2="624.27" y2="0"><stop offset="0" stop-color="#555"/><stop offset="1" stop-color="#fff"/></linearGradient>
<rect x="589.63" y="1294.97" width="34.64" height="2.6" fill="url(#g1913)"/>
<text x="629.81" y="1303.2" font-size="26.4" fill="#333">Total (30 min)</text>
<linearGradient id="g1916" gradientUnits="userSpaceOnUse" x1="796.07" y1="0" x2="830.7" y2="0"><stop offset="0" stop-color="#fff"/><stop offset="1" stop-color="#555"/></linearGradient>
<rect x="796.07" y="1294.97" width="34.64" height="2.6" fill="url(#g1916)"/>
<path d="M579.93 1327.59 L579.93 1618.53 L671.37 1618.53" fill="none" stroke="#000" stroke-width="3.3" stroke-linejoin="miter"/>
<line x1="573.63" y1="1399.63" x2="579.93" y2="1399.63" stroke="#2a2a2a" stroke-width="3.3"/>
<text x="567.13" y="1406.23" font-size="18.5" fill="#4d4d4d" text-anchor="end">100</text>
<line x1="573.63" y1="1472.51" x2="579.93" y2="1472.51" stroke="#2a2a2a" stroke-width="3.3"/>
<text x="567.13" y="1479.11" font-size="18.5" fill="#4d4d4d" text-anchor="end">75</text>
<line x1="573.63" y1="1545.94" x2="579.93" y2="1545.94" stroke="#2a2a2a" stroke-width="3.3"/>
<text x="567.13" y="1552.54" font-size="18.5" fill="#4d4d4d" text-anchor="end">50</text>
<line x1="604.32" y1="1618.53" x2="604.32" y2="1624.33" stroke="#1a1a1a" stroke-width="3.3"/>
<text x="604.32" y="1645.41" font-size="19.2" fill="#4d4d4d" text-anchor="middle">Ctrl</text>
<line x1="645.88" y1="1618.53" x2="645.88" y2="1624.33" stroke="#1a1a1a" stroke-width="3.3"/>
<text x="645.88" y="1645.41" font-size="19.2" fill="#4d4d4d" text-anchor="middle">Cond</text>
<text x="526.73" y="1473.06" font-size="26.5" fill="#000" text-anchor="middle" transform="rotate(-90 526.73 1473.06)">Time spent in chamber 2 (%)</text>
<line x1="604.59" y1="1457.82" x2="604.59" y2="1480.82" stroke="#3d9f8f" stroke-width="3.2"/>
<rect x="588.25" y="1480.82" width="32.7" height="28.82" fill="#fff" stroke="#3d9f8f" stroke-width="3.2" stroke-linejoin="round"/>
<line x1="588.25" y1="1491.07" x2="620.94" y2="1491.07" stroke="#3d9f8f" stroke-width="6"/>
<line x1="646.43" y1="1438.42" x2="646.43" y2="1458.37" stroke="#cd555a" stroke-width="3.2"/>
<line x1="646.43" y1="1479.16" x2="646.43" y2="1484.14" stroke="#cd555a" stroke-width="3.2"/>
<rect x="630.36" y="1458.37" width="32.14" height="20.78" fill="#fff" stroke="#cd555a" stroke-width="3.2" stroke-linejoin="round"/>
<line x1="630.36" y1="1462.81" x2="662.51" y2="1462.81" stroke="#cd555a" stroke-width="6"/>
<circle cx="604.32" cy="1457.27" r="4.7" fill="#3d9f8f"/>
<circle cx="605.7" cy="1488.85" r="4.7" fill="#3d9f8f"/>
<circle cx="602.1" cy="1493.29" r="4.7" fill="#3d9f8f"/>
<circle cx="607.64" cy="1556.19" r="4.7" fill="#3d9f8f"/>
<polygon points="643.66,1433.23 648.86,1438.42 643.66,1443.62 638.47,1438.42" fill="#cd555a"/>
<polygon points="649.76,1453.18 654.95,1458.37 649.76,1463.57 644.57,1458.37" fill="#cd555a"/>
<polygon points="645.05,1458.17 650.24,1463.36 645.05,1468.56 639.86,1463.36" fill="#cd555a"/>
<polygon points="646.43,1478.95 651.63,1484.14 646.43,1489.34 641.24,1484.14" fill="#cd555a"/>
<polygon points="647.82,1568.17 653.01,1573.37 647.82,1578.56 642.63,1573.37" fill="#cd555a"/>
<path d="M766.14 1327.59 L766.14 1618.53 L857.03 1618.53" fill="none" stroke="#000" stroke-width="3.3" stroke-linejoin="miter"/>
<line x1="759.84" y1="1340.06" x2="766.14" y2="1340.06" stroke="#2a2a2a" stroke-width="3.3"/>
<text x="753.34" y="1346.66" font-size="18.5" fill="#4d4d4d" text-anchor="end">400</text>
<line x1="759.84" y1="1428.17" x2="766.14" y2="1428.17" stroke="#2a2a2a" stroke-width="3.3"/>
<text x="753.34" y="1434.77" font-size="18.5" fill="#4d4d4d" text-anchor="end">300</text>
<line x1="759.84" y1="1516.84" x2="766.14" y2="1516.84" stroke="#2a2a2a" stroke-width="3.3"/>
<text x="753.34" y="1523.44" font-size="18.5" fill="#4d4d4d" text-anchor="end">200</text>
<line x1="759.84" y1="1604.68" x2="766.14" y2="1604.68" stroke="#2a2a2a" stroke-width="3.3"/>
<text x="753.34" y="1611.28" font-size="18.5" fill="#4d4d4d" text-anchor="end">100</text>
<line x1="790.52" y1="1618.53" x2="790.52" y2="1624.33" stroke="#1a1a1a" stroke-width="3.3"/>
<text x="790.52" y="1645.41" font-size="19.2" fill="#4d4d4d" text-anchor="middle">Ctrl</text>
<line x1="832.09" y1="1618.53" x2="832.09" y2="1624.33" stroke="#1a1a1a" stroke-width="3.3"/>
<text x="832.09" y="1645.41" font-size="19.2" fill="#4d4d4d" text-anchor="middle">Cond</text>
<text x="715.15" y="1472.51" font-size="26.5" fill="#000" text-anchor="middle" transform="rotate(-90 715.15 1472.51)">Attending duration (s)</text>
<line x1="790.94" y1="1383" x2="790.94" y2="1387.16" stroke="#3d9f8f" stroke-width="3.2"/>
<line x1="790.94" y1="1471.67" x2="790.94" y2="1571.43" stroke="#3d9f8f" stroke-width="3.2"/>
<rect x="774.73" y="1387.16" width="32.42" height="84.51" fill="#fff" stroke="#3d9f8f" stroke-width="3.2" stroke-linejoin="round"/>
<line x1="774.73" y1="1413.49" x2="807.15" y2="1413.49" stroke="#3d9f8f" stroke-width="6"/>
<line x1="832.5" y1="1394.09" x2="832.5" y2="1436.21" stroke="#cd555a" stroke-width="3.2"/>
<line x1="832.5" y1="1496.06" x2="832.5" y2="1514.62" stroke="#cd555a" stroke-width="3.2"/>
<rect x="816.29" y="1436.21" width="32.42" height="59.85" fill="#fff" stroke="#cd555a" stroke-width="3.2" stroke-linejoin="round"/>
<line x1="816.29" y1="1467.52" x2="848.71" y2="1467.52" stroke="#cd555a" stroke-width="6"/>
<circle cx="793.29" cy="1382.45" r="4.7" fill="#3d9f8f"/>
<circle cx="790.52" cy="1389.38" r="4.7" fill="#3d9f8f"/>
<circle cx="788.58" cy="1438.42" r="4.7" fill="#3d9f8f"/>
<circle cx="792.74" cy="1571.43" r="4.7" fill="#3d9f8f"/>
<polygon points="830.7,1388.89 835.9,1394.09 830.7,1399.28 825.51,1394.09" fill="#cd555a"/>
<polygon points="830.7,1435.17 835.9,1440.36 830.7,1445.56 825.51,1440.36" fill="#cd555a"/>
<polygon points="835.69,1490.87 840.88,1496.06 835.69,1501.25 830.5,1496.06" fill="#cd555a"/>
<polygon points="829.32,1508.88 834.51,1514.07 829.32,1519.26 824.12,1514.07" fill="#cd555a"/>
<text x="884.34" y="1284.51" font-size="31.2" fill="#1a1a1a" font-weight="bold">l</text>
<linearGradient id="g1977" gradientUnits="userSpaceOnUse" x1="984.14" y1="0" x2="1019.33" y2="0"><stop offset="0" stop-color="#555"/><stop offset="1" stop-color="#fff"/></linearGradient>
<rect x="984.14" y="1292.48" width="35.19" height="2.6" fill="url(#g1977)"/>
<text x="1029.03" y="1301.26" font-size="26.4" fill="#333">Early (3 min)</text>
<linearGradient id="g1980" gradientUnits="userSpaceOnUse" x1="1184.2" y1="0" x2="1218.84" y2="0"><stop offset="0" stop-color="#fff"/><stop offset="1" stop-color="#555"/></linearGradient>
<rect x="1184.2" y="1292.48" width="34.64" height="2.6" fill="url(#g1980)"/>
<path d="M968.07 1330.36 L968.07 1619.92 L1059.51 1619.92" fill="none" stroke="#000" stroke-width="3.3" stroke-linejoin="miter"/>
<line x1="961.77" y1="1401.57" x2="968.07" y2="1401.57" stroke="#2a2a2a" stroke-width="3.3"/>
<text x="955.27" y="1408.17" font-size="18.5" fill="#4d4d4d" text-anchor="end">100</text>
<line x1="961.77" y1="1475" x2="968.07" y2="1475" stroke="#2a2a2a" stroke-width="3.3"/>
<text x="955.27" y="1481.6" font-size="18.5" fill="#4d4d4d" text-anchor="end">75</text>
<line x1="961.77" y1="1548.71" x2="968.07" y2="1548.71" stroke="#2a2a2a" stroke-width="3.3"/>
<text x="955.27" y="1555.31" font-size="18.5" fill="#4d4d4d" text-anchor="end">50</text>
<line x1="993" y1="1619.92" x2="993" y2="1625.72" stroke="#1a1a1a" stroke-width="3.3"/>
<text x="993" y="1646.8" font-size="19.2" fill="#4d4d4d" text-anchor="middle">Ctrl</text>
<line x1="1034.57" y1="1619.92" x2="1034.57" y2="1625.72" stroke="#1a1a1a" stroke-width="3.3"/>
<text x="1034.57" y="1646.8" font-size="19.2" fill="#4d4d4d" text-anchor="middle">Cond</text>
<text x="916.25" y="1474.45" font-size="26.5" fill="#000" text-anchor="middle" transform="rotate(-90 916.25 1474.45)">Time spent in chamber 2 (%)</text>
<line x1="993.28" y1="1423.18" x2="993.28" y2="1425.95" stroke="#3d9f8f" stroke-width="3.2"/>
<line x1="993.28" y1="1475.83" x2="993.28" y2="1543.17" stroke="#3d9f8f" stroke-width="3.2"/>
<rect x="976.93" y="1425.95" width="32.7" height="49.88" fill="#fff" stroke="#3d9f8f" stroke-width="3.2" stroke-linejoin="round"/>
<line x1="976.93" y1="1439.81" x2="1009.63" y2="1439.81" stroke="#3d9f8f" stroke-width="6"/>
<rect x="1019.33" y="1398.52" width="31.31" height="6.1" fill="#cd555a"/>
<circle cx="993.56" cy="1424.57" r="4.7" fill="#3d9f8f"/>
<circle cx="990.23" cy="1427.34" r="4.7" fill="#3d9f8f"/>
<circle cx="988.02" cy="1453.11" r="4.7" fill="#3d9f8f"/>
<circle cx="993.28" cy="1543.17" r="4.7" fill="#3d9f8f"/>
<polygon points="1031.8,1396.38 1036.99,1401.57 1031.8,1406.76 1026.6,1401.57" fill="#cd555a"/>
<polygon points="1035.95,1396.38 1041.15,1401.57 1035.95,1406.76 1030.76,1401.57" fill="#cd555a"/>
<polygon points="1038.73,1396.38 1043.92,1401.57 1038.73,1406.76 1033.53,1401.57" fill="#cd555a"/>
<path d="M986.08 1364.44 L986.08 1360.28 L1036.51 1360.28 L1036.51 1364.44" fill="none" stroke="#000" stroke-width="3.6" stroke-linejoin="miter"/>
<text x="1011.02" y="1364.8" font-size="29.5" fill="#000" text-anchor="middle" stroke="#000" stroke-width="0.5">**</text>
<path d="M1153.72 1330.36 L1153.72 1619.92 L1245.71 1619.92" fill="none" stroke="#000" stroke-width="3.3" stroke-linejoin="miter"/>
<line x1="1147.42" y1="1331.19" x2="1153.72" y2="1331.19" stroke="#2a2a2a" stroke-width="3.3"/>
<text x="1140.92" y="1337.79" font-size="18.5" fill="#4d4d4d" text-anchor="end">125</text>
<line x1="1147.42" y1="1386.33" x2="1153.72" y2="1386.33" stroke="#2a2a2a" stroke-width="3.3"/>
<text x="1140.92" y="1392.93" font-size="18.5" fill="#4d4d4d" text-anchor="end">100</text>
<line x1="1147.42" y1="1441.75" x2="1153.72" y2="1441.75" stroke="#2a2a2a" stroke-width="3.3"/>
<text x="1140.92" y="1448.35" font-size="18.5" fill="#4d4d4d" text-anchor="end">75</text>
<line x1="1147.42" y1="1496.61" x2="1153.72" y2="1496.61" stroke="#2a2a2a" stroke-width="3.3"/>
<text x="1140.92" y="1503.21" font-size="18.5" fill="#4d4d4d" text-anchor="end">50</text>
<line x1="1147.42" y1="1552.03" x2="1153.72" y2="1552.03" stroke="#2a2a2a" stroke-width="3.3"/>
<text x="1140.92" y="1558.63" font-size="18.5" fill="#4d4d4d" text-anchor="end">25</text>
<line x1="1147.42" y1="1607.45" x2="1153.72" y2="1607.45" stroke="#2a2a2a" stroke-width="3.3"/>
<text x="1140.92" y="1614.05" font-size="18.5" fill="#4d4d4d" text-anchor="end">0</text>
<line x1="1179.21" y1="1619.92" x2="1179.21" y2="1625.72" stroke="#1a1a1a" stroke-width="3.3"/>
<text x="1179.21" y="1646.8" font-size="19.2" fill="#4d4d4d" text-anchor="middle">Ctrl</text>
<line x1="1220.78" y1="1619.92" x2="1220.78" y2="1625.72" stroke="#1a1a1a" stroke-width="3.3"/>
<text x="1220.78" y="1646.8" font-size="19.2" fill="#4d4d4d" text-anchor="middle">Cond</text>
<text x="1103.84" y="1475" font-size="26.5" fill="#000" text-anchor="middle" transform="rotate(-90 1103.84 1475)">Attending duration (s)</text>
<line x1="1179.35" y1="1394.09" x2="1179.35" y2="1406" stroke="#3d9f8f" stroke-width="3.2"/>
<line x1="1179.35" y1="1447.29" x2="1179.35" y2="1460.59" stroke="#3d9f8f" stroke-width="3.2"/>
<rect x="1162.86" y="1406" width="32.97" height="41.29" fill="#fff" stroke="#3d9f8f" stroke-width="3.2" stroke-linejoin="round"/>
<line x1="1162.86" y1="1426.51" x2="1195.84" y2="1426.51" stroke="#3d9f8f" stroke-width="6"/>
<line x1="1221.19" y1="1447.29" x2="1221.19" y2="1459.76" stroke="#cd555a" stroke-width="3.2"/>
<line x1="1221.19" y1="1517.4" x2="1221.19" y2="1558.13" stroke="#cd555a" stroke-width="3.2"/>
<rect x="1204.98" y="1459.76" width="32.42" height="57.64" fill="#fff" stroke="#cd555a" stroke-width="3.2" stroke-linejoin="round"/>
<line x1="1204.98" y1="1463.36" x2="1237.4" y2="1463.36" stroke="#cd555a" stroke-width="6"/>
<circle cx="1184.2" cy="1394.09" r="4.7" fill="#3d9f8f"/>
<circle cx="1180.87" cy="1410.71" r="4.7" fill="#3d9f8f"/>
<circle cx="1176.44" cy="1441.75" r="4.7" fill="#3d9f8f"/>
<circle cx="1175.33" cy="1460.59" r="4.7" fill="#3d9f8f"/>
<polygon points="1219.39,1442.37 1224.58,1447.57 1219.39,1452.76 1214.2,1447.57" fill="#cd555a"/>
<polygon points="1215.51,1454.57 1220.71,1459.76 1215.51,1464.95 1210.32,1459.76" fill="#cd555a"/>
<polygon points="1217.45,1460.94 1222.64,1466.13 1217.45,1471.33 1212.26,1466.13" fill="#cd555a"/>
<polygon points="1222.16,1528.27 1227.36,1533.47 1222.16,1538.66 1216.97,1533.47" fill="#cd555a"/>
<polygon points="1221.61,1552.93 1226.8,1558.13 1221.61,1563.32 1216.41,1558.13" fill="#cd555a"/>
<path d="M1180.04 1373.58 L1180.04 1369.15 L1226.59 1369.15 L1226.59 1373.58" fill="none" stroke="#000" stroke-width="3.6" stroke-linejoin="miter"/>
<text x="1203.04" y="1375.05" font-size="29.5" fill="#000" text-anchor="middle" stroke="#000" stroke-width="0.5">*</text>
<text x="6.33" y="1705.34" font-size="31.2" fill="#1a1a1a" font-weight="bold">n</text>
<text x="85.4" y="1716.72" font-size="26.6" fill="#222">von Frey</text>
<text x="248.88" y="1716.72" font-size="26.6" fill="#222">Hargreaves</text>
<path d="M88.12 1733.18 L88.12 2023.29 L210.59 2023.29" fill="none" stroke="#000" stroke-width="3.3" stroke-linejoin="miter"/>
<line x1="81.82" y1="1733.73" x2="88.12" y2="1733.73" stroke="#2a2a2a" stroke-width="3.3"/>
<text x="76.72" y="1740.33" font-size="18.5" fill="#4d4d4d" text-anchor="end">1.5</text>
<line x1="81.82" y1="1843.74" x2="88.12" y2="1843.74" stroke="#2a2a2a" stroke-width="3.3"/>
<text x="76.72" y="1850.34" font-size="18.5" fill="#4d4d4d" text-anchor="end">1.0</text>
<line x1="81.82" y1="1953.19" x2="88.12" y2="1953.19" stroke="#2a2a2a" stroke-width="3.3"/>
<text x="76.72" y="1959.79" font-size="18.5" fill="#4d4d4d" text-anchor="end">0.5</text>
<line x1="121.92" y1="2023.29" x2="121.92" y2="2029.09" stroke="#1a1a1a" stroke-width="3.3"/>
<text x="119.98" y="2051" font-size="19.2" fill="#4d4d4d" text-anchor="middle">Ctrl</text>
<line x1="177.34" y1="2023.29" x2="177.34" y2="2029.09" stroke="#1a1a1a" stroke-width="3.3"/>
<text x="175.95" y="2051" font-size="19.2" fill="#4d4d4d" text-anchor="middle">Cond</text>
<text x="44.33" y="1877.82" font-size="27.1" fill="#000" text-anchor="middle" transform="rotate(-90 44.33 1877.82)">Pain threshold (g)</text>
<line x1="121.92" y1="1835.42" x2="121.92" y2="1844.01" stroke="#333" stroke-width="3.2"/>
<line x1="121.92" y1="1936.84" x2="121.92" y2="2009.44" stroke="#333" stroke-width="3.2"/>
<rect x="100.31" y="1844.01" width="43.23" height="92.83" fill="#fff" stroke="#333" stroke-width="3.2" stroke-linejoin="round"/>
<line x1="100.31" y1="1897.77" x2="143.53" y2="1897.77" stroke="#333" stroke-width="6"/>
<line x1="177.76" y1="1745.37" x2="177.76" y2="1834.32" stroke="#333" stroke-width="3.2"/>
<rect x="156.56" y="1834.32" width="42.4" height="65.12" fill="#fff" stroke="#333" stroke-width="3.2" stroke-linejoin="round"/>
<line x1="156.56" y1="1897.77" x2="198.95" y2="1897.77" stroke="#333" stroke-width="6"/>
<circle cx="116.38" cy="1835.42" r="4.7" fill="#3d9f8f"/>
<circle cx="122.75" cy="1835.42" r="4.7" fill="#3d9f8f"/>
<circle cx="128.02" cy="1835.42" r="4.7" fill="#3d9f8f"/>
<circle cx="126.63" cy="1874.22" r="4.7" fill="#3d9f8f"/>
<circle cx="116.66" cy="1897.77" r="4.7" fill="#3d9f8f"/>
<circle cx="120.54" cy="1932.41" r="4.7" fill="#3d9f8f"/>
<circle cx="120.81" cy="1937.4" r="4.7" fill="#3d9f8f"/>
<circle cx="117.76" cy="1988.66" r="4.7" fill="#3d9f8f"/>
<circle cx="122.75" cy="2009.99" r="4.7" fill="#3d9f8f"/>
<polygon points="180.11,1740.18 185.3,1745.37 180.11,1750.56 174.92,1745.37" fill="#cd555a"/>
<polygon points="171.24,1830.23 176.44,1835.42 171.24,1840.62 166.05,1835.42" fill="#cd555a"/>
<polygon points="175.12,1830.23 180.32,1835.42 175.12,1840.62 169.93,1835.42" fill="#cd555a"/>
<polygon points="177.89,1830.23 183.09,1835.42 177.89,1840.62 172.7,1835.42" fill="#cd555a"/>
<polygon points="173.18,1892.58 178.38,1897.77 173.18,1902.96 167.99,1897.77" fill="#cd555a"/>
<polygon points="176.79,1892.58 181.98,1897.77 176.79,1902.96 171.59,1897.77" fill="#cd555a"/>
<polygon points="180.11,1892.58 185.3,1897.77 180.11,1902.96 174.92,1897.77" fill="#cd555a"/>
<path d="M280.7 1733.18 L280.7 2023.29 L405.94 2023.29" fill="none" stroke="#000" stroke-width="3.3" stroke-linejoin="miter"/>
<line x1="274.4" y1="1742.04" x2="280.7" y2="1742.04" stroke="#2a2a2a" stroke-width="3.3"/>
<text x="269.9" y="1748.64" font-size="18.5" fill="#4d4d4d" text-anchor="end">13</text>
<line x1="274.4" y1="1787.49" x2="280.7" y2="1787.49" stroke="#2a2a2a" stroke-width="3.3"/>
<text x="269.9" y="1794.09" font-size="18.5" fill="#4d4d4d" text-anchor="end">12</text>
<line x1="274.4" y1="1832.93" x2="280.7" y2="1832.93" stroke="#2a2a2a" stroke-width="3.3"/>
<text x="269.9" y="1839.53" font-size="18.5" fill="#4d4d4d" text-anchor="end">11</text>
<line x1="274.4" y1="1878.65" x2="280.7" y2="1878.65" stroke="#2a2a2a" stroke-width="3.3"/>
<text x="269.9" y="1885.25" font-size="18.5" fill="#4d4d4d" text-anchor="end">10</text>
<line x1="274.4" y1="1924.09" x2="280.7" y2="1924.09" stroke="#2a2a2a" stroke-width="3.3"/>
<text x="269.9" y="1930.69" font-size="18.5" fill="#4d4d4d" text-anchor="end">9</text>
<line x1="274.4" y1="1969.82" x2="280.7" y2="1969.82" stroke="#2a2a2a" stroke-width="3.3"/>
<text x="269.9" y="1976.42" font-size="18.5" fill="#4d4d4d" text-anchor="end">8</text>
<line x1="274.4" y1="2015.26" x2="280.7" y2="2015.26" stroke="#2a2a2a" stroke-width="3.3"/>
<text x="269.9" y="2021.86" font-size="18.5" fill="#4d4d4d" text-anchor="end">7</text>
<line x1="314.5" y1="2023.29" x2="314.5" y2="2029.09" stroke="#1a1a1a" stroke-width="3.3"/>
<text x="312.28" y="2051" font-size="19.2" fill="#4d4d4d" text-anchor="middle">Ctrl</text>
<line x1="372.14" y1="2023.29" x2="372.14" y2="2029.09" stroke="#1a1a1a" stroke-width="3.3"/>
<text x="372.97" y="2051" font-size="19.2" fill="#4d4d4d" text-anchor="middle">Cond</text>
<text x="241.9" y="1877.27" font-size="26.9" fill="#000" text-anchor="middle" transform="rotate(-90 241.9 1877.27)">Paw withdrawal latency (s)</text>
<line x1="314.92" y1="1823.79" x2="314.92" y2="1888.35" stroke="#333" stroke-width="3.2"/>
<line x1="314.92" y1="1954.58" x2="314.92" y2="1987.27" stroke="#333" stroke-width="3.2"/>
<rect x="293.17" y="1888.35" width="43.5" height="66.23" fill="#fff" stroke="#333" stroke-width="3.2" stroke-linejoin="round"/>
<line x1="293.17" y1="1921.6" x2="336.67" y2="1921.6" stroke="#333" stroke-width="6"/>
<line x1="372.28" y1="1745.37" x2="372.28" y2="1852.33" stroke="#333" stroke-width="3.2"/>
<line x1="372.28" y1="1938.23" x2="372.28" y2="2010.27" stroke="#333" stroke-width="3.2"/>
<rect x="350.52" y="1852.33" width="43.5" height="85.9" fill="#fff" stroke="#333" stroke-width="3.2" stroke-linejoin="round"/>
<line x1="350.52" y1="1899.43" x2="394.03" y2="1899.43" stroke="#333" stroke-width="6"/>
<circle cx="321.98" cy="1823.79" r="4.7" fill="#3d9f8f"/>
<circle cx="310.34" cy="1873.11" r="4.7" fill="#3d9f8f"/>
<circle cx="312.56" cy="1883.36" r="4.7" fill="#3d9f8f"/>
<circle cx="308.96" cy="1905.53" r="4.7" fill="#3d9f8f"/>
<circle cx="320.04" cy="1915.23" r="4.7" fill="#3d9f8f"/>
<circle cx="307.57" cy="1929.08" r="4.7" fill="#3d9f8f"/>
<circle cx="315.06" cy="1929.91" r="4.7" fill="#3d9f8f"/>
<circle cx="315.89" cy="1962.33" r="4.7" fill="#3d9f8f"/>
<circle cx="310.9" cy="1967.04" r="4.7" fill="#3d9f8f"/>
<circle cx="310.9" cy="1986.72" r="4.7" fill="#3d9f8f"/>
<polygon points="367.7,1740.18 372.9,1745.37 367.7,1750.56 362.51,1745.37" fill="#cd555a"/>
<polygon points="376.29,1830.23 381.49,1835.42 376.29,1840.62 371.1,1835.42" fill="#cd555a"/>
<polygon points="376.85,1840.21 382.04,1845.4 376.85,1850.59 371.65,1845.4" fill="#cd555a"/>
<polygon points="366.32,1870.69 371.51,1875.88 366.32,1881.07 361.12,1875.88" fill="#cd555a"/>
<polygon points="376.29,1879.55 381.49,1884.75 376.29,1889.94 371.1,1884.75" fill="#cd555a"/>
<polygon points="376.85,1909.2 382.04,1914.4 376.85,1919.59 371.65,1914.4" fill="#cd555a"/>
<polygon points="377.68,1926.11 382.87,1931.3 377.68,1936.49 372.48,1931.3" fill="#cd555a"/>
<polygon points="374.08,1934.97 379.27,1940.17 374.08,1945.36 368.88,1940.17" fill="#cd555a"/>
<polygon points="367.7,1952.98 372.9,1958.18 367.7,1963.37 362.51,1958.18" fill="#cd555a"/>
<polygon points="376.02,2004.8 381.21,2009.99 376.02,2015.19 370.82,2009.99" fill="#cd555a"/>
<text x="418.9" y="1716.72" font-size="26.6" fill="#222">Formalin injection</text>
<path d="M495.04 1740.66 L495.04 2024.13 L614.75 2024.13" fill="none" stroke="#000" stroke-width="3.3" stroke-linejoin="miter"/>
<line x1="488.74" y1="1752.3" x2="495.04" y2="1752.3" stroke="#2a2a2a" stroke-width="3.3"/>
<text x="482.24" y="1758.9" font-size="18.5" fill="#4d4d4d" text-anchor="end">400</text>
<line x1="488.74" y1="1816.86" x2="495.04" y2="1816.86" stroke="#2a2a2a" stroke-width="3.3"/>
<text x="482.24" y="1823.46" font-size="18.5" fill="#4d4d4d" text-anchor="end">300</text>
<line x1="488.74" y1="1881.98" x2="495.04" y2="1881.98" stroke="#2a2a2a" stroke-width="3.3"/>
<text x="482.24" y="1888.58" font-size="18.5" fill="#4d4d4d" text-anchor="end">200</text>
<line x1="488.74" y1="1946.54" x2="495.04" y2="1946.54" stroke="#2a2a2a" stroke-width="3.3"/>
<text x="482.24" y="1953.14" font-size="18.5" fill="#4d4d4d" text-anchor="end">100</text>
<line x1="488.74" y1="2011.38" x2="495.04" y2="2011.38" stroke="#2a2a2a" stroke-width="3.3"/>
<text x="482.24" y="2017.98" font-size="18.5" fill="#4d4d4d" text-anchor="end">0</text>
<line x1="527.46" y1="2024.13" x2="527.46" y2="2029.93" stroke="#1a1a1a" stroke-width="3.3"/>
<text x="524.42" y="2051" font-size="19.2" fill="#4d4d4d" text-anchor="middle">Ctrl</text>
<line x1="582.05" y1="2024.13" x2="582.05" y2="2029.93" stroke="#1a1a1a" stroke-width="3.3"/>
<text x="583.16" y="2051" font-size="19.2" fill="#4d4d4d" text-anchor="middle">Cond</text>
<text x="438.24" y="1882.81" font-size="27.1" fill="#000" text-anchor="middle" transform="rotate(-90 438.24 1882.81)">Attending duration (s)</text>
<rect x="506.68" y="1954.02" width="42.12" height="28.54" fill="#fff" stroke="#3d9f8f" stroke-width="3.2" stroke-linejoin="round"/>
<line x1="506.68" y1="1955.41" x2="548.8" y2="1955.41" stroke="#3d9f8f" stroke-width="6"/>
<line x1="582.47" y1="1859.81" x2="582.47" y2="1913.29" stroke="#cd555a" stroke-width="3.2"/>
<line x1="582.47" y1="1983.12" x2="582.47" y2="2006.67" stroke="#cd555a" stroke-width="3.2"/>
<rect x="561.27" y="1913.29" width="42.4" height="69.83" fill="#fff" stroke="#cd555a" stroke-width="3.2" stroke-linejoin="round"/>
<line x1="561.27" y1="1945.71" x2="603.66" y2="1945.71" stroke="#cd555a" stroke-width="6"/>
<circle cx="521.09" cy="1765.87" r="4.7" fill="#3d9f8f"/>
<circle cx="530.23" cy="1953.19" r="4.7" fill="#3d9f8f"/>
<circle cx="527.46" cy="1956.79" r="4.7" fill="#3d9f8f"/>
<circle cx="524.69" cy="1980.9" r="4.7" fill="#3d9f8f"/>
<circle cx="529.4" cy="1990.04" r="4.7" fill="#3d9f8f"/>
<polygon points="578.17,1854.62 583.37,1859.81 578.17,1865 572.98,1859.81" fill="#cd555a"/>
<polygon points="575.95,1889.25 581.15,1894.45 575.95,1899.64 570.76,1894.45" fill="#cd555a"/>
<polygon points="587.87,1907.26 593.06,1912.46 587.87,1917.65 582.68,1912.46" fill="#cd555a"/>
<polygon points="580.11,1915.58 585.3,1920.77 580.11,1925.96 574.92,1920.77" fill="#cd555a"/>
<polygon points="582.88,1917.52 588.08,1922.71 582.88,1927.9 577.69,1922.71" fill="#cd555a"/>
<polygon points="585.65,1963.24 590.85,1968.43 585.65,1973.62 580.46,1968.43" fill="#cd555a"/>
<polygon points="579.28,1980.69 584.47,1985.89 579.28,1991.08 574.09,1985.89" fill="#cd555a"/>
<polygon points="576.79,1991.78 581.98,1996.97 576.79,2002.16 571.59,1996.97" fill="#cd555a"/>
<polygon points="578.73,2001.47 583.92,2006.67 578.73,2011.86 573.53,2006.67" fill="#cd555a"/>
<text x="1225.78" y="1705.51" font-size="31.2" fill="#1a1a1a" font-weight="bold">p</text>
<path d="M1306.25 1717.63 L1306.25 2010.73 L1408.84 2010.73" fill="none" stroke="#000" stroke-width="3.3" stroke-linejoin="miter"/>
<line x1="1299.95" y1="1719.46" x2="1306.25" y2="1719.46" stroke="#2a2a2a" stroke-width="3.3"/>
<text x="1293.45" y="1726.06" font-size="18.5" fill="#4d4d4d" text-anchor="end">50</text>
<line x1="1299.95" y1="1777.35" x2="1306.25" y2="1777.35" stroke="#2a2a2a" stroke-width="3.3"/>
<text x="1293.45" y="1783.95" font-size="18.5" fill="#4d4d4d" text-anchor="end">40</text>
<line x1="1299.95" y1="1835.6" x2="1306.25" y2="1835.6" stroke="#2a2a2a" stroke-width="3.3"/>
<text x="1293.45" y="1842.2" font-size="18.5" fill="#4d4d4d" text-anchor="end">30</text>
<line x1="1299.95" y1="1893.86" x2="1306.25" y2="1893.86" stroke="#2a2a2a" stroke-width="3.3"/>
<text x="1293.45" y="1900.46" font-size="18.5" fill="#4d4d4d" text-anchor="end">20</text>
<line x1="1299.95" y1="1952.11" x2="1306.25" y2="1952.11" stroke="#2a2a2a" stroke-width="3.3"/>
<text x="1293.45" y="1958.71" font-size="18.5" fill="#4d4d4d" text-anchor="end">10</text>
<line x1="1299.95" y1="2010.73" x2="1306.25" y2="2010.73" stroke="#2a2a2a" stroke-width="3.3"/>
<text x="1293.45" y="2017.33" font-size="18.5" fill="#4d4d4d" text-anchor="end">0</text>
<line x1="1333.73" y1="2010.73" x2="1333.73" y2="2016.53" stroke="#1a1a1a" stroke-width="3.3"/>
<text x="1338.23" y="2030.23" font-size="19.4" fill="#4d4d4d" text-anchor="end" transform="rotate(-29 1338.23 2030.23)">Chamber 1</text>
<line x1="1380.62" y1="2010.73" x2="1380.62" y2="2016.53" stroke="#1a1a1a" stroke-width="3.3"/>
<text x="1390.62" y="2030.23" font-size="19.4" fill="#4d4d4d" text-anchor="end" transform="rotate(-29 1390.62 2030.23)">Chamber 2</text>
<text x="1266.68" y="1866.01" font-size="27" fill="#000" text-anchor="middle" transform="rotate(-90 1266.68 1866.01)">Latency of 1st licking (s)</text>
<line x1="1333.73" y1="1771.49" x2="1333.73" y2="1840.37" stroke="#333" stroke-width="3.2"/>
<line x1="1333.73" y1="1892.76" x2="1333.73" y2="1902.65" stroke="#333" stroke-width="3.2"/>
<rect x="1315.41" y="1840.37" width="36.64" height="52.39" fill="#fff" stroke="#333" stroke-width="3.2" stroke-linejoin="round"/>
<line x1="1315.41" y1="1867.11" x2="1352.05" y2="1867.11" stroke="#333" stroke-width="6"/>
<rect x="1362.31" y="1849.53" width="37.37" height="12.82" fill="#fff" stroke="#333" stroke-width="3.2" stroke-linejoin="round"/>
<line x1="1362.31" y1="1859.78" x2="1399.68" y2="1859.78" stroke="#333" stroke-width="6"/>
<circle cx="1327.13" cy="1771.49" r="5" fill="#8b3575"/>
<circle cx="1336.66" cy="1841.1" r="5" fill="#8b3575"/>
<circle cx="1334.46" cy="1867.11" r="5" fill="#8b3575"/>
<circle cx="1328.97" cy="1891.66" r="5" fill="#8b3575"/>
<circle cx="1342.89" cy="1904.48" r="5" fill="#8b3575"/>
<polygon points="1383.19,1801.6 1389.13,1811.94 1377.25,1811.94" fill="#cd555a"/>
<polygon points="1381.36,1843.74 1387.3,1854.07 1375.42,1854.07" fill="#cd555a"/>
<polygon points="1372.93,1854 1378.87,1864.33 1366.99,1864.33" fill="#cd555a"/>
<polygon points="1385.75,1852.16 1391.69,1862.5 1379.81,1862.5" fill="#cd555a"/>
<polygon points="1376.96,1895.76 1382.9,1906.1 1371.02,1906.1" fill="#cd555a"/>
<path d="M1492 1717.63 L1492 2010.73 L1595.69 2010.73" fill="none" stroke="#000" stroke-width="3.3" stroke-linejoin="miter"/>
<line x1="1485.7" y1="1719.46" x2="1492" y2="1719.46" stroke="#2a2a2a" stroke-width="3.3"/>
<text x="1479.2" y="1726.06" font-size="18.5" fill="#4d4d4d" text-anchor="end">80</text>
<line x1="1485.7" y1="1792" x2="1492" y2="1792" stroke="#2a2a2a" stroke-width="3.3"/>
<text x="1479.2" y="1798.6" font-size="18.5" fill="#4d4d4d" text-anchor="end">60</text>
<line x1="1485.7" y1="1864.91" x2="1492" y2="1864.91" stroke="#2a2a2a" stroke-width="3.3"/>
<text x="1479.2" y="1871.51" font-size="18.5" fill="#4d4d4d" text-anchor="end">40</text>
<line x1="1485.7" y1="1937.46" x2="1492" y2="1937.46" stroke="#2a2a2a" stroke-width="3.3"/>
<text x="1479.2" y="1944.06" font-size="18.5" fill="#4d4d4d" text-anchor="end">20</text>
<line x1="1485.7" y1="2010.73" x2="1492" y2="2010.73" stroke="#2a2a2a" stroke-width="3.3"/>
<text x="1479.2" y="2017.33" font-size="18.5" fill="#4d4d4d" text-anchor="end">0</text>
<line x1="1520.58" y1="2010.73" x2="1520.58" y2="2016.53" stroke="#1a1a1a" stroke-width="3.3"/>
<text x="1525.08" y="2030.23" font-size="19.4" fill="#4d4d4d" text-anchor="end" transform="rotate(-29 1525.08 2030.23)">Chamber 1</text>
<line x1="1568.21" y1="2010.73" x2="1568.21" y2="2016.53" stroke="#1a1a1a" stroke-width="3.3"/>
<text x="1578.21" y="2030.23" font-size="19.4" fill="#4d4d4d" text-anchor="end" transform="rotate(-29 1578.21 2030.23)">Chamber 2</text>
<text x="1452.8" y="1866.01" font-size="27" fill="#000" text-anchor="middle" transform="rotate(-90 1452.8 1866.01)">Latency of 1st rearing (s)</text>
<line x1="1520.58" y1="1792" x2="1520.58" y2="1905.58" stroke="#333" stroke-width="3.2"/>
<line x1="1520.58" y1="1983.99" x2="1520.58" y2="2005.24" stroke="#333" stroke-width="3.2"/>
<rect x="1502.26" y="1905.58" width="36.64" height="78.41" fill="#fff" stroke="#333" stroke-width="3.2" stroke-linejoin="round"/>
<line x1="1502.26" y1="1973" x2="1538.9" y2="1973" stroke="#333" stroke-width="6"/>
<line x1="1568.21" y1="1983.99" x2="1568.21" y2="1998.64" stroke="#333" stroke-width="3.2"/>
<rect x="1549.89" y="1957.61" width="36.64" height="26.38" fill="#fff" stroke="#333" stroke-width="3.2" stroke-linejoin="round"/>
<line x1="1549.89" y1="1969.33" x2="1586.53" y2="1969.33" stroke="#333" stroke-width="6"/>
<circle cx="1526.08" cy="1792" r="5" fill="#8b3575"/>
<circle cx="1516.92" cy="1906.31" r="5" fill="#8b3575"/>
<circle cx="1529.74" cy="1973" r="5" fill="#8b3575"/>
<circle cx="1523.15" cy="1983.25" r="5" fill="#8b3575"/>
<circle cx="1524.25" cy="2004.5" r="5" fill="#8b3575"/>
<polygon points="1559.05,1787.68 1564.99,1798.02 1553.11,1798.02" fill="#cd555a"/>
<polygon points="1562.72,1951.09 1568.66,1961.42 1556.78,1961.42" fill="#cd555a"/>
<polygon points="1571.14,1962.08 1577.08,1972.41 1565.2,1972.41" fill="#cd555a"/>
<polygon points="1571.88,1976.37 1577.82,1986.7 1565.93,1986.7" fill="#cd555a"/>
<polygon points="1559.78,1992.85 1565.72,2003.19 1553.84,2003.19" fill="#cd555a"/>
<path d="M1690.95 1717.63 L1690.95 2010.73 L1791.7 2010.73" fill="none" stroke="#000" stroke-width="3.3" stroke-linejoin="miter"/>
<line x1="1684.65" y1="1719.46" x2="1690.95" y2="1719.46" stroke="#2a2a2a" stroke-width="3.3"/>
<text x="1678.15" y="1726.06" font-size="18.5" fill="#4d4d4d" text-anchor="end">200</text>
<line x1="1684.65" y1="1804.83" x2="1690.95" y2="1804.83" stroke="#2a2a2a" stroke-width="3.3"/>
<text x="1678.15" y="1811.43" font-size="18.5" fill="#4d4d4d" text-anchor="end">150</text>
<line x1="1684.65" y1="1890.56" x2="1690.95" y2="1890.56" stroke="#2a2a2a" stroke-width="3.3"/>
<text x="1678.15" y="1897.16" font-size="18.5" fill="#4d4d4d" text-anchor="end">100</text>
<line x1="1684.65" y1="1975.93" x2="1690.95" y2="1975.93" stroke="#2a2a2a" stroke-width="3.3"/>
<text x="1678.15" y="1982.53" font-size="18.5" fill="#4d4d4d" text-anchor="end">50</text>
<line x1="1717.69" y1="2010.73" x2="1717.69" y2="2016.53" stroke="#1a1a1a" stroke-width="3.3"/>
<text x="1722.19" y="2030.23" font-size="19.4" fill="#4d4d4d" text-anchor="end" transform="rotate(-29 1722.19 2030.23)">Chamber 1</text>
<line x1="1764.22" y1="2010.73" x2="1764.22" y2="2016.53" stroke="#1a1a1a" stroke-width="3.3"/>
<text x="1774.22" y="2030.23" font-size="19.4" fill="#4d4d4d" text-anchor="end" transform="rotate(-29 1774.22 2030.23)">Chamber 2</text>
<text x="1641.49" y="1866.01" font-size="27" fill="#000" text-anchor="middle" transform="rotate(-90 1641.49 1866.01)">Latency of 1st jumping (s)</text>
<line x1="1718.79" y1="1765.99" x2="1718.79" y2="1781.01" stroke="#333" stroke-width="3.2"/>
<line x1="1718.79" y1="1859.42" x2="1718.79" y2="1867.84" stroke="#333" stroke-width="3.2"/>
<rect x="1700.84" y="1781.01" width="35.91" height="78.41" fill="#fff" stroke="#333" stroke-width="3.2" stroke-linejoin="round"/>
<line x1="1700.84" y1="1793.47" x2="1736.75" y2="1793.47" stroke="#333" stroke-width="6"/>
<line x1="1764.59" y1="1785.41" x2="1764.59" y2="1794.94" stroke="#333" stroke-width="3.2"/>
<line x1="1764.59" y1="1937.46" x2="1764.59" y2="1941.12" stroke="#333" stroke-width="3.2"/>
<rect x="1746.64" y="1794.94" width="35.91" height="142.52" fill="#fff" stroke="#333" stroke-width="3.2" stroke-linejoin="round"/>
<line x1="1746.64" y1="1870.78" x2="1782.54" y2="1870.78" stroke="#333" stroke-width="6"/>
<circle cx="1711.1" cy="1766.36" r="5" fill="#8b3575"/>
<circle cx="1719.16" cy="1782.84" r="5" fill="#8b3575"/>
<circle cx="1711.1" cy="1793.84" r="5" fill="#8b3575"/>
<circle cx="1721.36" cy="1859.05" r="5" fill="#8b3575"/>
<circle cx="1712.93" cy="1866.01" r="5" fill="#8b3575"/>
<polygon points="1766.79,1777.79 1772.73,1788.13 1760.85,1788.13" fill="#cd555a"/>
<polygon points="1756.16,1789.51 1762.1,1799.85 1750.22,1799.85" fill="#cd555a"/>
<polygon points="1764.96,1863.89 1770.9,1874.22 1759.02,1874.22" fill="#cd555a"/>
<polygon points="1769.72,1928.74 1775.66,1939.07 1763.78,1939.07" fill="#cd555a"/>
<polygon points="1762.39,1935.33 1768.33,1945.67 1756.45,1945.67" fill="#cd555a"/>
<text x="467.11" y="2117.02" font-size="31.2" fill="#1a1a1a" font-weight="bold">r</text>
<path d="M561.92 2159.27 L561.92 2453.55 L811.31 2453.55" fill="none" stroke="#000" stroke-width="3.3" stroke-linejoin="miter"/>
<line x1="555.62" y1="2160.66" x2="561.92" y2="2160.66" stroke="#2a2a2a" stroke-width="3.3"/>
<text x="549.12" y="2167.26" font-size="18.5" fill="#4d4d4d" text-anchor="end">100</text>
<line x1="555.62" y1="2233.53" x2="561.92" y2="2233.53" stroke="#2a2a2a" stroke-width="3.3"/>
<text x="549.12" y="2240.13" font-size="18.5" fill="#4d4d4d" text-anchor="end">75</text>
<line x1="555.62" y1="2306.96" x2="561.92" y2="2306.96" stroke="#2a2a2a" stroke-width="3.3"/>
<text x="549.12" y="2313.56" font-size="18.5" fill="#4d4d4d" text-anchor="end">50</text>
<line x1="555.62" y1="2380.12" x2="561.92" y2="2380.12" stroke="#2a2a2a" stroke-width="3.3"/>
<text x="549.12" y="2386.72" font-size="18.5" fill="#4d4d4d" text-anchor="end">25</text>
<line x1="555.62" y1="2453.55" x2="561.92" y2="2453.55" stroke="#2a2a2a" stroke-width="3.3"/>
<text x="549.12" y="2460.15" font-size="18.5" fill="#4d4d4d" text-anchor="end">0</text>
<line x1="597.11" y1="2453.55" x2="597.11" y2="2459.35" stroke="#1a1a1a" stroke-width="3.3"/>
<text x="601.27" y="2485.41" font-size="19.2" fill="#4d4d4d" text-anchor="middle">Pre</text>
<line x1="656.69" y1="2453.55" x2="656.69" y2="2459.35" stroke="#1a1a1a" stroke-width="3.3"/>
<text x="660.01" y="2485.41" font-size="19.2" fill="#4d4d4d" text-anchor="middle">Post</text>
<line x1="716.26" y1="2453.55" x2="716.26" y2="2459.35" stroke="#1a1a1a" stroke-width="3.3"/>
<text x="714.32" y="2485.41" font-size="19.2" fill="#4d4d4d" text-anchor="middle">Pre</text>
<line x1="775.28" y1="2453.55" x2="775.28" y2="2459.35" stroke="#1a1a1a" stroke-width="3.3"/>
<text x="772.51" y="2485.41" font-size="19.2" fill="#4d4d4d" text-anchor="middle">Post</text>
<text x="636.74" y="2513.95" font-size="19.4" fill="#4d4d4d" text-anchor="middle">Ctrl</text>
<text x="748.41" y="2513.95" font-size="19.4" fill="#4d4d4d" text-anchor="middle">Cond</text>
<text x="512.32" y="2307.52" font-size="26.5" fill="#000" text-anchor="middle" transform="rotate(-90 512.32 2307.52)">Latency of crossing back (s)</text>
<line x1="597.53" y1="2373.19" x2="597.53" y2="2398.41" stroke="#333" stroke-width="3.2"/>
<rect x="574.39" y="2398.41" width="46.27" height="38.79" fill="#fff" stroke="#333" stroke-width="3.2" stroke-linejoin="round"/>
<line x1="574.39" y1="2434.98" x2="620.67" y2="2434.98" stroke="#333" stroke-width="6"/>
<rect x="633.97" y="2383.72" width="45.72" height="52.09" fill="#fff" stroke="#333" stroke-width="3.2" stroke-linejoin="round"/>
<line x1="633.97" y1="2411.43" x2="679.69" y2="2411.43" stroke="#333" stroke-width="6"/>
<line x1="716.4" y1="2379.56" x2="716.4" y2="2399.79" stroke="#333" stroke-width="3.2"/>
<line x1="716.4" y1="2433.04" x2="716.4" y2="2448.84" stroke="#333" stroke-width="3.2"/>
<rect x="692.99" y="2399.79" width="46.83" height="33.25" fill="#fff" stroke="#333" stroke-width="3.2" stroke-linejoin="round"/>
<line x1="692.99" y1="2417.8" x2="739.82" y2="2417.8" stroke="#333" stroke-width="6"/>
<line x1="775.7" y1="2170.36" x2="775.7" y2="2261.24" stroke="#333" stroke-width="3.2"/>
<line x1="775.7" y1="2432.21" x2="775.7" y2="2443.29" stroke="#333" stroke-width="3.2"/>
<rect x="752.56" y="2261.24" width="46.27" height="170.97" fill="#fff" stroke="#333" stroke-width="3.2" stroke-linejoin="round"/>
<line x1="752.56" y1="2365.15" x2="798.84" y2="2365.15" stroke="#333" stroke-width="6"/>
<g stroke="#e2e2e2" stroke-width="3.4" stroke-linecap="round">
<line x1="597.11" y1="2195.3" x2="656.69" y2="2250.71"/>
<line x1="597.11" y1="2373.19" x2="656.69" y2="2192.52"/>
<line x1="597.11" y1="2390.65" x2="656.69" y2="2419.19"/>
<line x1="597.11" y1="2425.28" x2="656.69" y2="2385.1"/>
<line x1="597.11" y1="2433.6" x2="656.69" y2="2403.12"/>
<line x1="597.11" y1="2434.98" x2="656.69" y2="2431.38"/>
<line x1="597.11" y1="2436.92" x2="656.69" y2="2436.37"/>
<line x1="597.11" y1="2441.91" x2="656.69" y2="2438.31"/>
</g>
<g stroke="#e2e2e2" stroke-width="3.4" stroke-linecap="round">
<line x1="716.26" y1="2379.56" x2="775.28" y2="2443.85"/>
<line x1="716.26" y1="2393.42" x2="775.28" y2="2436.37"/>
<line x1="716.26" y1="2397.02" x2="775.28" y2="2429.99"/>
<line x1="716.26" y1="2411.43" x2="775.28" y2="2414.2"/>
<line x1="716.26" y1="2417.8" x2="775.28" y2="2316.39"/>
<line x1="716.26" y1="2429.44" x2="775.28" y2="2291.72"/>
<line x1="716.26" y1="2433.6" x2="775.28" y2="2170.36"/>
<line x1="716.26" y1="2441.08" x2="775.28" y2="2170.36"/>
<line x1="716.26" y1="2448.28" x2="775.28" y2="2429.99"/>
</g>
<circle cx="597.11" cy="2195.3" r="4.7" fill="#3d9f8f"/>
<circle cx="598.77" cy="2373.19" r="4.7" fill="#3d9f8f"/>
<circle cx="598.77" cy="2390.65" r="4.7" fill="#3d9f8f"/>
<circle cx="597.39" cy="2425.28" r="4.7" fill="#3d9f8f"/>
<circle cx="599.33" cy="2433.6" r="4.7" fill="#3d9f8f"/>
<circle cx="596.56" cy="2436.92" r="4.7" fill="#3d9f8f"/>
<circle cx="598.5" cy="2441.91" r="4.7" fill="#3d9f8f"/>
<circle cx="656.69" cy="2192.52" r="4.7" fill="#3d9f8f"/>
<circle cx="658.35" cy="2250.71" r="4.7" fill="#3d9f8f"/>
<circle cx="656.69" cy="2385.1" r="4.7" fill="#3d9f8f"/>
<circle cx="655.02" cy="2403.12" r="4.7" fill="#3d9f8f"/>
<circle cx="658.9" cy="2419.19" r="4.7" fill="#3d9f8f"/>
<circle cx="656.13" cy="2431.38" r="4.7" fill="#3d9f8f"/>
<circle cx="655.58" cy="2436.37" r="4.7" fill="#3d9f8f"/>
<circle cx="658.9" cy="2438.31" r="4.7" fill="#3d9f8f"/>
<polygon points="716.54,2374.79 721.31,2379.56 716.54,2384.33 711.77,2379.56" fill="#cd555a"/>
<polygon points="716.54,2388.65 721.31,2393.42 716.54,2398.19 711.77,2393.42" fill="#cd555a"/>
<polygon points="718.48,2392.25 723.25,2397.02 718.48,2401.79 713.71,2397.02" fill="#cd555a"/>
<polygon points="717.09,2406.66 721.86,2411.43 717.09,2416.2 712.32,2411.43" fill="#cd555a"/>
<polygon points="715.15,2413.03 719.92,2417.8 715.15,2422.57 710.38,2417.8" fill="#cd555a"/>
<polygon points="716.54,2424.67 721.31,2429.44 716.54,2434.21 711.77,2429.44" fill="#cd555a"/>
<polygon points="715.71,2428.83 720.48,2433.6 715.71,2438.37 710.94,2433.6" fill="#cd555a"/>
<polygon points="717.09,2436.31 721.86,2441.08 717.09,2445.85 712.32,2441.08" fill="#cd555a"/>
<polygon points="716.26,2443.51 721.03,2448.28 716.26,2453.05 711.49,2448.28" fill="#cd555a"/>
<polygon points="775.28,2165.59 780.05,2170.36 775.28,2175.13 770.51,2170.36" fill="#cd555a"/>
<polygon points="776.11,2286.95 780.88,2291.72 776.11,2296.49 771.34,2291.72" fill="#cd555a"/>
<polygon points="776.11,2311.62 780.88,2316.39 776.11,2321.16 771.34,2316.39" fill="#cd555a"/>
<polygon points="776.67,2409.43 781.44,2414.2 776.67,2418.97 771.9,2414.2" fill="#cd555a"/>
<polygon points="774.73,2425.22 779.5,2429.99 774.73,2434.76 769.96,2429.99" fill="#cd555a"/>
<polygon points="774.45,2431.6 779.22,2436.37 774.45,2441.14 769.68,2436.37" fill="#cd555a"/>
<polygon points="776.11,2439.08 780.88,2443.85 776.11,2448.62 771.34,2443.85" fill="#cd555a"/>
<path d="M665 2147.08 L665 2142.65 L773.34 2142.65 L773.34 2147.08" fill="none" stroke="#000" stroke-width="3.6" stroke-linejoin="miter"/>
<text x="717.09" y="2143.28" font-size="29.5" fill="#000" text-anchor="middle" stroke="#000" stroke-width="0.5">**</text>
<path d="M890.84 2159.27 L890.84 2453.55 L1140.22 2453.55" fill="none" stroke="#000" stroke-width="3.3" stroke-linejoin="miter"/>
<line x1="884.54" y1="2160.66" x2="890.84" y2="2160.66" stroke="#2a2a2a" stroke-width="3.3"/>
<text x="878.04" y="2167.26" font-size="18.5" fill="#4d4d4d" text-anchor="end">100</text>
<line x1="884.54" y1="2233.53" x2="890.84" y2="2233.53" stroke="#2a2a2a" stroke-width="3.3"/>
<text x="878.04" y="2240.13" font-size="18.5" fill="#4d4d4d" text-anchor="end">75</text>
<line x1="884.54" y1="2306.96" x2="890.84" y2="2306.96" stroke="#2a2a2a" stroke-width="3.3"/>
<text x="878.04" y="2313.56" font-size="18.5" fill="#4d4d4d" text-anchor="end">50</text>
<line x1="884.54" y1="2380.39" x2="890.84" y2="2380.39" stroke="#2a2a2a" stroke-width="3.3"/>
<text x="878.04" y="2386.99" font-size="18.5" fill="#4d4d4d" text-anchor="end">25</text>
<line x1="884.54" y1="2453.55" x2="890.84" y2="2453.55" stroke="#2a2a2a" stroke-width="3.3"/>
<text x="878.04" y="2460.15" font-size="18.5" fill="#4d4d4d" text-anchor="end">0</text>
<line x1="926.31" y1="2453.55" x2="926.31" y2="2459.35" stroke="#1a1a1a" stroke-width="3.3"/>
<text x="928.8" y="2485.41" font-size="19.2" fill="#4d4d4d" text-anchor="middle">Pre</text>
<line x1="985.88" y1="2453.55" x2="985.88" y2="2459.35" stroke="#1a1a1a" stroke-width="3.3"/>
<text x="986.99" y="2485.41" font-size="19.2" fill="#4d4d4d" text-anchor="middle">Post</text>
<line x1="1045.46" y1="2453.55" x2="1045.46" y2="2459.35" stroke="#1a1a1a" stroke-width="3.3"/>
<text x="1045.18" y="2485.41" font-size="19.2" fill="#4d4d4d" text-anchor="middle">Pre</text>
<line x1="1104.75" y1="2453.55" x2="1104.75" y2="2459.35" stroke="#1a1a1a" stroke-width="3.3"/>
<text x="1104.2" y="2485.41" font-size="19.2" fill="#4d4d4d" text-anchor="middle">Post</text>
<text x="956.23" y="2513.95" font-size="19.4" fill="#4d4d4d" text-anchor="middle">Ctrl</text>
<text x="1068.45" y="2513.95" font-size="19.4" fill="#4d4d4d" text-anchor="middle">Cond</text>
<text x="840.41" y="2303.92" font-size="26.5" fill="#000" text-anchor="middle" transform="rotate(-90 840.41 2303.92)">Time spent in chamber 2 (%)</text>
<line x1="926.72" y1="2272.88" x2="926.72" y2="2293.66" stroke="#333" stroke-width="3.2"/>
<line x1="926.72" y1="2348.53" x2="926.72" y2="2360.17" stroke="#333" stroke-width="3.2"/>
<rect x="903.86" y="2293.66" width="45.72" height="54.86" fill="#fff" stroke="#333" stroke-width="3.2" stroke-linejoin="round"/>
<line x1="903.86" y1="2311.67" x2="949.58" y2="2311.67" stroke="#333" stroke-width="6"/>
<line x1="986.3" y1="2267.34" x2="986.3" y2="2274.82" stroke="#333" stroke-width="3.2"/>
<line x1="986.3" y1="2371.25" x2="986.3" y2="2396.19" stroke="#333" stroke-width="3.2"/>
<rect x="963.44" y="2274.82" width="45.72" height="96.43" fill="#fff" stroke="#333" stroke-width="3.2" stroke-linejoin="round"/>
<line x1="963.44" y1="2292.28" x2="1009.16" y2="2292.28" stroke="#333" stroke-width="6"/>
<line x1="1045.87" y1="2256.26" x2="1045.87" y2="2261.8" stroke="#333" stroke-width="3.2"/>
<line x1="1045.87" y1="2291.72" x2="1045.87" y2="2316.39" stroke="#333" stroke-width="3.2"/>
<rect x="1023.01" y="2261.8" width="45.72" height="29.93" fill="#fff" stroke="#333" stroke-width="3.2" stroke-linejoin="round"/>
<line x1="1023.01" y1="2281.19" x2="1068.73" y2="2281.19" stroke="#333" stroke-width="6"/>
<line x1="1105.45" y1="2203.61" x2="1105.45" y2="2227.72" stroke="#333" stroke-width="3.2"/>
<line x1="1105.45" y1="2292.28" x2="1105.45" y2="2359.33" stroke="#333" stroke-width="3.2"/>
<rect x="1082.59" y="2227.72" width="45.72" height="64.56" fill="#fff" stroke="#333" stroke-width="3.2" stroke-linejoin="round"/>
<line x1="1082.59" y1="2254.04" x2="1128.31" y2="2254.04" stroke="#333" stroke-width="6"/>
<g stroke="#e2e2e2" stroke-width="3.4" stroke-linecap="round">
<line x1="926.86" y1="2273.16" x2="985.88" y2="2267.34"/>
<line x1="926.86" y1="2283.41" x2="985.88" y2="2273.44"/>
<line x1="926.86" y1="2294.5" x2="985.88" y2="2283.41"/>
<line x1="926.86" y1="2299.76" x2="985.88" y2="2299.76"/>
<line x1="926.86" y1="2322.2" x2="985.88" y2="2385.94"/>
<line x1="926.86" y1="2339.38" x2="985.88" y2="2324.98"/>
<line x1="926.86" y1="2350.47" x2="985.88" y2="2278.42"/>
<line x1="926.86" y1="2356.84" x2="985.88" y2="2390.09"/>
<line x1="926.86" y1="2360.17" x2="985.88" y2="2396.19"/>
</g>
<g stroke="#e2e2e2" stroke-width="3.4" stroke-linecap="round">
<line x1="1045.18" y1="2257.09" x2="1105.58" y2="2203.61"/>
<line x1="1045.18" y1="2261.24" x2="1105.58" y2="2296.43"/>
<line x1="1045.18" y1="2265.95" x2="1105.58" y2="2225.78"/>
<line x1="1045.18" y1="2278.98" x2="1105.58" y2="2238.25"/>
<line x1="1045.18" y1="2285.35" x2="1105.58" y2="2249.33"/>
<line x1="1045.18" y1="2290.89" x2="1105.58" y2="2278.98"/>
<line x1="1045.18" y1="2316.39" x2="1105.58" y2="2259.03"/>
<line x1="1045.18" y1="2390.09" x2="1105.58" y2="2359.33"/>
<line x1="1045.18" y1="2270.11" x2="1105.58" y2="2300.04"/>
</g>
<circle cx="926.86" cy="2273.16" r="4.7" fill="#3d9f8f"/>
<circle cx="928.25" cy="2283.41" r="4.7" fill="#3d9f8f"/>
<circle cx="926.31" cy="2294.5" r="4.7" fill="#3d9f8f"/>
<circle cx="926.03" cy="2299.76" r="4.7" fill="#3d9f8f"/>
<circle cx="928.25" cy="2322.2" r="4.7" fill="#3d9f8f"/>
<circle cx="927.69" cy="2339.38" r="4.7" fill="#3d9f8f"/>
<circle cx="924.92" cy="2350.47" r="4.7" fill="#3d9f8f"/>
<circle cx="926.86" cy="2356.84" r="4.7" fill="#3d9f8f"/>
<circle cx="927.69" cy="2360.17" r="4.7" fill="#3d9f8f"/>
<circle cx="984.5" cy="2267.34" r="4.7" fill="#3d9f8f"/>
<circle cx="987.27" cy="2273.44" r="4.7" fill="#3d9f8f"/>
<circle cx="986.43" cy="2278.42" r="4.7" fill="#3d9f8f"/>
<circle cx="986.99" cy="2283.41" r="4.7" fill="#3d9f8f"/>
<circle cx="985.6" cy="2299.76" r="4.7" fill="#3d9f8f"/>
<circle cx="985.05" cy="2324.98" r="4.7" fill="#3d9f8f"/>
<circle cx="984.5" cy="2385.94" r="4.7" fill="#3d9f8f"/>
<circle cx="984.5" cy="2390.09" r="4.7" fill="#3d9f8f"/>
<circle cx="986.43" cy="2396.19" r="4.7" fill="#3d9f8f"/>
<polygon points="1045.18,2252.32 1049.95,2257.09 1045.18,2261.86 1040.41,2257.09" fill="#cd555a"/>
<polygon points="1044.62,2256.47 1049.39,2261.24 1044.62,2266.01 1039.85,2261.24" fill="#cd555a"/>
<polygon points="1044.07,2261.18 1048.84,2265.95 1044.07,2270.72 1039.3,2265.95" fill="#cd555a"/>
<polygon points="1046.01,2274.21 1050.78,2278.98 1046.01,2283.75 1041.24,2278.98" fill="#cd555a"/>
<polygon points="1044.62,2280.58 1049.39,2285.35 1044.62,2290.12 1039.85,2285.35" fill="#cd555a"/>
<polygon points="1046.01,2286.12 1050.78,2290.89 1046.01,2295.66 1041.24,2290.89" fill="#cd555a"/>
<polygon points="1045.46,2311.62 1050.23,2316.39 1045.46,2321.16 1040.69,2316.39" fill="#cd555a"/>
<polygon points="1047.4,2385.32 1052.17,2390.09 1047.4,2394.86 1042.63,2390.09" fill="#cd555a"/>
<polygon points="1104.75,2198.84 1109.52,2203.61 1104.75,2208.38 1099.98,2203.61" fill="#cd555a"/>
<polygon points="1106.14,2221.01 1110.91,2225.78 1106.14,2230.55 1101.37,2225.78" fill="#cd555a"/>
<polygon points="1104.75,2233.48 1109.52,2238.25 1104.75,2243.02 1099.98,2238.25" fill="#cd555a"/>
<polygon points="1105.03,2244.56 1109.8,2249.33 1105.03,2254.1 1100.26,2249.33" fill="#cd555a"/>
<polygon points="1106.97,2254.26 1111.74,2259.03 1106.97,2263.8 1102.2,2259.03" fill="#cd555a"/>
<polygon points="1106.42,2274.21 1111.19,2278.98 1106.42,2283.75 1101.65,2278.98" fill="#cd555a"/>
<polygon points="1105.03,2291.66 1109.8,2296.43 1105.03,2301.2 1100.26,2296.43" fill="#cd555a"/>
<polygon points="1105.58,2295.27 1110.35,2300.04 1105.58,2304.81 1100.81,2300.04" fill="#cd555a"/>
<polygon points="1105.03,2354.56 1109.8,2359.33 1105.03,2364.1 1100.26,2359.33" fill="#cd555a"/>
<path d="M961.5 2186.43 L961.5 2182 L1069.56 2182 L1069.56 2186.43" fill="none" stroke="#000" stroke-width="3.6" stroke-linejoin="miter"/>
<text x="1013.59" y="2183.18" font-size="29.5" fill="#000" text-anchor="middle" stroke="#000" stroke-width="0.5">**</text>
<text x="1132.7" y="2116.19" font-size="31.2" fill="#1a1a1a" font-weight="bold">s</text>
<linearGradient id="g2456" gradientUnits="userSpaceOnUse" x1="1195.37" y1="0" x2="1359.69" y2="0"><stop offset="0" stop-color="#555"/><stop offset="1" stop-color="#fff"/></linearGradient>
<rect x="1195.37" y="2116.96" width="164.32" height="2.6" fill="url(#g2456)"/>
<text x="1449.74" y="2130.18" font-size="26.4" fill="#333">Post</text>
<path d="M1223.36 2168.97 L1223.36 2461.31 L1348.6 2461.31" fill="none" stroke="#000" stroke-width="3.3" stroke-linejoin="miter"/>
<line x1="1217.06" y1="2195.85" x2="1223.36" y2="2195.85" stroke="#2a2a2a" stroke-width="3.3"/>
<text x="1210.56" y="2202.45" font-size="18.5" fill="#4d4d4d" text-anchor="end">80</text>
<line x1="1217.06" y1="2265.4" x2="1223.36" y2="2265.4" stroke="#2a2a2a" stroke-width="3.3"/>
<text x="1210.56" y="2272" font-size="18.5" fill="#4d4d4d" text-anchor="end">60</text>
<line x1="1217.06" y1="2335.23" x2="1223.36" y2="2335.23" stroke="#2a2a2a" stroke-width="3.3"/>
<text x="1210.56" y="2341.83" font-size="18.5" fill="#4d4d4d" text-anchor="end">40</text>
<line x1="1217.06" y1="2405.06" x2="1223.36" y2="2405.06" stroke="#2a2a2a" stroke-width="3.3"/>
<text x="1210.56" y="2411.66" font-size="18.5" fill="#4d4d4d" text-anchor="end">20</text>
<line x1="1257.16" y1="2461.31" x2="1257.16" y2="2467.11" stroke="#1a1a1a" stroke-width="3.3"/>
<text x="1257.16" y="2487.08" font-size="19.2" fill="#4d4d4d" text-anchor="middle">Ctrl</text>
<line x1="1314.52" y1="2461.31" x2="1314.52" y2="2467.11" stroke="#1a1a1a" stroke-width="3.3"/>
<text x="1314.52" y="2487.08" font-size="19.2" fill="#4d4d4d" text-anchor="middle">Cond</text>
<text x="1184.56" y="2315" font-size="26.5" fill="#000" text-anchor="middle" transform="rotate(-90 1184.56 2315)">Latency of 1st licking (s)</text>
<line x1="1257.72" y1="2402.56" x2="1257.72" y2="2408.66" stroke="#333" stroke-width="3.2"/>
<line x1="1257.72" y1="2427.5" x2="1257.72" y2="2447.45" stroke="#333" stroke-width="3.2"/>
<rect x="1235.55" y="2408.66" width="44.33" height="18.84" fill="#fff" stroke="#333" stroke-width="3.2" stroke-linejoin="round"/>
<line x1="1235.55" y1="2420.3" x2="1279.88" y2="2420.3" stroke="#333" stroke-width="6"/>
<line x1="1314.66" y1="2342.16" x2="1314.66" y2="2346.31" stroke="#333" stroke-width="3.2"/>
<line x1="1314.66" y1="2399.51" x2="1314.66" y2="2422.51" stroke="#333" stroke-width="3.2"/>
<rect x="1292.63" y="2346.31" width="44.06" height="53.2" fill="#fff" stroke="#333" stroke-width="3.2" stroke-linejoin="round"/>
<line x1="1292.63" y1="2373.47" x2="1336.69" y2="2373.47" stroke="#333" stroke-width="6"/>
<circle cx="1254.39" cy="2339.38" r="4.7" fill="#3d9f8f"/>
<circle cx="1264.09" cy="2402.56" r="4.7" fill="#3d9f8f"/>
<circle cx="1260.49" cy="2405.89" r="4.7" fill="#3d9f8f"/>
<circle cx="1259.93" cy="2417.8" r="4.7" fill="#3d9f8f"/>
<circle cx="1252.17" cy="2420.57" r="4.7" fill="#3d9f8f"/>
<circle cx="1255.78" cy="2425.28" r="4.7" fill="#3d9f8f"/>
<circle cx="1254.39" cy="2428.89" r="4.7" fill="#3d9f8f"/>
<circle cx="1263.53" cy="2441.08" r="4.7" fill="#3d9f8f"/>
<circle cx="1253.56" cy="2448.84" r="4.7" fill="#3d9f8f"/>
<polygon points="1320.89,2176.25 1326.09,2181.44 1320.89,2186.63 1315.7,2181.44" fill="#cd555a"/>
<polygon points="1318.12,2337.79 1323.32,2342.99 1318.12,2348.18 1312.93,2342.99" fill="#cd555a"/>
<polygon points="1314.8,2350.26 1319.99,2355.46 1314.8,2360.65 1309.6,2355.46" fill="#cd555a"/>
<polygon points="1307.59,2358.57 1312.79,2363.77 1307.59,2368.96 1302.4,2363.77" fill="#cd555a"/>
<polygon points="1318.68,2378.53 1323.87,2383.72 1318.68,2388.91 1313.48,2383.72" fill="#cd555a"/>
<polygon points="1320.89,2384.07 1326.09,2389.26 1320.89,2394.46 1315.7,2389.26" fill="#cd555a"/>
<polygon points="1321.45,2397.92 1326.64,2403.12 1321.45,2408.31 1316.25,2403.12" fill="#cd555a"/>
<polygon points="1313.13,2413.72 1318.33,2418.91 1313.13,2424.1 1307.94,2418.91" fill="#cd555a"/>
<polygon points="1312.03,2417.32 1317.22,2422.51 1312.03,2427.71 1306.83,2422.51" fill="#cd555a"/>
<path d="M1250.23 2159.55 L1250.23 2155.12 L1320.34 2155.12 L1320.34 2159.55" fill="none" stroke="#000" stroke-width="3.6" stroke-linejoin="miter"/>
<text x="1286.26" y="2159.91" font-size="29.5" fill="#000" text-anchor="middle" stroke="#000" stroke-width="0.5">*</text>
<path d="M1441.98 2168.97 L1441.98 2461.31 L1556.42 2461.31" fill="none" stroke="#000" stroke-width="3.3" stroke-linejoin="miter"/>
<line x1="1435.68" y1="2189.75" x2="1441.98" y2="2189.75" stroke="#2a2a2a" stroke-width="3.3"/>
<text x="1429.18" y="2196.35" font-size="18.5" fill="#4d4d4d" text-anchor="end">150</text>
<line x1="1435.68" y1="2278.42" x2="1441.98" y2="2278.42" stroke="#2a2a2a" stroke-width="3.3"/>
<text x="1429.18" y="2285.02" font-size="18.5" fill="#4d4d4d" text-anchor="end">100</text>
<line x1="1435.68" y1="2367.09" x2="1441.98" y2="2367.09" stroke="#2a2a2a" stroke-width="3.3"/>
<text x="1429.18" y="2373.69" font-size="18.5" fill="#4d4d4d" text-anchor="end">50</text>
<line x1="1435.68" y1="2455.76" x2="1441.98" y2="2455.76" stroke="#2a2a2a" stroke-width="3.3"/>
<text x="1429.18" y="2462.36" font-size="18.5" fill="#4d4d4d" text-anchor="end">0</text>
<line x1="1472.74" y1="2461.31" x2="1472.74" y2="2467.11" stroke="#1a1a1a" stroke-width="3.3"/>
<text x="1472.74" y="2487.08" font-size="19.2" fill="#4d4d4d" text-anchor="middle">Ctrl</text>
<line x1="1525.39" y1="2461.31" x2="1525.39" y2="2467.11" stroke="#1a1a1a" stroke-width="3.3"/>
<text x="1525.39" y="2487.08" font-size="19.2" fill="#4d4d4d" text-anchor="middle">Cond</text>
<text x="1392.38" y="2314.45" font-size="26.5" fill="#000" text-anchor="middle" transform="rotate(-90 1392.38 2314.45)">Latency of 1st rearing (s)</text>
<line x1="1473.29" y1="2319.43" x2="1473.29" y2="2368.48" stroke="#333" stroke-width="3.2"/>
<line x1="1473.29" y1="2437.2" x2="1473.29" y2="2448.84" stroke="#333" stroke-width="3.2"/>
<rect x="1453.34" y="2368.48" width="39.9" height="68.72" fill="#fff" stroke="#333" stroke-width="3.2" stroke-linejoin="round"/>
<line x1="1453.34" y1="2396.74" x2="1493.25" y2="2396.74" stroke="#333" stroke-width="6"/>
<line x1="1525.25" y1="2363.77" x2="1525.25" y2="2371.25" stroke="#333" stroke-width="3.2"/>
<line x1="1525.25" y1="2433.6" x2="1525.25" y2="2437.75" stroke="#333" stroke-width="3.2"/>
<rect x="1505.16" y="2371.25" width="40.18" height="62.35" fill="#fff" stroke="#333" stroke-width="3.2" stroke-linejoin="round"/>
<line x1="1505.16" y1="2423.9" x2="1545.34" y2="2423.9" stroke="#333" stroke-width="6"/>
<circle cx="1472.46" cy="2181.44" r="4.7" fill="#3d9f8f"/>
<circle cx="1469.69" cy="2319.43" r="4.7" fill="#3d9f8f"/>
<circle cx="1469.14" cy="2366.26" r="4.7" fill="#3d9f8f"/>
<circle cx="1473.85" cy="2377.35" r="4.7" fill="#3d9f8f"/>
<circle cx="1475.51" cy="2395.36" r="4.7" fill="#3d9f8f"/>
<circle cx="1477.45" cy="2398.41" r="4.7" fill="#3d9f8f"/>
<circle cx="1476.62" cy="2423.34" r="4.7" fill="#3d9f8f"/>
<circle cx="1469.69" cy="2441.35" r="4.7" fill="#3d9f8f"/>
<circle cx="1471.91" cy="2448.84" r="4.7" fill="#3d9f8f"/>
<polygon points="1525.11,2228.34 1530.3,2233.53 1525.11,2238.73 1519.92,2233.53" fill="#cd555a"/>
<polygon points="1525.94,2250.23 1531.14,2255.42 1525.94,2260.62 1520.75,2255.42" fill="#cd555a"/>
<polygon points="1528.16,2358.57 1533.35,2363.77 1528.16,2368.96 1522.96,2363.77" fill="#cd555a"/>
<polygon points="1526.5,2390.44 1531.69,2395.63 1526.5,2400.83 1521.3,2395.63" fill="#cd555a"/>
<polygon points="1519.01,2418.7 1524.21,2423.9 1519.01,2429.09 1513.82,2423.9" fill="#cd555a"/>
<polygon points="1528.16,2420.09 1533.35,2425.28 1528.16,2430.48 1522.96,2425.28" fill="#cd555a"/>
<polygon points="1523.73,2429.23 1528.92,2434.43 1523.73,2439.62 1518.53,2434.43" fill="#cd555a"/>
<polygon points="1531.48,2431.73 1536.68,2436.92 1531.48,2442.12 1526.29,2436.92" fill="#cd555a"/>
<linearGradient id="g2540" gradientUnits="userSpaceOnUse" x1="1598.54" y1="0" x2="1760.64" y2="0"><stop offset="0" stop-color="#fff"/><stop offset="1" stop-color="#555"/></linearGradient>
<rect x="1598.54" y="2116.96" width="162.1" height="2.6" fill="url(#g2540)"/>
<path d="M1649.8 2168.97 L1649.8 2461.31 L1763.41 2461.31" fill="none" stroke="#000" stroke-width="3.3" stroke-linejoin="miter"/>
<line x1="1643.5" y1="2181.44" x2="1649.8" y2="2181.44" stroke="#2a2a2a" stroke-width="3.3"/>
<text x="1637" y="2188.04" font-size="18.5" fill="#4d4d4d" text-anchor="end">180</text>
<line x1="1643.5" y1="2256.26" x2="1649.8" y2="2256.26" stroke="#2a2a2a" stroke-width="3.3"/>
<text x="1637" y="2262.86" font-size="18.5" fill="#4d4d4d" text-anchor="end">150</text>
<line x1="1643.5" y1="2331.07" x2="1649.8" y2="2331.07" stroke="#2a2a2a" stroke-width="3.3"/>
<text x="1637" y="2337.67" font-size="18.5" fill="#4d4d4d" text-anchor="end">120</text>
<line x1="1643.5" y1="2405.33" x2="1649.8" y2="2405.33" stroke="#2a2a2a" stroke-width="3.3"/>
<text x="1637" y="2411.93" font-size="18.5" fill="#4d4d4d" text-anchor="end">90</text>
<line x1="1680.84" y1="2461.31" x2="1680.84" y2="2467.11" stroke="#1a1a1a" stroke-width="3.3"/>
<text x="1680.84" y="2487.08" font-size="19.2" fill="#4d4d4d" text-anchor="middle">Ctrl</text>
<line x1="1732.93" y1="2461.31" x2="1732.93" y2="2467.11" stroke="#1a1a1a" stroke-width="3.3"/>
<text x="1732.93" y="2487.08" font-size="19.2" fill="#4d4d4d" text-anchor="middle">Cond</text>
<text x="1599.93" y="2315" font-size="26.5" fill="#000" text-anchor="middle" transform="rotate(-90 1599.93 2315)">Latency of 1st jumping (s)</text>
<line x1="1680.7" y1="2182.83" x2="1680.7" y2="2210.54" stroke="#333" stroke-width="3.2"/>
<rect x="1660.89" y="2210.54" width="39.62" height="72.88" fill="#fff" stroke="#333" stroke-width="3.2" stroke-linejoin="round"/>
<line x1="1660.89" y1="2236.31" x2="1700.51" y2="2236.31" stroke="#333" stroke-width="6"/>
<line x1="1733.07" y1="2207.76" x2="1733.07" y2="2241.02" stroke="#333" stroke-width="3.2"/>
<rect x="1712.98" y="2182.83" width="40.18" height="24.94" fill="#fff" stroke="#333" stroke-width="3.2" stroke-linejoin="round"/>
<line x1="1712.98" y1="2185.6" x2="1753.16" y2="2185.6" stroke="#333" stroke-width="6"/>
<circle cx="1677.51" cy="2182.27" r="4.7" fill="#3d9f8f"/>
<circle cx="1685.27" cy="2209.7" r="4.7" fill="#3d9f8f"/>
<circle cx="1679.45" cy="2216.08" r="4.7" fill="#3d9f8f"/>
<circle cx="1687.21" cy="2228.55" r="4.7" fill="#3d9f8f"/>
<circle cx="1685.83" cy="2244.34" r="4.7" fill="#3d9f8f"/>
<circle cx="1674.74" cy="2273.71" r="4.7" fill="#3d9f8f"/>
<circle cx="1682.22" cy="2286.18" r="4.7" fill="#3d9f8f"/>
<circle cx="1686.38" cy="2425.28" r="4.7" fill="#3d9f8f"/>
<circle cx="1684.99" cy="2448.84" r="4.7" fill="#3d9f8f"/>
<polygon points="1727.39,2176.25 1732.58,2181.44 1727.39,2186.63 1722.2,2181.44" fill="#cd555a"/>
<polygon points="1731.55,2177.63 1736.74,2182.83 1731.55,2188.02 1726.35,2182.83" fill="#cd555a"/>
<polygon points="1735.7,2180.4 1740.9,2185.6 1735.7,2190.79 1730.51,2185.6" fill="#cd555a"/>
<polygon points="1739.86,2185.11 1745.05,2190.31 1739.86,2195.5 1734.66,2190.31" fill="#cd555a"/>
<polygon points="1729.61,2207.56 1734.8,2212.75 1729.61,2217.95 1724.41,2212.75" fill="#cd555a"/>
<polygon points="1729.61,2235.82 1734.8,2241.02 1729.61,2246.21 1724.41,2241.02" fill="#cd555a"/>
<polygon points="1729.33,2269.63 1734.52,2274.82 1729.33,2280.02 1724.13,2274.82" fill="#cd555a"/>
<path d="M1669.2 2160.94 L1669.2 2157.06 L1739.03 2157.06 L1739.03 2160.94" fill="none" stroke="#000" stroke-width="3.6" stroke-linejoin="miter"/>
<text x="1706.05" y="2149.58" font-size="21.8" fill="#000" text-anchor="middle"><tspan font-style="italic">P</tspan> = 0.07</text>
</svg>
</body></html>
